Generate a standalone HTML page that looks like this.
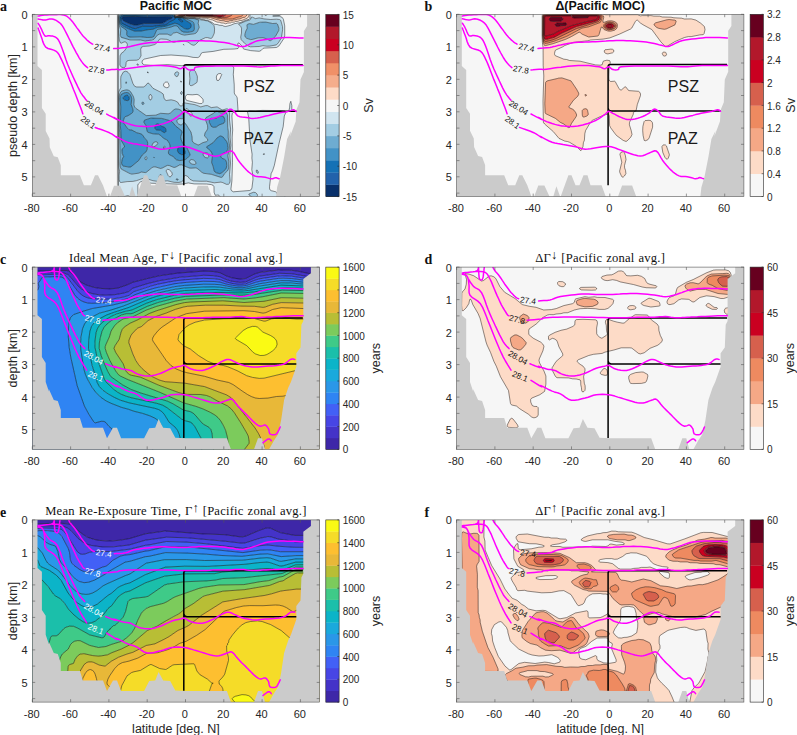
<!DOCTYPE html>
<html lang="en"><head><meta charset="utf-8"><title>Pacific MOC and age figure</title>
<style>html,body{margin:0;padding:0;background:#fff}svg{display:block}</style></head>
<body>
<svg width="797" height="735" viewBox="0 0 797 735" font-family='"Liberation Sans", Arial, Helvetica, sans-serif' fill="#262626">
<rect width="797" height="735" fill="#fff"/>
<defs>
<clipPath id="cpa"><rect x="32.3" y="14.4" width="287.3" height="182.2"/></clipPath>
<clipPath id="cpb"><rect x="456.6" y="14.3" width="287.3" height="182.2"/></clipPath>
<clipPath id="cpc"><rect x="32.3" y="267.1" width="287.3" height="182.2"/></clipPath>
<clipPath id="cpd"><rect x="456.6" y="267.1" width="287.3" height="182.2"/></clipPath>
<clipPath id="cpe"><rect x="32.3" y="519.9" width="287.3" height="182.2"/></clipPath>
<clipPath id="cpf"><rect x="456.6" y="519.9" width="287.3" height="182.2"/></clipPath>
<linearGradient id="edgeg" x1="0" x2="1" y1="0" y2="0"><stop offset="0" stop-color="#777" stop-opacity="0.05"/><stop offset="1" stop-color="#444" stop-opacity="0.75"/></linearGradient>
</defs>
<g id="panel-a">
<rect x="32.3" y="14.4" width="287.3" height="182.2" fill="#f6f6f6"/>
<g clip-path="url(#cpa)">
<path d="M123.2 16.8L135.7 16.4L147.2 17.1L170.2 16.4L171.6 16.8L172.1 17.4L171.7 18.5L167.3 20.3L164.4 22.3L162.5 23.2L159.6 23.6L144.3 23.5L136.7 25.2L134.7 25.2L129.0 23.5L123.6 20.9L122.3 19.4L122.0 18.5L122.1 17.6L123.2 16.8Z" fill="#08306b" fill-rule="evenodd" stroke="#08306b" stroke-width="0.3"/>
<path d="M123.2 15.9L171.1 15.5L173.0 16.1L174.1 17.6L175.4 18.5L174.8 19.3L170.0 21.7L166.9 24.2L164.4 25.1L156.8 25.7L152.9 26.4L142.4 26.3L136.7 28.5L134.7 28.6L129.0 26.7L122.3 23.4L121.3 21.7L120.7 18.5L121.1 16.8L122.3 16.0ZM123.2 16.8L122.1 17.6L122.0 18.5L122.3 19.4L123.6 20.9L129.0 23.5L134.7 25.2L136.7 25.2L144.3 23.5L159.6 23.6L162.5 23.2L164.4 22.3L167.3 20.3L171.7 18.5L172.1 17.4L171.6 16.8L170.2 16.4L147.2 17.1L135.7 16.4L123.2 16.8ZM178.8 19.0L179.7 18.8L181.2 19.3L182.5 20.9L182.6 21.8L180.7 21.3L178.3 19.3Z" fill="#2262ab" fill-rule="evenodd" stroke="#2262ab" stroke-width="0.3"/>
<path d="M123.2 15.1L134.7 14.9L152.0 15.2L169.2 14.5L172.1 14.8L173.0 15.1L174.9 17.6L180.7 17.9L183.4 18.5L186.4 20.9L190.4 23.3L191.3 25.0L190.9 27.4L189.3 28.7L187.4 29.2L184.5 28.6L177.8 23.9L174.9 23.2L165.4 26.4L157.3 27.4L152.9 29.3L148.1 29.7L141.4 31.0L134.7 31.2L129.0 29.1L121.3 24.7L120.3 22.5L119.9 17.6L120.7 16.0L122.8 15.2ZM122.3 16.0L121.1 16.8L120.7 18.5L121.3 21.7L122.3 23.4L129.0 26.7L134.7 28.6L136.7 28.5L142.4 26.3L152.9 26.4L156.8 25.7L164.4 25.1L166.9 24.2L170.0 21.7L174.8 19.3L175.4 18.5L174.1 17.6L173.0 16.1L171.1 15.5L123.2 15.9ZM178.3 19.3L180.7 21.3L182.6 21.8L182.5 20.9L181.2 19.3L179.7 18.8L178.8 19.0ZM126.1 95.3L128.0 95.5L129.2 97.3L129.0 99.7L128.0 100.5L125.2 100.2L123.2 99.0L123.4 97.3L125.2 95.7ZM156.8 124.0L158.8 124.1L161.5 126.3L164.4 127.2L165.4 128.2L165.9 129.8L165.9 131.4L165.4 132.2L164.4 132.6L163.5 132.3L160.6 130.3L156.8 130.0L155.8 129.6L154.9 128.2L154.8 126.5L155.4 124.9L156.5 124.1ZM179.7 146.6L182.6 147.4L184.4 149.3L185.3 152.5L184.4 154.2L182.6 154.7L180.7 154.4L178.2 152.5L177.4 150.1L177.8 148.5L179.1 146.8Z" fill="#1571b5" fill-rule="evenodd" stroke="#1571b5" stroke-width="0.3"/>
<path d="M121.3 14.7L122.8 14.4L173.4 14.4L174.9 17.3L182.8 17.7L193.1 22.2L194.1 24.2L194.4 29.0L194.1 30.2L193.1 31.1L187.4 32.3L183.6 32.0L180.9 30.6L177.8 26.6L176.4 25.8L174.9 25.7L170.2 27.3L164.4 28.5L157.7 29.4L156.4 30.6L153.9 36.3L152.0 37.3L146.2 37.5L140.5 36.8L129.0 37.0L127.0 35.5L126.6 33.9L126.8 31.5L126.1 29.8L121.3 26.7L119.8 24.2L119.2 17.6L119.7 16.0L120.5 15.2ZM122.8 15.2L120.7 16.0L119.9 17.6L120.3 22.5L121.3 24.7L129.0 29.1L134.7 31.2L141.4 31.0L148.1 29.7L152.9 29.3L157.3 27.4L165.4 26.4L174.9 23.2L177.8 23.9L184.5 28.6L187.4 29.2L189.3 28.7L190.9 27.4L191.3 25.0L190.4 23.3L186.4 20.9L183.4 18.5L180.7 17.9L174.9 17.6L173.0 15.1L172.1 14.8L169.2 14.5L152.0 15.2L134.7 14.9L123.2 15.1ZM124.2 92.9L126.1 92.5L128.0 92.7L129.8 94.0L130.8 95.7L131.7 98.9L131.2 104.6L132.7 108.7L133.1 111.1L132.4 112.7L131.5 113.5L128.0 115.7L125.2 116.7L124.4 117.6L123.3 120.8L123.9 123.3L127.1 127.9L129.0 129.8L131.9 130.1L136.7 132.7L140.8 133.8L142.3 134.7L144.5 137.9L146.7 140.3L147.7 142.8L147.4 147.7L146.2 151.7L142.2 155.0L138.6 160.6L130.9 166.9L129.0 167.1L123.2 166.0L122.3 165.2L121.5 163.1L122.3 158.9L123.6 156.6L122.2 153.3L122.0 150.1L122.3 148.8L124.6 146.8L124.1 145.2L121.6 141.2L121.0 137.9L120.8 130.6L120.3 125.7L120.8 107.0L120.1 98.9L120.4 96.4L121.0 94.8L122.3 93.6L123.3 93.2ZM125.2 95.7L123.4 97.3L123.2 99.0L125.2 100.2L128.0 100.5L129.0 99.7L129.2 97.3L128.0 95.5L126.1 95.3ZM219.0 116.3L220.9 116.0L223.8 116.8L224.5 118.4L224.8 120.8L224.4 122.5L223.7 123.3L219.2 124.9L216.1 127.1L213.2 127.3L211.3 126.4L210.4 125.0L209.4 122.3L209.2 120.8L209.8 119.2L211.3 118.3L216.1 118.5L218.2 116.8ZM150.1 118.3L152.9 117.9L161.5 118.4L170.2 120.7L172.1 121.8L176.2 126.5L181.5 130.6L182.1 132.2L180.6 137.1L181.1 139.5L182.8 143.6L185.7 146.0L186.9 147.7L190.0 154.2L190.0 155.0L188.9 156.6L186.4 158.8L184.5 159.7L180.7 160.5L176.9 160.0L175.3 159.0L173.5 156.6L170.2 155.1L168.9 154.2L168.5 153.3L168.4 151.7L170.0 147.7L170.1 146.0L169.5 143.6L167.3 140.1L163.5 138.3L160.6 135.4L158.7 134.2L152.9 133.8L148.1 132.3L147.2 131.5L146.0 125.7L144.0 122.5L144.0 120.8L144.9 120.0L149.8 118.4ZM156.5 124.1L155.4 124.9L154.8 126.5L154.9 128.2L155.8 129.6L156.8 130.0L160.6 130.3L163.5 132.3L164.4 132.6L165.4 132.2L165.9 131.4L165.9 129.8L165.4 128.2L164.4 127.2L161.5 126.3L158.8 124.1L156.8 124.0ZM179.1 146.8L177.8 148.5L177.4 150.1L178.2 152.5L180.7 154.4L182.6 154.7L184.4 154.2L185.3 152.5L184.4 149.3L182.6 147.4L179.7 146.6ZM219.9 136.1L221.9 136.2L222.8 136.7L225.7 140.1L227.5 143.6L227.9 146.8L227.6 149.6L226.6 151.5L225.7 152.4L221.9 154.0L220.7 155.8L220.9 157.0L221.8 158.2L224.7 159.4L225.9 160.7L226.6 163.1L226.5 167.2L225.9 168.8L224.7 170.1L221.9 172.6L219.9 173.7L216.4 172.8L215.0 172.0L214.2 171.0L213.1 166.3L211.6 162.3L212.4 156.6L212.0 153.3L210.7 150.9L206.8 147.7L206.6 146.8L213.2 142.6L217.1 137.9L219.4 136.3ZM153.9 157.2L154.2 157.4L153.9 157.8L153.8 157.4Z" fill="#4292c6" fill-rule="evenodd" stroke="#4292c6" stroke-width="0.3"/>
<path d="M119.4 15.1L120.1 14.4L122.8 14.4L120.4 15.3L119.3 16.8L119.5 23.3L120.4 25.6L121.3 26.7L126.1 29.8L126.8 31.5L126.6 33.9L127.0 35.5L129.0 37.0L140.5 36.8L146.2 37.5L152.0 37.3L153.9 36.3L156.4 30.6L157.7 29.4L164.4 28.5L170.2 27.3L174.9 25.7L176.4 25.8L177.8 26.6L180.9 30.6L183.6 32.0L187.4 32.3L193.1 31.1L194.1 30.2L194.4 29.0L194.1 24.2L193.1 22.2L182.8 17.6L174.9 17.3L173.4 14.4L174.2 14.4L174.8 16.8L175.9 17.2L182.6 17.3L184.5 18.1L188.3 18.6L194.1 18.6L198.8 20.1L198.2 23.3L199.2 27.4L196.8 32.3L195.0 33.5L185.5 35.1L181.6 34.5L176.9 32.3L173.4 33.1L171.1 35.3L170.2 35.3L167.3 34.1L159.6 34.1L157.7 34.9L153.9 39.3L146.2 41.0L140.5 40.0L129.0 39.7L122.3 37.9L121.3 37.4L120.6 36.3L120.2 34.7L120.7 29.8L119.3 25.8L118.6 20.9L118.5 16.8L119.3 15.2ZM259.2 22.4L262.1 22.0L265.9 22.1L272.6 23.5L276.4 23.3L277.4 24.0L278.7 27.4L278.7 30.6L275.5 36.3L272.6 39.2L270.7 40.6L269.7 40.6L266.7 38.8L263.0 37.7L258.2 37.8L252.5 39.4L250.6 39.6L246.7 38.3L245.3 37.2L244.8 35.5L245.0 33.9L245.8 31.1L247.3 28.2L246.9 25.0L247.6 24.2L249.6 23.6L253.4 24.4L258.7 22.5ZM126.1 81.8L126.5 82.6L126.3 83.5L125.8 82.7L126.0 81.8ZM126.1 89.9L128.0 90.0L129.9 91.0L131.2 92.4L133.4 96.5L134.2 99.7L133.8 104.6L134.7 107.1L135.7 108.2L146.2 115.6L155.8 115.2L160.6 113.3L168.2 113.8L170.2 113.2L174.0 109.6L175.9 108.9L178.8 109.3L181.1 110.3L182.7 112.7L183.3 115.2L183.3 117.6L182.6 118.8L179.7 118.5L177.8 119.3L176.8 120.8L177.2 122.5L178.8 124.1L180.7 124.9L181.7 124.9L183.6 122.8L184.5 122.7L185.5 123.6L191.0 132.2L192.1 137.1L192.2 140.3L192.8 142.0L194.1 143.1L197.9 144.9L198.9 144.9L202.7 142.7L206.5 141.6L207.9 140.3L207.3 138.7L204.7 136.3L204.5 135.5L205.0 133.0L207.2 129.8L207.7 128.2L207.5 125.3L205.3 119.2L206.0 117.6L213.2 113.5L216.1 111.3L217.1 111.3L220.9 112.9L225.7 112.7L226.6 113.1L227.5 115.2L227.7 127.3L228.3 131.4L228.2 137.1L229.5 145.2L229.3 149.3L227.8 155.8L228.8 161.5L228.7 167.2L228.5 168.8L227.6 170.7L224.7 173.4L222.8 176.5L221.9 177.3L219.9 177.3L211.3 174.3L203.7 173.3L201.8 172.3L197.9 168.9L196.0 167.8L191.2 168.2L189.3 168.0L181.6 164.8L179.7 164.9L175.9 167.0L174.0 167.5L169.2 165.5L167.3 165.4L162.5 167.9L160.6 168.5L155.8 167.0L153.9 166.8L152.0 167.6L146.2 172.4L145.3 172.6L141.4 172.0L138.6 173.2L131.9 174.1L129.9 173.6L121.3 169.1L120.3 167.2L119.9 163.9L120.1 156.6L119.6 132.2L119.1 124.9L119.1 97.3L119.7 94.0L121.0 91.6L122.3 90.8L126.0 90.0ZM123.3 93.2L122.3 93.6L121.0 94.8L120.4 96.4L120.1 98.9L120.8 107.0L120.3 125.7L120.8 130.6L121.0 137.9L121.6 141.2L124.1 145.2L124.6 146.8L122.3 148.8L122.0 150.1L122.2 153.3L123.6 156.6L122.3 158.9L121.5 163.1L122.3 165.2L123.2 166.0L129.0 167.1L130.9 166.9L138.6 160.6L142.2 155.0L146.2 151.7L147.4 147.7L147.7 142.8L146.7 140.3L144.5 137.9L142.3 134.7L140.8 133.8L136.7 132.7L131.9 130.1L129.0 129.8L127.1 127.9L123.9 123.3L123.3 120.8L124.4 117.6L125.2 116.7L128.0 115.7L131.5 113.5L132.4 112.7L133.1 111.1L132.7 108.7L131.2 104.6L131.7 98.9L130.8 95.6L129.8 94.0L128.0 92.7L126.1 92.5L124.2 92.9ZM218.2 116.8L216.1 118.5L211.3 118.3L209.8 119.2L209.2 120.8L209.4 122.3L210.4 125.0L211.3 126.4L213.2 127.3L216.1 127.1L219.2 124.9L223.7 123.3L224.4 122.5L224.8 120.8L224.5 118.4L223.8 116.8L220.9 116.0L219.0 116.3ZM149.8 118.4L144.9 120.0L144.0 120.8L144.0 122.5L146.0 125.7L147.2 131.5L148.1 132.3L152.9 133.8L158.7 134.2L160.6 135.4L163.5 138.3L167.3 140.1L169.5 143.6L170.1 146.0L170.0 147.7L168.4 151.7L168.5 153.3L168.9 154.2L170.2 155.1L173.5 156.6L175.3 159.0L176.9 160.0L180.7 160.5L184.5 159.7L186.4 158.8L188.9 156.6L190.0 155.0L190.0 154.2L186.9 147.7L185.7 146.0L182.8 143.6L181.1 139.5L180.6 137.1L182.1 132.2L181.5 130.6L176.2 126.5L172.1 121.8L170.2 120.7L161.5 118.4L152.9 117.9L150.1 118.3ZM219.4 136.3L217.1 137.9L213.2 142.6L206.6 146.8L206.8 147.7L210.7 150.9L212.0 153.3L212.4 156.6L211.6 162.3L213.1 166.3L214.2 171.0L215.0 172.0L216.4 172.8L219.9 173.7L221.9 172.6L224.7 170.1L225.9 168.8L226.5 167.1L226.6 163.1L225.9 160.7L224.7 159.4L221.8 158.2L220.9 157.0L220.7 155.8L221.9 154.0L225.7 152.4L226.6 151.5L227.6 149.6L227.9 146.8L227.5 143.6L225.7 140.1L222.8 136.7L221.9 136.2L219.9 136.1ZM154.8 142.0L152.9 143.2L152.1 145.2L152.2 146.0L152.9 146.8L153.9 146.8L156.6 145.2L157.7 143.6L157.7 142.8L157.1 142.0L155.8 141.7ZM163.5 146.8L163.5 148.5L164.4 148.7L165.0 146.8L164.4 146.1ZM203.2 153.3L203.1 155.0L204.1 156.6L205.6 157.6L207.5 157.9L208.3 157.4L208.7 156.6L208.5 154.1L207.5 153.2L206.5 153.0L203.7 153.1ZM146.2 156.6L145.3 157.2L144.9 158.2L145.3 159.5L146.2 159.9L147.0 158.2L147.0 157.4L146.2 156.6ZM153.8 157.4L153.9 157.8L154.2 157.4L153.9 157.2ZM190.4 159.8L189.4 161.5L190.2 163.1L192.2 164.2L195.0 164.5L195.8 163.9L196.0 163.1L195.4 161.5L193.2 159.8L191.2 159.5ZM142.4 102.1L143.4 102.2L143.9 103.0L143.9 103.8L143.4 104.4L142.4 104.4L141.8 103.8L141.7 103.0L142.3 102.2ZM159.6 175.1L160.6 174.6L161.8 175.3L162.4 176.9L161.9 177.7L160.6 178.3L159.2 177.7L159.0 176.9L159.5 175.3ZM176.9 178.8L178.1 179.3L177.8 180.0L176.6 180.2L176.0 179.3Z" fill="#6eacd1" fill-rule="evenodd" stroke="#6eacd1" stroke-width="0.3"/>
<path d="M118.5 14.4L120.1 14.4L118.8 16.0L118.5 19.3L119.1 25.0L120.7 29.8L120.2 34.7L120.6 36.3L121.3 37.4L122.3 37.9L129.0 39.7L140.5 40.0L146.2 41.0L153.9 39.3L157.7 34.9L159.6 34.1L167.3 34.1L170.2 35.3L171.1 35.3L173.4 33.1L176.9 32.3L181.6 34.5L184.5 35.1L194.1 33.8L196.0 33.1L197.4 31.5L199.2 27.4L198.2 23.3L198.8 20.1L194.1 18.6L188.3 18.6L184.5 18.1L182.6 17.3L174.9 17.0L174.2 14.4L174.5 14.4L174.9 16.5L175.9 16.9L182.6 17.0L186.4 18.0L195.0 18.2L196.0 18.7L199.8 19.2L200.8 19.9L207.5 20.9L212.3 23.7L214.1 25.8L214.6 29.0L214.5 32.3L213.2 35.8L211.9 38.0L210.4 38.4L206.5 37.5L204.6 38.0L198.9 40.9L196.0 44.1L194.1 45.2L192.2 44.9L187.4 41.8L183.6 40.8L179.7 40.6L174.0 42.3L172.1 41.8L168.2 39.9L166.3 39.3L161.5 39.0L159.6 39.2L156.8 43.0L154.8 44.5L149.1 46.0L143.4 46.4L141.4 47.2L140.7 49.3L141.0 55.8L139.5 58.6L138.6 59.5L136.7 60.2L129.0 60.4L127.1 60.9L126.2 62.3L126.0 65.6L125.2 67.1L124.2 67.7L122.3 67.6L120.4 66.0L119.9 64.8L120.3 55.0L121.3 53.3L123.6 51.8L125.6 49.3L127.0 46.9L127.4 44.5L126.8 42.8L125.2 41.9L124.2 41.9L121.3 43.2L120.4 42.8L119.4 40.5L118.7 34.7L118.1 20.1L118.3 15.2ZM251.5 17.0L255.4 18.6L259.2 17.9L264.9 19.0L271.6 19.5L277.4 19.2L280.3 19.9L280.9 20.9L282.6 27.4L281.9 36.3L281.4 38.0L277.4 44.1L275.5 45.3L268.8 46.2L263.0 45.6L259.2 46.5L251.5 46.8L249.6 46.6L247.7 45.7L242.9 41.6L241.0 39.2L240.7 37.2L241.5 33.1L241.5 28.2L240.8 26.6L238.6 24.2L245.8 21.1L249.6 20.0L250.5 19.3L251.2 17.6ZM258.7 22.5L253.4 24.4L249.6 23.6L247.6 24.2L246.9 25.0L247.3 28.2L245.8 31.1L245.0 33.9L244.8 35.5L245.3 37.1L246.7 38.3L250.6 39.6L252.5 39.4L258.2 37.8L263.0 37.7L266.7 38.8L269.7 40.6L270.7 40.6L272.6 39.2L275.5 36.3L278.7 30.6L278.7 27.4L277.4 24.0L276.4 23.3L272.6 23.5L265.9 22.1L262.1 22.0L259.2 22.4ZM137.6 63.9L138.6 64.8L137.6 65.1L136.9 64.8L137.2 64.0ZM192.2 69.6L194.1 70.1L195.3 71.3L197.3 76.2L197.5 77.8L197.2 81.0L196.6 82.7L192.2 85.5L190.3 85.5L189.4 84.3L189.3 83.5L189.9 78.6L189.5 72.1L190.3 70.5L192.1 69.7ZM125.2 71.2L127.1 71.6L128.0 72.3L129.9 74.5L132.9 83.5L134.7 86.3L136.7 87.0L143.4 87.0L145.4 85.9L147.2 83.5L148.1 83.1L149.1 83.5L153.0 88.3L161.0 92.4L163.2 94.0L164.0 98.1L165.4 100.2L166.3 100.5L171.1 99.8L174.9 100.7L177.7 102.2L179.6 105.4L180.7 105.9L182.6 105.8L182.9 105.4L182.9 103.8L183.4 103.0L184.5 102.9L195.0 104.7L200.8 106.9L205.6 105.6L207.5 105.6L211.3 107.6L217.1 106.9L221.9 109.8L222.8 109.9L226.6 108.8L227.6 109.0L228.6 109.8L229.5 112.7L229.5 120.0L230.6 129.0L230.1 137.1L230.8 145.2L229.9 155.0L230.5 163.1L229.5 174.5L230.1 181.0L229.5 183.3L228.6 184.2L226.6 184.4L222.8 182.6L220.9 182.1L214.2 182.8L206.5 181.2L200.8 181.3L193.1 180.9L190.0 179.3L187.4 176.2L185.5 175.5L184.5 175.8L183.6 176.9L183.3 180.2L182.8 181.0L181.6 181.8L178.8 182.5L174.0 182.3L167.3 180.8L161.5 181.5L157.7 181.4L152.9 180.7L147.2 178.9L143.4 178.2L136.7 180.6L132.8 181.4L127.1 181.6L121.3 182.5L120.4 182.4L119.8 181.8L119.1 179.3L119.1 175.3L119.6 171.2L118.8 168.0L118.5 163.9L118.3 95.7L118.8 91.6L120.9 87.5L120.7 78.6L121.0 76.2L122.3 73.4L123.2 72.2L124.9 71.3ZM126.0 81.8L125.8 82.7L126.3 83.5L126.5 82.7L126.1 81.8ZM126.0 90.0L122.3 90.8L121.0 91.6L119.7 94.0L119.1 97.3L119.1 124.9L119.6 132.2L120.1 156.6L119.9 163.9L120.3 167.2L121.3 169.1L129.9 173.6L131.9 174.1L138.6 173.2L141.4 172.0L145.3 172.6L146.2 172.4L152.0 167.6L153.9 166.8L155.8 167.0L160.6 168.5L162.5 167.9L167.3 165.4L169.2 165.5L174.0 167.5L175.9 167.0L179.7 164.9L181.6 164.8L189.3 168.0L191.2 168.2L196.0 167.8L197.9 168.9L201.8 172.3L203.7 173.3L211.3 174.3L219.9 177.3L221.9 177.3L222.8 176.5L224.7 173.4L227.6 170.7L228.5 168.8L228.7 167.2L228.8 161.5L227.8 155.8L229.3 149.3L229.5 145.2L228.2 137.1L228.3 131.4L227.7 127.3L227.5 115.2L226.6 113.1L225.7 112.7L220.9 112.9L217.1 111.3L216.1 111.3L213.2 113.5L206.0 117.6L205.3 119.2L207.5 125.3L207.7 128.2L207.2 129.8L205.0 133.0L204.5 135.5L204.7 136.3L207.3 138.7L207.9 140.3L206.5 141.6L202.7 142.7L198.9 144.9L197.9 144.9L194.1 143.1L192.8 142.0L192.2 140.3L192.1 137.1L191.0 132.2L185.5 123.6L184.5 122.7L183.6 122.8L181.7 124.9L180.7 124.9L178.8 124.1L177.2 122.5L176.8 120.8L177.8 119.3L179.7 118.5L182.6 118.8L183.3 117.6L183.3 115.2L182.7 112.7L181.1 110.3L178.8 109.3L175.9 108.9L174.0 109.6L170.2 113.2L168.2 113.8L160.6 113.3L155.8 115.2L146.2 115.6L135.7 108.2L134.7 107.1L133.8 104.6L134.2 99.7L133.4 96.5L131.2 92.4L129.9 91.0L128.0 90.0L126.1 89.9ZM149.6 94.8L148.9 96.5L149.1 98.3L150.1 100.0L151.0 99.9L151.9 98.1L151.9 96.5L151.0 94.7L150.1 94.5ZM142.3 102.2L141.7 103.0L141.8 103.8L142.4 104.4L143.4 104.4L143.9 103.8L143.9 103.0L143.4 102.2L142.4 102.1ZM186.1 108.7L185.8 109.5L186.4 111.3L188.8 113.5L190.3 116.0L191.2 116.4L192.1 115.2L192.2 113.5L187.4 109.0L186.4 108.5ZM167.0 169.6L166.2 170.4L166.2 171.2L168.2 175.6L169.2 176.7L170.2 176.8L171.1 176.3L172.3 174.5L172.0 172.8L169.4 169.6L167.3 169.4ZM159.5 175.3L159.0 176.9L159.2 177.7L160.6 178.3L161.9 177.7L162.4 176.9L161.8 175.3L160.6 174.6L159.6 175.1ZM176.0 179.3L176.6 180.2L177.8 180.0L178.1 179.3L176.9 178.8ZM147.2 72.0L148.1 72.0L148.3 72.9L147.7 72.9L147.2 72.1ZM176.9 71.8L178.0 72.1L178.7 73.7L177.8 76.1L176.9 76.7L175.7 76.2L174.6 74.5L174.9 73.0L176.0 72.1ZM180.7 81.0L181.6 82.0L180.7 82.0L180.7 81.0ZM181.6 91.4L182.3 92.4L181.6 94.5L180.9 94.0L180.6 93.2L180.7 92.3L181.4 91.6ZM155.8 141.7L157.1 142.0L157.7 142.8L157.7 143.6L156.6 145.2L153.9 146.8L152.9 146.8L152.2 146.0L152.1 145.2L152.9 143.2L154.8 142.0ZM164.4 146.1L165.0 146.8L164.4 148.7L163.5 148.5L163.5 146.8ZM203.7 153.1L206.5 153.0L207.5 153.2L208.5 154.1L208.7 156.6L208.3 157.4L207.5 157.9L205.6 157.6L204.1 156.6L203.1 155.0L203.2 153.3ZM264.0 153.4L264.4 154.2L264.1 155.0L263.3 154.2ZM146.2 156.6L147.0 157.4L147.0 158.2L146.2 159.9L145.3 159.5L144.9 158.2L145.3 157.2L146.2 156.6ZM191.2 159.5L193.2 159.8L195.4 161.5L196.0 163.1L195.8 163.9L195.0 164.5L192.2 164.2L190.2 163.1L189.4 161.5L190.4 159.8ZM256.3 170.2L257.3 170.2L258.2 171.2L258.2 173.2L257.3 173.2L256.3 172.2L256.2 170.4ZM253.4 192.3L254.8 192.3L256.3 193.1L257.4 194.8L257.3 196.4L256.3 197.6L255.4 198.1L253.4 198.1L248.9 194.8L248.9 194.0L253.3 192.3Z" fill="#a3cde3" fill-rule="evenodd" stroke="#a3cde3" stroke-width="0.3"/>
<path d="M118.5 14.4L118.1 16.8L118.1 21.7L118.7 35.5L119.4 40.5L120.4 42.8L121.3 43.2L124.2 41.9L125.2 41.9L126.8 42.8L127.4 44.5L127.2 46.1L126.1 48.5L124.2 51.2L121.3 53.4L120.1 55.8L119.9 64.8L120.4 66.0L121.3 67.1L123.2 67.7L125.0 67.2L125.7 66.4L126.2 62.3L127.1 60.9L129.0 60.4L136.7 60.2L138.6 59.5L139.5 58.6L141.0 55.8L140.7 49.3L141.4 47.2L143.4 46.4L149.1 46.0L154.8 44.5L156.8 43.0L159.6 39.2L161.5 39.0L166.3 39.3L168.2 39.9L172.1 41.8L174.0 42.3L179.7 40.6L183.6 40.8L188.0 42.0L191.3 44.5L193.1 45.2L194.1 45.2L195.5 44.5L199.6 40.4L205.6 37.6L207.5 37.6L210.4 38.4L211.3 38.3L212.3 37.6L214.3 33.1L214.6 29.0L214.1 25.8L211.8 23.3L207.5 20.9L200.8 19.9L199.8 19.2L196.0 18.7L195.0 18.2L186.4 18.0L182.6 17.0L175.9 16.9L174.9 16.5L174.5 14.4L174.9 14.4L175.2 16.0L175.9 16.6L182.6 16.7L185.5 17.4L189.3 17.7L195.0 17.7L197.0 18.3L199.8 18.5L201.6 19.3L203.7 19.4L205.6 20.1L207.5 20.2L212.3 22.6L214.2 24.2L218.0 24.7L219.0 25.2L222.8 25.5L223.8 26.2L225.7 26.5L230.5 25.3L234.3 23.7L240.5 22.5L245.8 20.2L249.0 19.3L249.8 18.5L250.1 14.4L264.5 14.4L264.9 15.2L265.9 15.5L266.6 15.2L267.2 14.4L281.4 14.4L279.3 15.5L272.7 16.0L279.3 16.2L282.2 17.4L283.4 19.3L284.7 25.8L284.7 35.5L284.2 38.0L278.8 46.1L276.4 47.5L264.0 48.1L262.9 48.5L261.1 50.5L259.2 51.3L250.6 50.6L243.9 49.1L243.2 48.5L242.7 46.9L240.0 44.0L239.1 43.0L238.1 43.0L237.7 44.5L238.7 47.7L238.0 48.5L234.3 49.0L223.8 49.3L213.2 51.4L202.7 52.5L201.2 53.4L199.6 56.6L197.9 57.6L193.1 57.4L187.4 56.2L171.1 55.0L160.6 55.5L144.3 59.1L142.4 60.5L142.0 62.3L142.7 64.0L144.3 64.8L153.9 65.5L167.3 64.6L181.6 65.7L198.9 65.3L212.3 65.9L218.0 65.0L221.9 64.9L231.4 65.4L233.2 66.4L233.8 68.0L233.3 74.5L234.2 84.3L234.3 92.8L234.6 94.0L236.6 96.5L237.2 97.9L238.0 110.3L237.8 111.1L237.2 111.5L234.3 112.0L232.8 112.7L232.3 113.5L231.9 116.0L232.7 129.8L232.2 137.1L232.5 162.3L231.9 181.0L230.9 189.1L231.5 190.7L233.3 191.8L249.6 190.5L250.9 189.9L251.5 189.1L252.0 187.5L253.0 179.3L252.7 174.5L251.8 169.6L252.4 162.3L251.9 158.2L252.1 154.2L250.1 141.2L248.7 117.6L247.5 111.9L248.3 111.1L249.6 110.8L255.4 111.0L262.1 110.4L281.2 110.6L284.8 111.1L286.1 111.9L284.3 116.0L283.2 126.5L278.8 144.4L274.3 165.5L272.6 170.7L271.1 173.7L269.5 186.7L269.6 189.1L270.0 189.9L271.3 190.7L275.5 191.7L276.5 192.3L277.4 194.1L278.3 194.0L279.3 192.3L280.9 191.5L283.1 191.7L284.0 192.3L284.9 194.8L284.9 199.7L267.2 199.7L266.9 198.2L265.9 197.5L264.8 198.0L264.3 199.7L219.6 199.7L220.2 198.0L219.9 196.4L219.0 195.3L218.0 195.0L215.2 195.3L214.1 192.3L214.0 186.7L213.2 185.4L211.3 184.6L206.5 184.0L194.1 183.9L188.3 182.9L182.6 184.0L177.8 184.2L151.0 183.2L148.1 182.7L145.3 181.1L143.4 180.8L140.6 181.8L138.6 183.7L137.8 185.0L137.9 192.3L137.3 199.7L118.4 199.7L117.8 163.9L117.8 14.4ZM251.2 17.6L250.5 19.3L249.6 20.0L245.8 21.1L238.6 24.2L240.8 26.6L241.5 28.2L241.5 33.1L240.7 37.2L241.0 39.2L242.9 41.6L247.7 45.7L249.6 46.6L251.5 46.8L259.2 46.5L263.0 45.6L268.8 46.2L275.5 45.3L277.4 44.1L281.4 38.0L281.9 36.3L282.6 27.4L280.9 20.9L280.3 19.9L277.4 19.2L271.6 19.5L264.9 19.0L259.2 17.9L255.4 18.6L251.5 17.0ZM183.4 44.5L183.6 45.1L183.6 44.4ZM184.4 45.3L184.5 45.3ZM137.2 64.0L136.9 64.8L137.6 65.1L138.6 64.8L137.6 63.9ZM192.1 69.7L190.3 70.5L189.5 72.1L189.9 78.6L189.3 83.5L189.4 84.3L190.3 85.5L192.2 85.5L196.6 82.7L197.2 81.0L197.5 77.8L197.3 76.2L195.3 71.3L194.1 70.1L192.2 69.6ZM124.9 71.3L123.2 72.2L122.3 73.4L121.0 76.2L120.7 78.6L120.9 87.5L118.8 91.6L118.3 95.7L118.5 163.9L118.8 168.0L119.6 171.2L119.1 175.3L119.1 179.3L119.8 181.8L120.4 182.4L121.3 182.5L127.1 181.6L132.8 181.4L136.7 180.6L143.4 178.2L147.2 178.9L152.9 180.7L157.7 181.4L161.5 181.5L167.3 180.8L174.0 182.3L178.8 182.5L181.6 181.8L182.8 181.0L183.3 180.2L183.6 176.9L184.5 175.8L185.5 175.5L187.4 176.2L190.0 179.3L193.1 180.9L200.8 181.3L206.5 181.2L214.2 182.8L220.9 182.1L222.8 182.6L226.6 184.4L228.6 184.2L229.5 183.3L230.1 181.0L229.5 174.5L230.5 163.1L229.9 155.0L230.8 145.2L230.1 137.1L230.6 129.0L229.5 120.0L229.5 112.7L228.6 109.8L227.6 109.0L226.6 108.8L222.8 109.9L221.9 109.8L217.1 106.9L211.3 107.6L207.5 105.6L205.6 105.6L200.8 106.9L195.0 104.7L184.5 102.9L183.4 103.0L182.9 103.8L182.9 105.4L182.6 105.8L180.7 105.9L179.6 105.4L177.7 102.2L174.9 100.7L171.1 99.8L166.3 100.5L165.4 100.2L164.0 98.1L163.2 94.0L161.0 92.4L153.0 88.3L149.1 83.5L148.1 83.1L147.2 83.5L145.4 85.9L143.4 87.0L136.7 87.0L134.7 86.3L132.9 83.5L129.9 74.5L128.0 72.3L127.1 71.6L125.2 71.2ZM147.2 72.1L147.7 72.9L148.3 72.9L148.1 72.0L147.2 72.0ZM176.0 72.1L174.9 73.0L174.6 74.5L175.7 76.2L176.9 76.7L177.8 76.1L178.7 73.7L178.0 72.1L176.9 71.8ZM218.6 73.7L217.1 74.7L216.3 77.0L216.8 80.2L218.0 80.7L219.0 80.1L219.9 78.8L221.7 74.5L220.9 73.6L219.0 73.6ZM180.7 81.0L180.7 82.0L181.6 82.0L180.7 81.0ZM164.7 82.7L164.0 83.5L163.4 85.1L164.1 86.7L166.3 87.7L168.2 87.5L169.2 85.9L168.2 82.8L167.3 82.0L165.4 82.2ZM181.4 91.6L180.7 92.3L180.6 93.2L180.9 94.0L181.6 94.5L182.3 92.4L181.6 91.4ZM186.7 94.8L185.5 96.4L185.3 98.1L185.9 99.7L187.0 100.5L199.8 103.6L201.8 103.5L203.1 102.2L203.1 99.7L202.1 98.1L198.9 95.2L197.0 94.4L192.2 94.8L187.4 94.5ZM260.5 141.2L261.1 142.4L262.1 142.6L262.8 142.0L262.8 141.2L261.1 140.6ZM263.3 154.2L264.1 155.0L264.4 154.2L264.0 153.4ZM256.2 170.4L256.3 172.2L257.3 173.2L258.2 173.2L258.2 171.2L257.3 170.2L256.3 170.2ZM253.3 192.3L248.9 194.0L248.9 194.8L253.4 198.1L255.4 198.1L256.3 197.6L257.3 196.4L257.4 194.8L256.3 193.1L254.8 192.3L253.4 192.3ZM127.8 195.6L124.8 196.4L123.5 197.2L124.1 198.0L128.0 198.8L129.6 198.0L130.0 197.2L129.8 196.4L128.0 195.6ZM150.1 94.5L151.0 94.7L151.9 96.5L151.9 98.1L151.0 99.9L150.1 100.0L149.1 98.3L148.9 96.5L149.6 94.8ZM290.8 101.3L291.9 106.2L291.6 110.3L290.8 111.2L289.8 111.4L288.8 111.1L290.4 102.2ZM186.4 108.5L187.4 109.0L192.2 113.5L192.1 115.2L191.2 116.4L190.3 116.0L188.8 113.5L186.4 111.3L185.8 109.5L186.1 108.7ZM167.3 169.4L169.4 169.6L172.0 172.8L172.3 174.5L171.1 176.3L170.2 176.8L169.2 176.7L168.2 175.6L166.2 171.2L166.2 170.4L167.0 169.6Z" fill="#d1e5f0" fill-rule="evenodd" stroke="#d1e5f0" stroke-width="0.3"/>
<path d="M175.9 14.4L176.3 14.4L176.9 15.6L177.8 15.9L186.4 16.0L190.3 16.6L198.9 16.6L202.7 17.3L210.4 17.6L217.1 19.7L219.0 20.0L219.9 20.5L223.8 20.8L225.7 21.5L228.6 21.3L229.5 20.8L232.4 20.5L233.3 20.0L236.2 19.7L237.2 19.2L240.0 18.9L242.9 17.5L244.8 17.3L246.3 16.0L247.2 14.4L249.1 14.4L248.9 16.0L247.7 18.0L242.0 20.4L239.1 20.7L238.1 21.3L235.3 21.5L234.3 22.1L231.4 22.3L230.5 22.9L227.6 23.1L225.7 23.8L223.8 23.1L220.9 22.9L219.9 22.3L217.1 22.1L212.3 19.9L210.4 19.6L206.5 18.3L201.8 18.1L198.9 17.4L176.9 16.2L175.8 16.0L175.5 14.4Z" fill="#fddbc7" fill-rule="evenodd" stroke="#fddbc7" stroke-width="0.3"/>
<path d="M176.9 14.4L177.8 15.3L179.7 15.6L210.4 16.7L215.9 17.6L217.1 18.2L220.9 18.4L222.8 19.0L225.7 19.1L232.4 19.0L239.1 16.8L241.0 16.6L243.5 14.4L247.2 14.4L246.3 16.0L244.8 17.3L242.9 17.5L240.0 18.9L237.2 19.2L236.2 19.7L233.3 20.0L232.4 20.5L229.5 20.8L228.6 21.3L225.7 21.5L223.8 20.8L219.9 20.5L219.0 20.0L217.1 19.7L210.4 17.6L202.7 17.3L198.9 16.6L190.3 16.6L186.4 16.0L177.8 15.9L176.4 15.2L176.3 14.4Z" fill="#f5ad8c" fill-rule="evenodd" stroke="#f5ad8c" stroke-width="0.3"/>
<path d="M177.8 14.4L179.7 15.2L210.4 16.1L216.1 16.8L218.0 17.5L224.7 17.7L226.6 17.6L230.5 16.0L231.8 15.2L232.3 14.4L243.5 14.4L241.0 16.6L239.1 16.8L232.4 19.0L225.7 19.1L222.8 19.0L220.9 18.4L217.1 18.2L215.9 17.6L210.4 16.7L179.7 15.6L177.8 15.3L177.2 14.4Z" fill="#f09068" fill-rule="evenodd" stroke="#f09068" stroke-width="0.3"/>
<path d="M178.8 14.4L179.7 14.7L190.3 15.3L211.3 15.8L216.1 16.1L219.9 16.9L221.9 16.6L225.5 15.2L225.7 14.4L232.3 14.4L231.8 15.2L230.5 16.0L226.6 17.6L224.7 17.7L218.0 17.5L216.1 16.8L210.4 16.1L179.7 15.2L178.1 14.4Z" fill="#d6604d" fill-rule="evenodd" stroke="#d6604d" stroke-width="0.3"/>
<path d="M179.7 14.4L198.9 15.0L201.8 15.4L216.1 15.4L219.9 16.2L221.1 16.0L223.0 14.4L225.9 14.4L225.5 15.2L224.7 15.3L223.6 16.0L219.9 16.9L216.1 16.1L211.3 15.8L190.3 15.3L179.7 14.7L179.0 14.4Z" fill="#ca0020" fill-rule="evenodd" stroke="#ca0020" stroke-width="0.3"/>
<path d="M180.7 14.4L211.3 14.9L212.3 14.9L213.2 14.4L223.0 14.4L221.1 16.0L219.9 16.2L216.1 15.4L201.8 15.4L198.9 15.0L190.3 15.0L180.6 14.4Z" fill="#b2182b" fill-rule="evenodd" stroke="#b2182b" stroke-width="0.3"/>
<path d="M184.5 14.4L213.2 14.4L212.3 14.9L211.3 14.9L184.4 14.4Z" fill="#67001f" fill-rule="evenodd" stroke="#67001f" stroke-width="0.3"/>
<path d="M123.2 16.8L122.1 17.6L122.0 18.5L122.3 19.4L123.6 20.9L129.0 23.5L134.7 25.2L136.7 25.2L144.3 23.5L161.5 23.4L163.5 22.9L167.3 20.3L171.7 18.5L172.1 17.4L171.6 16.8L170.2 16.4L147.2 17.1L135.7 16.4L124.2 16.7ZM123.2 15.9L121.3 16.6L120.8 17.6L121.3 21.7L122.3 23.4L129.0 26.7L133.8 28.4L135.7 28.6L142.4 26.3L152.9 26.4L156.8 25.7L164.4 25.1L166.9 24.2L170.0 21.7L174.8 19.3L175.4 18.5L174.1 17.6L173.0 16.1L170.2 15.4L151.0 15.9L124.2 15.8ZM178.8 19.0L178.3 19.3L180.7 21.3L181.6 21.8L182.7 21.7L182.5 20.9L181.2 19.3L179.7 18.8L178.8 19.0M123.2 15.1L121.3 15.6L120.1 16.8L120.1 21.7L120.9 24.2L122.3 25.5L128.0 28.6L134.7 31.2L141.4 31.0L148.1 29.7L152.9 29.3L157.3 27.4L165.4 26.4L174.9 23.2L177.8 23.9L184.5 28.6L187.4 29.2L189.3 28.7L190.9 27.4L191.3 25.0L190.4 23.3L186.4 20.9L183.4 18.5L180.7 17.9L174.9 17.6L173.0 15.1L172.1 14.8L169.2 14.5L152.0 15.2L124.2 15.1ZM126.1 95.3L124.0 96.5L123.2 97.6L123.2 98.9L124.2 99.8L127.1 100.7L128.0 100.5L129.0 99.8L129.3 98.1L128.8 96.5L128.0 95.5L127.1 95.2ZM156.8 124.0L155.4 124.9L154.8 126.5L154.9 128.2L155.8 129.6L156.8 130.0L160.6 130.3L163.5 132.3L164.4 132.6L165.4 132.2L165.9 131.4L165.9 129.8L165.4 128.2L164.4 127.2L161.5 126.3L159.6 124.5L157.7 123.9ZM179.7 146.6L178.8 147.1L177.8 148.5L177.4 150.9L178.9 153.3L181.6 154.7L183.6 154.5L184.5 154.1L185.1 153.3L185.2 151.7L183.9 148.5L182.6 147.4L180.7 146.6ZM122.8 14.4L120.4 15.3L119.3 16.8L119.5 23.3L120.4 25.6L121.3 26.7L126.1 29.8L126.8 31.5L126.7 34.7L127.7 36.3L129.9 37.1L140.5 36.8L147.2 37.5L152.0 37.3L153.9 36.4L156.4 30.6L157.7 29.4L164.4 28.5L170.2 27.3L174.9 25.7L176.4 25.8L177.8 26.6L180.9 30.6L183.6 32.0L187.4 32.3L192.1 31.5L193.8 30.6L194.4 29.0L194.1 24.2L193.5 22.5L192.6 21.7L182.8 17.6L174.9 17.3L173.4 14.4M124.2 92.9L121.3 94.4L120.4 96.4L120.1 98.9L120.8 107.0L120.3 125.7L120.8 130.6L121.0 137.9L121.6 141.2L124.1 145.2L124.6 146.8L122.3 148.8L122.0 150.1L122.2 153.3L123.6 156.6L122.3 158.9L121.5 163.1L122.3 165.2L123.2 166.0L129.0 167.1L130.9 166.9L138.6 160.6L142.2 155.0L146.2 151.7L147.1 149.3L147.7 143.6L147.5 142.0L146.7 140.3L144.5 137.9L142.3 134.7L140.8 133.8L136.7 132.7L131.9 130.1L129.0 129.8L127.1 127.9L123.9 123.3L123.3 120.8L124.4 117.6L125.2 116.7L128.0 115.7L131.5 113.5L132.4 112.7L133.1 111.1L132.7 108.7L131.2 104.6L131.7 98.9L131.2 96.5L129.9 94.2L129.0 93.2L127.1 92.5L125.2 92.7ZM219.0 116.3L216.1 118.5L211.3 118.3L210.4 118.7L209.3 120.0L209.4 122.5L211.3 126.4L213.2 127.3L216.1 127.1L219.2 124.9L223.7 123.3L224.7 121.7L224.7 119.2L223.8 116.8L221.9 116.1L219.9 116.0ZM150.1 118.3L144.9 120.0L144.0 120.8L144.0 122.5L146.0 125.7L147.2 131.5L148.1 132.3L152.9 133.8L158.7 134.2L160.6 135.4L163.5 138.3L167.3 140.1L169.5 143.6L170.1 146.0L170.0 147.7L168.4 151.7L168.5 153.3L168.9 154.2L170.2 155.1L173.5 156.6L175.3 159.0L176.4 159.8L179.7 160.6L182.6 160.2L185.5 159.4L187.4 158.0L189.6 155.8L190.0 154.2L186.9 147.7L185.7 146.0L182.8 143.6L181.1 139.5L180.6 137.1L182.1 132.2L181.5 130.6L176.2 126.5L172.1 121.8L170.2 120.7L161.5 118.4L151.0 118.1ZM219.9 136.1L217.1 137.9L213.2 142.6L206.6 146.8L206.8 147.7L210.7 150.9L212.0 153.3L212.4 156.6L211.6 162.3L213.1 166.3L214.2 171.0L215.0 172.0L216.4 172.8L219.9 173.7L221.9 172.6L225.3 169.6L226.3 168.0L226.7 165.5L226.5 162.3L225.7 160.2L224.7 159.4L221.8 158.2L220.9 157.0L220.7 155.8L221.9 154.0L225.7 152.4L226.6 151.5L227.6 149.6L227.9 147.7L227.6 144.1L226.6 141.5L223.2 137.1L220.9 136.0ZM153.9 157.2L153.9 157.8L154.2 157.4ZM120.1 14.4L118.5 16.8L118.5 20.1L119.1 25.0L120.7 29.8L120.3 35.5L121.3 37.4L129.9 39.9L140.5 40.0L145.3 41.0L152.0 40.0L153.9 39.3L157.7 34.9L159.6 34.1L167.3 34.1L170.2 35.3L171.1 35.3L173.4 33.1L176.9 32.3L181.6 34.5L184.5 35.1L194.1 33.8L196.0 33.1L197.4 31.5L199.2 27.4L198.2 23.3L198.8 20.1L194.1 18.6L188.3 18.6L184.5 18.1L182.6 17.3L174.9 17.0L174.2 14.4M259.2 22.4L253.4 24.4L249.6 23.6L247.6 24.2L246.9 25.0L247.3 28.2L245.8 31.1L245.0 33.9L244.8 35.5L245.3 37.1L246.7 38.3L250.6 39.6L252.5 39.4L258.2 37.8L263.0 37.7L266.7 38.8L269.7 40.6L270.7 40.6L272.6 39.2L275.5 36.3L278.7 30.6L278.9 28.2L277.5 24.2L276.4 23.3L272.6 23.5L265.9 22.1L260.1 22.2ZM126.1 81.8L125.8 82.7L126.1 83.5L126.5 82.7L126.2 81.8ZM126.1 89.9L122.3 90.8L121.0 91.6L119.7 94.0L119.1 97.3L119.1 124.9L119.6 132.2L120.1 156.6L119.9 163.9L120.3 167.2L121.3 169.1L129.9 173.6L131.9 174.1L138.6 173.2L141.4 172.0L145.3 172.6L146.2 172.4L152.0 167.6L153.9 166.8L155.8 167.0L160.6 168.5L162.5 167.9L167.3 165.4L169.2 165.5L174.0 167.5L175.9 167.0L179.7 164.9L181.6 164.8L189.3 168.0L191.2 168.2L196.0 167.8L197.9 168.9L201.8 172.3L203.7 173.3L211.3 174.3L220.9 177.4L221.9 177.3L222.8 176.5L224.5 173.7L227.6 170.7L228.5 168.8L228.7 167.2L228.8 161.5L227.8 155.8L229.3 149.3L229.5 145.2L228.2 137.1L228.3 131.4L227.7 127.3L227.5 115.2L226.6 113.1L225.7 112.7L220.9 112.9L217.1 111.3L216.1 111.3L213.2 113.5L206.0 117.6L205.3 119.2L207.5 125.3L207.7 128.2L207.2 129.8L205.0 133.0L204.5 135.5L204.7 136.3L207.3 138.7L207.9 140.3L206.5 141.6L202.7 142.7L198.9 144.9L197.9 144.9L194.1 143.1L192.8 142.0L192.2 140.3L192.1 137.1L191.0 132.2L185.5 123.6L184.5 122.7L183.6 122.8L181.7 124.9L180.7 124.9L178.8 124.1L177.2 122.5L176.8 120.8L177.8 119.3L179.7 118.5L182.6 118.8L183.3 117.6L183.3 115.2L182.7 112.7L181.1 110.3L178.8 109.3L175.9 108.9L174.0 109.6L170.2 113.2L168.2 113.8L160.6 113.3L155.8 115.2L146.2 115.6L135.7 108.2L134.7 107.1L133.8 104.6L134.2 99.7L133.4 96.5L130.5 91.6L129.0 90.4L127.1 89.9ZM142.4 102.1L141.7 103.0L142.4 104.4L143.4 104.4L143.9 103.8L143.9 103.0L143.3 102.2ZM155.8 141.7L157.1 142.0L157.7 142.8L157.7 143.6L156.6 145.2L153.9 146.8L152.9 146.8L152.2 146.0L152.1 145.2L152.9 143.2L154.8 142.0ZM164.4 146.1L165.0 146.8L164.4 148.7L163.5 148.5L163.5 146.8ZM203.7 153.1L206.5 153.0L207.5 153.2L208.5 154.1L208.7 156.6L208.3 157.4L207.5 157.9L205.6 157.6L204.1 156.6L203.1 155.0L203.2 153.3ZM146.2 156.6L147.0 157.4L147.0 158.2L146.2 159.9L145.3 159.5L144.9 158.2L145.3 157.2L146.2 156.6ZM191.2 159.5L193.2 159.8L195.4 161.5L196.0 163.1L195.8 163.9L195.0 164.5L192.2 164.2L190.2 163.1L189.4 161.5L190.4 159.8ZM159.6 175.1L159.0 176.9L159.2 177.7L160.6 178.3L161.5 178.0L162.4 176.9L162.3 176.1L161.5 175.0L160.6 174.6ZM176.9 178.8L176.0 179.3L176.9 180.2L177.8 180.0L178.1 179.3L177.8 179.0ZM118.5 14.4L118.1 16.8L118.1 21.7L118.7 35.5L119.4 40.5L120.4 42.8L121.3 43.2L124.2 41.9L125.2 41.9L126.8 42.8L127.4 44.5L127.2 46.1L126.1 48.5L124.2 51.2L121.3 53.4L120.1 55.8L119.9 64.8L120.4 66.0L121.3 67.1L123.2 67.7L125.0 67.2L125.7 66.4L126.2 62.3L127.1 60.9L129.0 60.4L136.7 60.2L138.6 59.5L139.5 58.6L141.0 55.8L140.7 49.3L141.4 47.2L143.4 46.4L149.1 46.0L154.8 44.5L156.8 43.0L159.6 39.2L161.5 39.0L166.3 39.3L168.2 39.9L172.1 41.8L174.0 42.3L179.7 40.6L183.6 40.8L188.0 42.0L191.3 44.5L193.1 45.2L194.1 45.2L195.5 44.5L199.6 40.4L205.6 37.6L207.5 37.6L210.4 38.4L211.3 38.3L212.3 37.6L214.3 33.1L214.6 29.0L214.1 25.8L211.8 23.3L207.5 20.9L200.8 19.9L199.8 19.2L196.0 18.7L195.0 18.2L186.4 18.0L182.6 17.0L175.9 16.9L174.9 16.5L174.5 14.4M251.5 17.0L250.5 19.3L249.6 20.0L245.8 21.1L238.6 24.2L240.8 26.6L241.5 28.2L241.5 33.1L240.7 37.2L241.2 39.6L242.9 41.6L247.1 45.3L248.7 46.3L250.6 46.8L259.2 46.5L263.0 45.6L266.9 46.2L269.7 46.1L276.4 44.9L278.3 42.8L281.4 38.0L282.6 29.8L282.5 26.6L280.9 20.9L280.3 19.9L279.3 19.5L276.4 19.2L270.7 19.5L264.0 18.9L259.2 17.9L255.4 18.6L252.5 17.2ZM137.6 63.9L137.2 64.0L136.9 64.8L137.6 65.1L138.6 64.8L137.6 63.9M192.2 69.6L190.3 70.5L189.4 72.9L189.9 78.6L189.4 84.3L190.3 85.5L191.2 85.7L193.1 85.0L196.6 82.7L197.1 81.8L197.4 78.6L197.3 76.2L195.3 71.3L194.1 70.1L192.2 69.6M125.2 71.2L123.2 72.2L121.0 76.2L120.7 78.6L120.9 87.5L118.8 91.6L118.4 94.8L118.5 163.9L118.8 168.0L119.6 171.2L119.1 175.3L119.1 179.3L119.8 181.8L120.4 182.4L121.3 182.5L127.1 181.6L132.8 181.4L136.7 180.6L143.4 178.2L147.2 178.9L152.9 180.7L157.7 181.4L161.5 181.5L167.3 180.8L174.0 182.3L178.8 182.5L181.6 181.8L182.8 181.0L183.3 180.2L183.6 176.9L184.5 175.8L185.5 175.5L187.4 176.2L190.0 179.3L193.1 180.9L200.8 181.3L206.5 181.2L214.2 182.8L220.9 182.1L222.8 182.6L226.6 184.4L228.6 184.2L229.5 183.3L230.1 181.0L229.5 174.5L230.5 163.1L229.9 155.0L230.8 145.2L230.1 137.1L230.6 129.0L229.5 120.0L229.5 112.7L228.6 109.8L227.6 109.0L226.6 108.8L222.8 109.9L221.9 109.8L217.1 106.9L211.3 107.6L207.5 105.6L205.6 105.6L200.8 106.9L195.0 104.7L184.5 102.9L183.4 103.0L182.9 103.8L182.9 105.4L182.6 105.8L180.7 105.9L179.6 105.4L177.7 102.2L174.9 100.7L171.1 99.8L166.3 100.5L165.4 100.2L164.0 98.1L163.2 94.0L161.0 92.4L153.0 88.3L149.1 83.5L148.1 83.1L147.2 83.5L145.4 85.9L143.4 87.0L136.7 87.0L134.7 86.3L132.9 83.5L129.9 74.5L128.0 72.3L127.1 71.6L125.2 71.2M147.2 72.0L148.1 73.1L148.1 72.0ZM176.9 71.8L175.0 72.9L174.6 74.5L175.7 76.2L176.9 76.7L177.8 76.1L178.7 73.7L178.7 72.9L177.8 71.9ZM180.7 81.0L180.7 82.0L181.7 81.8L180.7 81.0ZM181.6 91.4L180.7 92.3L180.6 93.2L180.9 94.0L181.6 94.5L181.9 94.0L182.3 92.4L181.6 91.4M150.1 94.5L151.0 94.7L151.9 96.5L151.9 98.1L151.0 99.9L150.1 100.0L149.1 98.3L148.9 96.5L149.6 94.8ZM186.4 108.5L187.4 109.0L192.2 113.5L192.1 115.2L191.2 116.4L190.3 116.0L188.8 113.5L186.4 111.3L185.8 109.5L186.1 108.7ZM264.0 153.4L263.3 154.2L263.8 155.0L264.4 154.2ZM167.3 169.4L169.4 169.6L172.0 172.8L172.3 174.5L171.1 176.3L170.2 176.8L169.2 176.7L168.2 175.6L166.2 171.2L166.2 170.4L167.0 169.6ZM256.3 170.2L256.3 172.0L257.3 173.2L258.2 173.2L258.4 172.0L257.3 170.2ZM253.4 192.3L248.9 194.0L248.9 194.8L253.4 198.1L254.4 198.2L256.3 197.6L257.5 195.6L257.1 194.0L255.4 192.5L253.4 192.3M117.8 14.4L117.8 163.9L118.4 199.7M250.1 14.4L249.8 18.5L249.0 19.3L245.8 20.2L240.5 22.5L234.3 23.7L230.5 25.3L225.7 26.5L223.8 26.2L222.8 25.5L219.0 25.2L218.0 24.7L214.2 24.2L212.3 22.6L207.5 20.2L205.6 20.1L203.7 19.4L201.6 19.3L199.8 18.5L197.0 18.3L195.0 17.7L189.3 17.7L185.5 17.4L182.6 16.7L175.9 16.6L175.2 16.0L174.9 14.4M267.2 14.4L266.6 15.2L265.9 15.5L264.9 15.2L264.5 14.4M137.3 199.7L137.9 192.3L137.8 185.0L138.6 183.7L140.6 181.8L143.4 180.8L145.3 181.1L148.1 182.7L151.0 183.2L177.8 184.2L182.6 184.0L188.3 182.9L194.1 183.9L206.5 184.0L211.3 184.6L213.2 185.4L214.0 186.7L214.1 192.3L215.2 195.3L218.0 195.0L219.0 195.3L219.9 196.4L220.2 198.0L219.6 199.7M264.3 199.7L264.8 198.0L265.9 197.5L266.9 198.2L267.2 199.7M284.9 199.7L284.9 194.8L284.0 192.3L283.1 191.7L280.9 191.5L279.3 192.3L278.3 194.0L277.4 194.1L276.5 192.3L275.5 191.7L271.3 190.7L270.0 189.9L269.6 189.1L269.5 186.7L271.1 173.7L272.6 170.7L274.3 165.5L278.8 144.4L283.2 126.5L284.3 116.0L286.1 111.9L284.8 111.1L281.2 110.6L262.1 110.4L255.4 111.0L249.6 110.8L248.3 111.1L247.5 111.9L248.7 117.6L250.1 141.2L252.1 154.2L251.9 158.2L252.4 162.3L251.8 169.6L252.7 174.5L253.0 179.3L252.0 187.5L251.5 189.1L250.9 189.9L249.6 190.5L233.3 191.8L231.5 190.7L230.9 189.1L231.9 181.0L232.5 162.3L232.2 137.1L232.7 129.8L231.9 116.0L232.3 113.5L232.8 112.7L234.3 112.0L237.2 111.5L237.8 111.1L238.0 110.3L237.2 97.9L236.6 96.5L234.6 94.0L234.3 92.8L234.2 84.3L233.3 74.5L233.8 68.0L233.2 66.4L231.4 65.4L221.9 64.9L218.0 65.0L212.3 65.9L198.9 65.3L181.6 65.7L167.3 64.6L153.9 65.5L144.3 64.8L142.7 64.0L142.0 62.3L142.4 60.5L144.3 59.1L160.6 55.5L171.1 55.0L187.4 56.2L193.1 57.4L197.9 57.6L199.6 56.6L201.2 53.4L202.7 52.5L213.2 51.4L223.8 49.3L234.3 49.0L238.0 48.5L238.7 47.7L237.7 44.5L238.1 43.0L239.1 43.0L240.0 44.0L242.7 46.9L243.2 48.5L243.9 49.1L250.6 50.6L259.2 51.3L261.1 50.5L262.9 48.5L264.0 48.1L276.4 47.5L278.8 46.1L284.2 38.0L284.7 35.5L284.7 25.8L283.4 19.3L282.2 17.4L279.3 16.2L272.7 16.0L279.3 15.5L281.4 14.4M183.6 44.4L183.6 45.1L183.4 44.5ZM184.5 45.3L184.4 45.3ZM219.0 73.6L220.9 73.6L221.7 74.5L219.9 78.8L219.0 80.1L218.0 80.7L216.8 80.2L216.3 77.0L217.1 74.7L218.6 73.7ZM165.4 82.2L167.3 82.0L168.2 82.8L169.2 85.9L168.2 87.5L166.3 87.7L164.1 86.7L163.4 85.1L164.0 83.5L164.7 82.7ZM187.4 94.5L192.2 94.8L197.0 94.4L198.9 95.2L202.1 98.1L203.1 99.7L203.1 102.2L201.8 103.5L199.8 103.6L187.0 100.5L185.9 99.7L185.3 98.1L185.5 96.4L186.7 94.8ZM290.8 101.3L289.9 103.8L289.6 107.8L288.8 111.1L289.8 111.4L290.8 111.2L291.8 109.5L291.8 105.4L291.0 102.2ZM261.1 140.6L262.8 141.2L262.8 142.0L262.1 142.6L261.1 142.4L260.5 141.2ZM128.0 195.6L129.8 196.4L130.0 197.2L129.6 198.0L128.0 198.8L124.1 198.0L123.5 197.2L124.8 196.4L127.8 195.6ZM249.1 14.4L248.9 16.0L247.7 18.0L242.0 20.4L239.1 20.7L238.1 21.3L235.3 21.5L234.3 22.1L231.4 22.3L230.5 22.9L227.6 23.1L225.7 23.8L223.8 23.1L220.9 22.9L219.9 22.3L217.1 22.1L212.3 19.9L210.4 19.6L206.5 18.3L201.8 18.1L198.9 17.4L176.9 16.2L175.8 16.0L175.5 14.4M247.2 14.4L246.3 16.0L244.8 17.3L242.9 17.5L240.0 18.9L237.2 19.2L236.2 19.7L233.3 20.0L232.4 20.5L229.5 20.8L228.6 21.3L225.7 21.5L223.8 20.8L219.9 20.5L219.0 20.0L217.1 19.7L210.4 17.6L202.7 17.3L198.9 16.6L190.3 16.6L186.4 16.0L177.8 15.9L176.4 15.2L176.3 14.4M243.5 14.4L241.0 16.6L239.1 16.8L232.4 19.0L225.7 19.1L222.8 19.0L220.9 18.4L217.1 18.2L215.9 17.6L210.4 16.7L179.7 15.6L177.8 15.3L177.2 14.4M232.3 14.4L231.8 15.2L230.5 16.0L226.6 17.6L224.7 17.7L218.0 17.5L216.1 16.8L210.4 16.1L179.7 15.2L178.1 14.4M225.9 14.4L225.5 15.2L224.7 15.3L223.6 16.0L219.9 16.9L216.1 16.1L211.3 15.8L190.3 15.3L179.7 14.7L179.0 14.4M223.0 14.4L221.1 16.0L219.9 16.2L216.1 15.4L201.8 15.4L198.9 15.0L190.3 15.0L180.6 14.4M213.2 14.4L212.3 14.9L211.3 14.9L184.4 14.4" fill="none" stroke="#0a0a0a" stroke-width="0.45" stroke-linejoin="round"/>
</g>
<rect x="116.3" y="14.4" width="2.4" height="171.3" fill="url(#edgeg)"/>
<path d="M31.3 12.8 L37.5 12.8 L37.5 66.1 L41.9 70.0 L41.9 108.1 L45.7 113.8 L45.7 130.9 L49.5 138.5 L49.8 147.2 L53.8 156.2 L57.8 157.2 L60.8 165.2 L60.8 175.3 L79.9 175.3 L83.9 185.3 L90.9 185.3 L95.0 175.3 L98.0 175.3 L103.0 185.3 L107.0 196.4 L107.4 207.4 L109.6 207.4 L110.0 196.4 L114.0 185.7 L120.1 185.7 L125.1 196.4 L125.5 207.4 L128.7 207.4 L129.1 196.4 L132.1 186.3 L135.7 196.4 L136.5 196.4 L144.1 175.3 L147.2 175.3 L151.2 185.3 L155.2 185.3 L159.2 175.3 L163.2 175.3 L166.2 185.3 L177.3 185.3 L181.3 196.4 L181.7 207.4 L193.4 207.4 L193.8 196.4 L197.8 185.7 L207.8 185.7 L211.8 196.4 L212.2 207.4 L275.7 207.4 L276.1 196.4 L277.1 187.3 L280.1 177.3 L284.1 157.2 L287.1 139.1 L291.1 131.1 L290.0 136.6 L295.7 121.4 L296.3 110.0 L299.5 102.3 L300.5 79.5 L303.9 71.9 L303.9 30.9 L307.1 26.1 L307.1 12.8 L320.5 12.8 L320.5 206.2 L31.3 206.2Z" fill="#cbcbcb" clip-path="url(#cpa)"/>
<path d="M302.8 64.7H186.0Q183.8 64.7 183.8 66.9V185.3M183.8 108.0Q183.8 111.2 187.0 111.2H296.3" fill="none" stroke="#000" stroke-width="1.5"/>
<path d="M38.1 16.1 L39.2 15.9 L40.8 15.6 L42.7 15.3 L44.7 15.1 L47.0 15.0 L49.4 14.8 L52.0 14.8 L54.3 14.7 L56.4 14.7 L58.4 14.6 L60.2 14.6 L61.9 14.7 L63.3 14.9 L64.4 15.2 L65.5 15.6 L66.7 16.2 L67.8 17.0 L69.0 18.0 L70.2 19.1 L71.4 20.4 L72.8 22.1 L74.2 24.0 L75.7 26.1 L77.1 28.1 L78.6 30.0 L80.0 32.0 L81.4 33.9 L82.8 35.7 L84.3 37.3 L85.8 38.8 L87.2 40.2 L88.6 41.4 L89.8 42.4 L91.0 43.2 L92.0 43.8 L92.7 44.2M113.7 48.6 L116.0 48.4 L119.2 48.2 L122.7 47.8 L125.7 47.5 L127.8 47.1 L129.4 46.7 L131.1 46.3 L133.3 45.7 L136.3 45.1 L139.8 44.3 L143.5 43.6 L147.1 43.0 L150.6 42.6 L154.0 42.4 L157.5 42.3 L160.9 42.2 L164.4 42.0 L167.8 41.9 L171.3 41.8 L174.7 41.6 L178.2 41.4 L181.6 41.2 L185.1 40.9 L188.5 40.8 L192.0 40.7 L195.4 40.7 L198.9 40.7 L202.3 40.8 L205.8 40.9 L209.4 41.1 L212.9 41.3 L216.1 41.6 L219.1 41.9 L221.8 42.2 L224.5 42.5 L227.2 43.0 L230.0 43.6 L233.0 44.4 L235.8 45.2 L238.2 45.7 L240.0 46.2 L241.3 46.5 L242.5 46.6 L243.7 46.6 L245.0 46.3 L246.3 45.7 L247.7 45.1 L249.2 44.4 L251.0 43.5 L252.9 42.6 L255.0 41.6 L257.5 40.8 L260.6 40.2 L264.1 39.7 L267.7 39.2 L271.3 38.8 L274.7 38.4 L278.0 38.0 L281.4 37.7 L285.1 37.5 L289.7 37.5 L295.0 37.7 L299.7 37.9 L303.1 38.0M38.1 18.9 L39.3 19.2 L41.1 19.6 L43.0 19.9 L44.7 20.1 L46.2 19.9 L47.7 19.5 L49.1 19.1 L50.5 18.9 L51.9 19.0 L53.3 19.3 L54.7 19.8 L56.2 20.4 L57.6 21.3 L59.0 22.3 L60.5 23.5 L61.9 25.2 L63.3 27.4 L64.7 30.0 L66.2 32.9 L67.6 35.7 L69.0 38.5 L70.5 41.4 L71.9 44.3 L73.3 47.1 L74.8 49.9 L76.2 52.6 L77.7 55.2 L79.0 57.6 L80.3 59.6 L81.5 61.4 L82.7 62.9 L83.8 64.2 L84.9 65.4 L86.0 66.4 L86.9 67.1 L87.6 67.7M106.7 70.0 L108.7 69.9 L111.7 69.6 L114.8 69.4 L117.1 69.3 L118.0 69.3 L118.1 69.5 L118.3 69.7 L119.5 69.7 L122.1 69.3 L125.7 68.8 L129.6 68.2 L133.3 67.7 L136.8 67.3 L140.2 66.8 L143.7 66.4 L147.1 66.1 L150.6 65.8 L154.0 65.6 L157.5 65.5 L160.9 65.5 L164.6 65.7 L168.3 66.1 L171.8 66.5 L174.7 66.9 L176.7 67.4 L178.1 68.1 L179.1 68.6 L180.2 68.8 L181.4 68.5 L182.4 67.8 L183.4 67.1 L184.4 66.9 L185.4 67.3 L186.4 68.2 L187.4 69.1 L188.5 69.7 L189.9 69.9 L191.4 70.0 L192.8 69.9 L194.0 69.7 L194.5 69.1 L194.5 68.3 L195.0 67.5 L196.8 66.9 L200.3 66.5 L204.9 66.3 L210.3 66.2 L216.1 66.1 L222.7 66.0 L230.1 66.0 L237.4 66.0 L243.7 66.1 L248.8 66.3 L253.0 66.5 L256.8 66.8 L260.3 66.9 L263.4 66.8 L266.0 66.6 L268.5 66.3 L271.3 66.1 L274.5 65.9 L277.8 65.7 L281.3 65.6 L285.1 65.5 L289.7 65.5 L295.0 65.5 L299.7 65.5 L303.1 65.5M38.1 23.3 L38.6 24.1 L39.3 25.2 L40.1 26.5 L40.9 28.1 L41.8 29.9 L42.7 32.2 L43.7 34.2 L44.7 35.7 L45.8 36.2 L46.9 36.0 L48.2 35.7 L49.5 35.7 L51.1 35.9 L52.8 36.1 L54.6 36.7 L56.2 37.6 L57.5 38.8 L58.6 40.3 L59.7 42.4 L60.9 45.2 L62.4 49.2 L64.1 54.1 L65.8 59.3 L67.6 64.2 L69.5 68.8 L71.5 73.3 L73.4 77.5 L75.2 81.4 L76.8 84.7 L78.2 87.7 L79.6 90.4 L80.9 92.8 L82.5 95.2 L84.2 97.3 L85.6 99.2 L86.7 100.4M106.7 114.1 L108.9 115.3 L112.1 116.9 L115.2 118.5 L117.1 119.5 L117.0 119.4 L115.7 118.6 L114.3 117.7 L114.0 117.5 L115.2 118.1 L117.2 119.2 L119.7 120.5 L122.3 121.7 L124.9 122.6 L127.8 123.6 L130.7 124.5 L133.3 125.2 L135.5 125.7 L137.5 126.0 L139.5 126.2 L141.6 126.3 L143.9 126.5 L146.3 126.5 L148.8 126.5 L151.2 126.3 L153.6 126.1 L156.0 125.6 L158.4 125.1 L160.9 124.4 L163.6 123.6 L166.5 122.6 L169.3 121.5 L171.9 120.3 L174.3 118.9 L176.5 117.5 L178.5 116.0 L180.2 114.8 L181.6 113.6 L182.6 112.6 L183.4 111.8 L184.4 111.4 L185.3 111.5 L186.2 111.9 L187.2 112.6 L188.5 113.4 L190.3 114.3 L192.4 115.4 L194.6 116.6 L196.8 117.5 L198.8 118.3 L200.8 119.0 L202.8 119.5 L205.1 119.7 L207.7 119.5 L210.6 119.0 L213.5 118.3 L216.1 117.5 L218.4 116.6 L220.6 115.6 L222.6 114.5 L224.4 113.4 L226.0 112.2 L227.4 110.9 L228.7 109.8 L229.9 109.2 L231.0 109.3 L232.1 109.8 L233.1 110.6 L234.1 111.4 L235.0 112.5 L235.9 113.8 L236.9 115.1 L238.2 116.1 L240.0 116.7 L242.1 117.1 L244.3 117.3 L246.5 117.5 L248.5 117.8 L250.4 118.2 L252.5 118.4 L254.8 118.3 L257.3 118.0 L260.1 117.5 L263.0 116.8 L265.8 116.1 L268.6 115.5 L271.3 114.7 L274.1 114.0 L276.8 113.4 L279.7 112.8 L282.7 112.3 L285.5 111.9 L287.9 111.4 L289.7 110.9 L291.2 110.4 L292.3 110.0 L293.4 109.8 L294.4 110.0 L295.1 110.5 L295.7 111.1 L296.2 111.4M38.1 28.1 L38.5 29.3 L39.2 31.1 L40.0 33.3 L40.9 35.7 L41.9 38.4 L42.8 41.6 L44.1 44.7 L45.7 47.1 L48.0 48.5 L50.9 49.3 L53.8 50.1 L56.2 51.3 L57.9 53.0 L59.2 54.9 L60.4 57.3 L61.9 60.4 L63.7 64.5 L65.6 69.3 L67.6 74.5 L69.5 79.5 L71.5 84.3 L73.4 89.2 L75.4 94.0 L77.1 98.5 L78.8 103.0 L80.5 107.3 L81.9 111.1 L82.8 113.8M95.2 127.5 L97.9 128.5 L101.9 129.8 L106.1 131.4 L109.5 132.8 L112.1 134.2 L114.2 135.6 L115.9 136.8 L117.1 137.6 L117.3 137.6 L116.7 137.2 L116.2 136.7 L116.7 136.8 L118.7 137.9 L121.5 139.4 L124.8 141.1 L127.8 142.4 L130.5 143.1 L133.3 143.7 L136.1 144.1 L138.8 144.6 L141.6 145.0 L144.3 145.5 L147.1 146.0 L149.9 146.5 L152.6 147.2 L155.4 148.1 L158.1 148.8 L160.9 149.3 L163.6 149.2 L166.3 148.8 L169.1 148.3 L171.9 147.9 L175.0 147.4 L178.2 146.9 L181.4 146.6 L184.4 146.5 L186.9 146.9 L189.3 147.5 L191.6 148.4 L194.0 149.3 L196.7 150.2 L199.5 151.3 L202.3 152.4 L205.1 153.4 L207.9 154.3 L210.8 155.2 L213.5 155.9 L216.1 156.2 L218.4 155.8 L220.5 155.1 L222.4 154.2 L224.4 153.4 L226.4 152.5 L228.4 151.6 L230.3 150.9 L232.1 151.2 L233.7 152.7 L235.1 155.0 L236.6 157.7 L238.2 160.3 L240.1 162.8 L242.2 165.3 L244.4 167.8 L246.5 170.0 L248.5 171.9 L250.6 173.5 L252.7 175.0 L254.8 176.0 L256.8 176.6 L258.9 176.7 L261.0 176.7 L263.0 176.9 L265.2 177.3 L267.4 177.9 L269.5 178.5 L271.3 178.8 L272.7 178.7 L273.7 178.3 L274.6 177.9 L275.5 177.7 L276.5 177.8 L277.5 178.2 L278.4 178.5 L279.1 178.8" fill="none" stroke="#ff00ff" stroke-width="1.5" stroke-linejoin="round" stroke-linecap="round" clip-path="url(#cpa)"/>
<text transform="translate(102.3 47.7) rotate(12)" text-anchor="middle" font-size="8.3" fill="#111" dy="3">27.4</text>
<text transform="translate(96.6 69.6) rotate(10)" text-anchor="middle" font-size="8.3" fill="#111" dy="3">27.8</text>
<text transform="translate(94.3 107.7) rotate(32)" text-anchor="middle" font-size="8.3" fill="#111" dy="3">28.04</text>
<text transform="translate(88.2 122.3) rotate(36)" text-anchor="middle" font-size="8.3" fill="#111" dy="3">28.1</text>
<rect x="32.3" y="14.4" width="287.3" height="182.2" fill="none" stroke="#555" stroke-width="0.6"/>
<text x="31.7" y="212.1" text-anchor="middle" font-size="11">-80</text>
<text x="70.0" y="212.1" text-anchor="middle" font-size="11">-60</text>
<text x="108.3" y="212.1" text-anchor="middle" font-size="11">-40</text>
<text x="146.6" y="212.1" text-anchor="middle" font-size="11">-20</text>
<text x="184.9" y="212.1" text-anchor="middle" font-size="11">0</text>
<text x="223.2" y="212.1" text-anchor="middle" font-size="11">20</text>
<text x="261.5" y="212.1" text-anchor="middle" font-size="11">40</text>
<text x="299.8" y="212.1" text-anchor="middle" font-size="11">60</text>
<text x="27.5" y="18.8" text-anchor="end" font-size="11">0</text>
<text x="27.5" y="51.3" text-anchor="end" font-size="11">1</text>
<text x="27.5" y="83.8" text-anchor="end" font-size="11">2</text>
<text x="27.5" y="116.3" text-anchor="end" font-size="11">3</text>
<text x="27.5" y="148.8" text-anchor="end" font-size="11">4</text>
<text x="27.5" y="181.3" text-anchor="end" font-size="11">5</text>
<path d="M32.3 196.6v-2.9M32.3 14.4v2.9M70.6 196.6v-2.9M70.6 14.4v2.9M108.9 196.6v-2.9M108.9 14.4v2.9M147.2 196.6v-2.9M147.2 14.4v2.9M185.5 196.6v-2.9M185.5 14.4v2.9M223.8 196.6v-2.9M223.8 14.4v2.9M262.1 196.6v-2.9M262.1 14.4v2.9M300.4 196.6v-2.9M300.4 14.4v2.9M32.3 14.4h2.9M319.6 14.4h-2.9M32.3 30.6h2.9M319.6 30.6h-2.9M32.3 46.9h2.9M319.6 46.9h-2.9M32.3 63.1h2.9M319.6 63.1h-2.9M32.3 79.4h2.9M319.6 79.4h-2.9M32.3 95.7h2.9M319.6 95.7h-2.9M32.3 111.9h2.9M319.6 111.9h-2.9M32.3 128.2h2.9M319.6 128.2h-2.9M32.3 144.4h2.9M319.6 144.4h-2.9M32.3 160.7h2.9M319.6 160.7h-2.9M32.3 176.9h2.9M319.6 176.9h-2.9M32.3 193.2h2.9M319.6 193.2h-2.9" stroke="#555" stroke-width="0.6" fill="none"/>
<text transform="translate(16.7 105.5) rotate(-90)" text-anchor="middle" font-size="12.5">pseudo depth [km]</text>
</g>
<g id="panel-b">
<rect x="456.6" y="14.3" width="287.3" height="182.2" fill="#f6f6f6"/>
<g clip-path="url(#cpb)">
<path d="M542.8 14.3L544.1 14.3L543.0 15.1L542.7 16.7L542.7 38.7L543.4 43.6L544.7 45.6L553.3 43.6L565.7 39.3L571.5 36.5L579.1 32.2L580.1 32.4L582.0 34.1L588.7 37.0L597.3 36.1L598.3 35.7L599.0 34.6L601.2 27.2L602.1 27.0L604.0 29.5L607.9 31.0L610.7 31.2L614.6 30.2L616.3 28.9L617.2 27.3L617.4 24.9L616.8 23.2L614.6 21.6L611.7 20.8L607.9 21.0L604.0 22.4L603.1 22.4L602.9 20.8L603.7 17.6L603.5 15.9L602.1 14.8L600.2 14.3L603.2 14.3L605.9 14.8L637.5 14.7L640.4 15.9L642.3 15.6L650.9 15.6L653.8 16.1L659.6 16.2L662.4 17.0L671.0 17.2L673.9 17.8L681.6 18.2L684.4 19.0L691.2 18.9L695.9 20.1L700.7 23.2L704.4 26.5L705.0 29.7L704.0 33.8L702.6 34.9L699.8 34.9L691.2 36.6L688.3 36.6L684.4 37.5L674.9 41.6L667.2 46.2L665.3 46.5L660.9 41.9L651.9 29.6L643.3 24.9L640.4 23.0L637.5 20.2L636.6 20.2L635.3 21.6L631.8 28.0L630.8 28.9L619.3 34.2L609.8 37.9L603.1 39.1L590.6 40.0L587.8 40.8L573.4 42.4L564.8 45.5L562.8 46.8L556.2 49.8L555.2 50.5L554.5 53.3L554.7 54.9L555.3 55.7L563.8 59.2L566.7 59.5L569.6 60.5L580.1 61.2L595.4 64.9L600.2 65.2L602.2 64.7L603.1 61.4L604.0 60.9L606.9 60.2L609.6 60.6L610.3 62.2L609.9 63.9L609.2 64.7L608.8 76.9L608.9 79.3L609.6 80.9L610.7 81.5L614.6 81.2L615.3 81.7L618.8 88.2L620.3 90.0L621.3 90.0L625.1 86.7L626.1 87.2L628.0 89.9L628.9 90.6L638.5 91.3L639.8 92.3L640.5 93.9L640.5 95.5L637.3 104.5L636.2 110.2L635.6 111.2L634.1 111.8L633.4 112.6L633.3 114.2L629.5 122.4L629.4 124.8L631.2 130.5L632.0 134.5L630.8 137.1L627.9 140.2L626.1 141.5L623.2 140.4L616.5 135.5L614.6 133.1L610.7 127.8L609.6 125.6L609.3 115.9L608.8 114.5L607.9 114.1L605.0 114.8L599.2 117.1L592.5 120.3L590.6 122.0L585.6 130.5L584.8 133.7L584.4 140.2L583.4 142.7L583.0 146.4L582.0 149.0L581.1 150.5L580.1 150.2L578.2 148.1L575.3 145.7L569.6 142.3L567.7 141.6L564.8 141.1L559.0 138.4L553.3 131.6L544.6 124.0L543.4 122.4L543.0 101.2L543.8 76.0L543.2 65.5L543.1 47.6L542.2 38.7L542.3 15.1ZM666.1 20.0L655.7 22.8L654.1 24.1L654.1 24.9L656.4 27.3L658.6 28.3L664.3 29.3L666.3 28.9L674.9 24.9L676.1 21.6L676.0 20.8L674.9 20.2L669.1 19.5L666.3 19.9ZM557.4 78.5L547.5 80.8L546.1 81.7L545.6 82.5L544.8 103.7L545.2 112.6L545.6 113.5L546.6 114.1L555.3 118.3L560.4 122.4L563.8 124.0L567.7 127.1L568.6 127.6L569.6 127.4L571.5 123.4L576.1 116.7L576.7 115.0L575.7 112.6L574.0 110.2L572.4 109.1L569.2 107.7L568.8 106.9L573.3 100.4L577.6 96.4L578.6 94.7L578.7 93.1L576.5 89.1L571.0 80.9L561.9 77.9L558.1 78.2ZM584.9 94.7L585.1 95.5L585.8 96.1L586.5 95.5L586.2 94.7L584.9 94.7ZM583.2 109.4L582.4 110.2L582.2 111.0L582.3 115.0L582.8 116.7L583.9 117.1L586.8 116.0L588.0 115.0L588.3 114.2L587.5 110.2L586.8 109.1L585.8 108.7L583.9 109.0ZM610.7 49.1L612.6 49.3L613.7 50.0L613.8 51.7L612.6 52.8L607.9 53.9L605.9 53.5L604.6 52.5L604.2 50.9L605.0 49.8L610.4 49.2ZM663.4 52.2L665.3 52.1L665.7 52.5L666.5 54.1L666.5 54.9L665.9 55.7L664.3 56.1L663.4 55.8L662.4 54.0L662.3 53.3L662.8 52.5ZM645.2 120.6L649.0 120.3L650.9 120.7L652.3 122.4L652.6 124.0L652.6 127.2L649.2 137.8L648.2 139.4L647.1 140.1L645.2 140.8L644.2 140.4L643.1 135.4L642.7 130.5L642.9 126.4L644.1 121.6L645.0 120.7ZM663.4 144.9L665.3 144.9L666.4 145.9L669.2 154.1L669.4 154.9L668.3 158.1L667.2 159.3L666.3 158.9L664.9 157.3L662.8 152.4L661.9 146.7L663.0 145.1ZM623.2 151.6L624.3 152.4L625.4 155.7L626.0 159.7L624.5 165.4L624.6 167.9L625.5 170.3L625.9 173.6L624.4 176.0L623.2 177.1L622.2 177.1L621.3 175.7L619.9 172.7L619.6 171.1L621.8 162.2L619.9 154.1L620.9 152.4L623.2 151.6Z" fill="#fddbc7" fill-rule="evenodd" stroke="#fddbc7" stroke-width="0.3"/>
<path d="M543.7 14.4L600.2 14.3L602.7 15.1L603.5 15.9L603.7 17.6L602.9 20.8L603.1 22.4L604.0 22.4L607.9 21.0L610.7 20.8L613.6 21.2L616.0 22.4L616.8 23.2L617.4 24.9L617.2 27.3L616.3 28.9L614.6 30.2L611.7 31.0L608.8 31.2L605.0 30.0L603.4 28.9L602.1 27.0L601.2 27.2L600.2 29.7L599.9 32.2L598.3 35.7L589.7 37.0L587.8 36.7L582.0 34.1L580.1 32.4L579.1 32.2L571.5 36.5L565.7 39.3L553.3 43.6L544.7 45.6L543.4 43.5L542.7 38.7L542.7 16.7L543.0 15.1ZM543.6 15.1L543.1 16.7L543.0 35.4L543.7 41.8L544.7 43.4L547.5 43.1L554.2 41.2L566.7 36.3L582.0 28.1L588.7 26.8L600.2 22.5L601.5 20.0L602.2 16.7L602.1 15.9L601.2 15.2L599.2 14.6L546.6 14.5L543.7 15.0ZM607.4 22.4L605.2 23.2L603.8 24.9L603.6 26.5L604.5 28.1L605.9 29.0L608.8 29.9L612.6 29.4L614.6 28.6L615.7 27.3L616.1 25.7L615.5 24.1L614.6 23.2L612.6 22.4L609.8 22.0L607.9 22.3ZM666.3 19.9L669.1 19.5L674.9 20.2L676.0 20.8L676.1 21.6L674.9 24.9L666.3 28.9L664.3 29.3L658.6 28.3L656.4 27.3L654.1 24.9L654.1 24.1L655.7 22.8L666.1 20.0ZM558.1 78.2L561.9 77.9L571.0 80.9L576.5 89.1L578.7 93.1L578.6 94.7L577.6 96.4L573.3 100.4L568.8 106.9L569.2 107.7L572.4 109.1L574.0 110.2L575.7 112.6L576.7 115.0L576.1 116.7L571.5 123.4L569.6 127.4L568.6 127.6L567.7 127.1L563.8 124.0L560.4 122.4L555.3 118.3L546.6 114.1L545.6 113.5L545.2 112.6L544.8 103.7L545.6 82.5L546.1 81.7L547.5 80.8L557.4 78.5ZM584.9 94.7L586.2 94.7L586.5 95.5L585.8 96.1L585.1 95.5L584.9 94.7ZM583.9 109.0L585.8 108.7L586.8 109.1L587.5 110.2L588.3 114.2L588.0 115.0L586.8 116.0L583.9 117.1L582.8 116.7L582.3 115.1L582.2 111.0L582.4 110.2L583.2 109.4Z" fill="#f5a886" fill-rule="evenodd" stroke="#f5a886" stroke-width="0.3"/>
<path d="M543.7 15.0L546.6 14.5L599.2 14.6L601.2 15.2L602.1 15.9L602.2 16.7L601.5 20.0L600.2 22.5L588.7 26.8L582.0 28.1L566.7 36.3L554.2 41.2L547.5 43.1L544.7 43.4L543.7 41.8L543.0 35.4L543.1 16.7L543.6 15.1ZM544.5 15.1L543.7 15.8L543.5 16.7L543.4 35.4L544.3 40.3L544.7 41.3L545.6 41.6L551.4 40.3L555.9 38.7L576.3 28.7L598.3 21.7L600.2 20.0L600.9 16.7L600.8 15.9L600.2 15.5L598.3 15.0L544.7 15.0ZM607.9 22.3L609.8 22.0L612.6 22.4L614.6 23.2L615.5 24.1L616.1 25.7L615.7 27.3L614.6 28.6L612.6 29.4L608.8 29.9L605.9 29.0L604.5 28.1L603.6 26.5L603.8 24.9L605.2 23.2L607.4 22.4ZM607.7 23.2L605.9 23.9L605.1 24.9L604.8 26.5L605.2 27.3L607.9 28.8L609.8 29.1L611.7 28.8L613.5 28.1L614.4 27.3L615.0 25.7L614.7 24.9L612.6 23.3L609.8 22.9L607.9 23.2Z" fill="#ee8a60" fill-rule="evenodd" stroke="#ee8a60" stroke-width="0.3"/>
<path d="M544.7 15.0L598.3 15.0L600.2 15.5L600.8 15.9L600.9 16.7L600.2 20.0L598.3 21.7L576.3 28.7L555.9 38.7L551.4 40.3L545.6 41.6L544.7 41.3L544.3 40.3L543.4 35.4L543.5 16.7L543.7 15.8L544.5 15.1ZM544.3 15.9L544.0 17.6L543.9 34.6L544.7 38.8L545.6 39.3L547.5 39.1L554.2 37.3L561.9 33.0L576.3 26.5L595.4 21.3L598.3 20.0L599.2 18.9L599.7 16.7L599.4 15.9L597.3 15.4L573.4 15.2L544.7 15.6ZM607.9 23.2L609.8 22.9L612.6 23.3L614.7 24.9L615.0 25.7L614.4 27.3L613.5 28.1L611.7 28.8L609.8 29.1L607.9 28.8L605.2 27.3L604.8 26.5L605.1 24.9L605.9 23.9L607.7 23.2ZM608.0 24.1L606.5 24.9L606.1 26.5L607.9 27.9L610.7 28.2L612.9 27.3L613.6 26.5L613.6 25.5L613.3 24.9L611.8 24.1L608.8 23.9Z" fill="#d6604d" fill-rule="evenodd" stroke="#d6604d" stroke-width="0.3"/>
<path d="M544.7 15.6L573.4 15.2L597.3 15.4L599.4 15.9L599.7 16.7L599.2 18.9L598.3 20.0L595.4 21.3L576.3 26.5L561.9 33.0L554.2 37.3L547.5 39.1L545.6 39.3L544.7 38.8L543.9 34.6L544.0 17.6L544.3 15.9ZM558.5 15.9L546.6 16.1L544.8 16.7L544.5 34.6L544.7 35.5L545.6 36.2L553.3 34.0L558.1 31.3L571.5 25.6L587.8 21.3L594.5 20.0L596.4 19.3L597.5 18.4L598.2 16.7L596.4 16.0L559.0 15.9ZM608.8 23.9L611.8 24.1L613.3 24.9L613.6 25.5L613.6 26.5L612.9 27.3L610.7 28.2L607.9 27.9L606.1 26.5L606.5 24.9L608.0 24.1ZM609.2 24.9L607.8 25.7L607.8 26.5L608.8 27.2L610.3 27.3L611.8 26.5L611.8 25.7L610.7 24.9L609.8 24.8Z" fill="#ca0020" fill-rule="evenodd" stroke="#ca0020" stroke-width="0.3"/>
<path d="M559.0 15.9L596.4 16.0L598.2 16.7L597.5 18.4L596.4 19.3L594.5 20.0L587.8 21.3L571.5 25.6L558.1 31.3L553.3 34.0L545.6 36.2L544.7 35.5L544.5 34.6L544.8 16.7L546.6 16.1L558.5 15.9ZM572.9 16.7L572.6 17.6L574.4 18.0L587.8 17.6L588.6 16.7L587.8 16.7L573.4 16.7ZM550.5 17.6L549.6 18.4L549.4 19.2L549.5 20.0L550.4 21.0L553.3 21.4L561.0 21.1L562.6 20.0L562.7 18.4L561.9 17.6L560.0 17.3L551.4 17.3ZM556.6 23.2L555.4 24.1L555.3 24.9L556.2 26.2L558.1 26.4L561.0 25.6L565.7 25.4L566.5 24.1L565.7 22.8L561.9 23.3L557.1 23.1ZM609.8 24.8L610.7 24.9L611.8 25.7L611.8 26.5L610.3 27.3L608.8 27.2L607.8 26.5L607.8 25.7L609.2 24.9Z" fill="#b2182b" fill-rule="evenodd" stroke="#b2182b" stroke-width="0.3"/>
<path d="M573.4 16.7L587.8 16.7L588.6 16.7L587.8 17.6L574.4 18.0L572.6 17.6L572.9 16.7ZM551.4 17.3L560.0 17.3L561.9 17.6L562.7 18.4L562.6 20.0L561.0 21.1L553.3 21.4L550.4 21.0L549.5 20.0L549.4 19.2L549.6 18.4L550.5 17.6ZM557.1 23.1L561.9 23.3L565.7 22.8L566.5 24.1L565.7 25.4L561.0 25.6L558.1 26.4L556.2 26.2L555.3 24.9L555.4 24.1L556.6 23.2Z" fill="#67001f" fill-rule="evenodd" stroke="#67001f" stroke-width="0.3"/>
<path d="M603.2 14.3L605.9 14.8L637.5 14.7L640.4 15.9L642.3 15.6L650.9 15.6L653.8 16.1L659.6 16.2L662.4 17.0L671.0 17.2L673.9 17.8L681.6 18.2L684.4 19.0L691.2 18.9L695.9 20.1L700.7 23.2L704.4 26.5L705.0 29.7L704.0 33.8L703.3 34.6L699.8 34.9L691.2 36.6L688.3 36.6L684.4 37.5L674.9 41.6L667.2 46.2L665.3 46.5L660.9 41.9L651.9 29.6L643.3 24.9L640.4 23.0L637.5 20.2L636.6 20.2L635.3 21.6L631.8 28.0L630.8 28.9L619.3 34.2L609.8 37.9L603.1 39.1L590.6 40.0L587.8 40.8L573.4 42.4L564.8 45.5L562.8 46.8L556.2 49.8L555.2 50.5L554.5 53.3L554.7 54.9L555.3 55.7L563.8 59.2L566.7 59.5L569.6 60.5L580.1 61.2L595.4 64.9L600.2 65.2L602.2 64.7L603.1 61.4L604.0 60.9L606.9 60.2L609.6 60.6L610.3 62.2L609.9 63.9L609.2 64.7L608.8 76.9L608.9 79.3L609.6 80.9L610.7 81.5L614.6 81.2L615.3 81.7L618.8 88.2L620.3 90.0L621.3 90.0L625.1 86.7L626.1 87.2L628.0 89.9L628.9 90.6L638.5 91.3L639.8 92.3L640.5 93.9L640.5 95.5L637.3 104.5L636.2 110.2L635.6 111.2L634.1 111.8L633.4 112.6L633.3 114.2L629.5 122.4L629.4 124.8L631.2 130.5L632.0 134.5L630.8 137.1L627.9 140.2L626.1 141.5L623.2 140.4L616.5 135.5L614.6 133.1L610.7 127.8L609.6 125.6L609.3 115.9L608.8 114.5L607.9 114.1L605.0 114.8L599.2 117.1L592.5 120.3L590.6 122.0L585.6 130.5L584.8 133.7L584.4 140.2L583.4 142.7L583.0 146.4L582.0 149.0L581.1 150.5L580.1 150.2L578.2 148.1L575.3 145.7L569.6 142.3L567.7 141.6L564.8 141.1L559.0 138.4L553.3 131.6L544.6 124.0L543.4 122.4L543.0 101.2L543.8 76.0L543.2 65.5L543.1 47.6L542.4 42.7L542.1 35.4L542.1 16.7L542.3 15.1L542.8 14.3M610.7 49.1L612.6 49.3L613.7 50.0L613.8 51.7L612.6 52.8L607.9 53.9L605.9 53.5L604.6 52.5L604.2 50.9L605.0 49.8L610.4 49.2ZM663.4 52.2L665.3 52.1L665.7 52.5L666.5 54.1L666.5 54.9L665.9 55.7L664.3 56.1L663.4 55.8L662.4 54.0L662.3 53.3L662.8 52.5ZM645.2 120.6L649.0 120.3L650.9 120.7L652.3 122.4L652.6 124.0L652.6 127.2L649.2 137.8L648.2 139.4L647.1 140.1L645.2 140.8L644.2 140.4L643.1 135.4L642.7 130.5L642.9 126.4L644.1 121.6L645.0 120.7ZM663.4 144.9L665.3 144.9L666.4 145.9L669.2 154.1L669.4 154.9L668.3 158.1L667.2 159.3L666.3 158.9L664.9 157.3L662.8 152.4L661.9 146.7L663.0 145.1ZM623.2 151.6L624.3 152.4L625.4 155.7L626.0 159.7L624.5 165.4L624.6 167.9L625.5 170.3L625.9 173.6L624.4 176.0L623.2 177.1L622.2 177.1L621.3 175.7L619.9 172.7L619.6 171.1L621.8 162.2L619.9 154.1L620.9 152.4L623.2 151.6ZM600.2 14.3L602.1 14.8L603.5 15.9L603.7 17.6L602.9 20.8L603.1 22.4L604.0 22.4L607.9 21.0L611.7 20.8L614.6 21.6L616.8 23.2L617.4 24.9L617.2 27.3L616.3 28.9L614.6 30.2L610.7 31.2L607.9 31.0L604.0 29.5L602.1 27.0L601.2 27.2L599.0 34.6L598.3 35.7L597.3 36.1L588.7 37.0L582.0 34.1L580.1 32.4L579.1 32.2L571.5 36.5L565.7 39.3L553.3 43.6L545.6 45.6L544.7 45.6L543.4 43.5L542.6 36.2L542.7 16.7L543.0 15.1L544.1 14.3M666.3 19.9L669.1 19.5L674.9 20.2L676.0 20.8L676.1 21.6L674.9 24.9L666.3 28.9L664.3 29.3L658.6 28.3L656.4 27.3L654.1 24.9L654.1 24.1L655.7 22.8L666.1 20.0ZM558.1 78.2L561.9 77.9L571.0 80.9L576.5 89.1L578.7 93.1L578.6 94.7L577.6 96.4L573.3 100.4L568.8 106.9L569.2 107.7L572.4 109.1L574.0 110.2L575.7 112.6L576.7 115.0L576.1 116.7L571.5 123.4L569.6 127.4L568.6 127.6L567.7 127.1L563.8 124.0L560.4 122.4L555.3 118.3L546.6 114.1L545.6 113.5L545.2 112.6L544.8 103.7L545.6 82.5L546.1 81.7L547.5 80.8L557.4 78.5ZM584.9 94.7L586.2 94.7L586.5 95.5L585.8 96.1L585.1 95.5L584.9 94.7ZM583.9 109.0L585.8 108.7L586.8 109.1L587.5 110.2L588.3 114.2L588.0 115.0L586.8 116.0L583.9 117.1L582.8 116.7L582.3 115.1L582.2 111.0L582.4 110.2L583.2 109.4ZM543.7 15.0L546.6 14.5L599.2 14.6L601.2 15.2L602.1 15.9L602.2 16.7L601.5 20.0L600.2 22.5L588.7 26.8L582.0 28.1L566.7 36.3L554.2 41.2L547.5 43.1L544.7 43.4L543.7 41.8L543.0 35.4L543.1 16.7L543.6 15.1ZM607.9 22.3L609.8 22.0L612.6 22.4L614.6 23.2L615.5 24.1L616.1 25.7L615.7 27.3L614.6 28.6L612.6 29.4L608.8 29.9L605.9 29.0L604.5 28.1L603.6 26.5L603.8 24.9L605.2 23.2L607.4 22.4ZM544.7 15.0L598.3 15.0L600.2 15.5L600.8 15.9L600.9 16.7L600.2 20.0L598.3 21.7L576.3 28.7L555.9 38.7L551.4 40.3L545.6 41.6L544.7 41.3L544.3 40.3L543.4 35.4L543.5 16.7L543.7 15.8L544.5 15.1ZM607.9 23.2L609.8 22.9L612.6 23.3L614.7 24.9L615.0 25.7L614.4 27.3L613.5 28.1L611.7 28.8L609.8 29.1L607.9 28.8L605.2 27.3L604.8 26.5L605.1 24.9L605.9 23.9L607.7 23.2ZM544.7 15.6L573.4 15.2L597.3 15.4L599.4 15.9L599.7 16.7L599.2 18.9L598.3 20.0L595.4 21.3L576.3 26.5L561.9 33.0L554.2 37.3L547.5 39.1L545.6 39.3L544.7 38.8L543.9 34.6L544.0 17.6L544.3 15.9ZM608.8 23.9L611.8 24.1L613.3 24.9L613.6 25.5L613.6 26.5L612.9 27.3L610.7 28.2L607.9 27.9L606.1 26.5L606.5 24.9L608.0 24.1ZM559.0 15.9L596.4 16.0L598.2 16.7L597.5 18.4L596.4 19.3L594.5 20.0L587.8 21.3L571.5 25.6L558.1 31.3L553.3 34.0L545.6 36.2L544.7 35.5L544.5 34.6L544.8 16.7L546.6 16.1L558.5 15.9ZM609.8 24.8L610.7 24.9L611.8 25.7L611.8 26.5L610.3 27.3L608.8 27.2L607.8 26.5L607.8 25.7L609.2 24.9ZM573.4 16.7L587.8 16.7L588.6 16.7L587.8 17.6L574.4 18.0L572.6 17.6L572.9 16.7ZM551.4 17.3L560.0 17.3L561.9 17.6L562.7 18.4L562.6 20.0L561.0 21.1L553.3 21.4L550.4 21.0L549.5 20.0L549.4 19.2L549.6 18.4L550.5 17.6ZM557.1 23.1L561.9 23.3L565.7 22.8L566.5 24.1L565.7 25.4L561.0 25.6L558.1 26.4L556.2 26.2L555.3 24.9L555.4 24.1L556.6 23.2Z" fill="none" stroke="#0a0a0a" stroke-width="0.45" stroke-linejoin="round"/>
</g>
<path d="M455.6 12.7 L461.8 12.7 L461.8 66.0 L466.2 69.9 L466.2 108.0 L470.0 113.7 L470.0 130.8 L473.8 138.4 L474.1 147.1 L478.1 156.1 L482.1 157.1 L485.1 165.1 L485.1 175.2 L504.2 175.2 L508.2 185.2 L515.2 185.2 L519.3 175.2 L522.3 175.2 L527.3 185.2 L531.3 196.3 L531.7 207.3 L533.9 207.3 L534.3 196.3 L538.3 185.6 L544.4 185.6 L549.4 196.3 L549.8 207.3 L553.0 207.3 L553.4 196.3 L556.4 186.2 L560.0 196.3 L560.8 196.3 L568.4 175.2 L571.5 175.2 L575.5 185.2 L579.5 185.2 L583.5 175.2 L587.5 175.2 L590.5 185.2 L601.6 185.2 L605.6 196.3 L606.0 207.3 L617.7 207.3 L618.1 196.3 L622.1 185.6 L632.1 185.6 L636.1 196.3 L636.5 207.3 L700.0 207.3 L700.4 196.3 L701.4 187.2 L704.4 177.2 L708.4 157.1 L711.4 139.0 L715.4 131.0 L714.3 136.5 L720.0 121.3 L720.6 109.9 L723.8 102.2 L724.8 79.4 L728.2 71.8 L728.2 30.8 L731.4 26.0 L731.4 12.7 L744.8 12.7 L744.8 206.1 L455.6 206.1Z" fill="#cbcbcb" clip-path="url(#cpb)"/>
<path d="M727.1 64.6H610.3Q608.1 64.6 608.1 66.8V185.2M608.1 107.9Q608.1 111.1 611.3 111.1H720.6" fill="none" stroke="#000" stroke-width="1.5"/>
<path d="M462.4 16.0 L463.5 15.8 L465.1 15.5 L467.0 15.2 L469.0 15.0 L471.3 14.9 L473.8 14.8 L476.3 14.7 L478.6 14.6 L480.7 14.6 L482.7 14.5 L484.5 14.5 L486.2 14.6 L487.6 14.8 L488.8 15.1 L489.8 15.5 L491.0 16.1 L492.1 16.9 L493.3 17.9 L494.5 19.0 L495.7 20.3 L497.1 22.0 L498.5 23.9 L500.0 26.0 L501.4 28.0 L502.9 29.9 L504.3 31.9 L505.7 33.8 L507.1 35.6 L508.6 37.2 L510.1 38.7 L511.5 40.1 L512.9 41.3 L514.1 42.3 L515.3 43.1 L516.3 43.7 L517.0 44.1M538.0 48.5 L540.3 48.3 L543.5 48.1 L547.0 47.7 L550.0 47.4 L552.1 47.0 L553.7 46.6 L555.4 46.2 L557.6 45.6 L560.6 45.0 L564.1 44.2 L567.8 43.5 L571.4 42.9 L574.9 42.5 L578.3 42.3 L581.8 42.2 L585.2 42.1 L588.7 41.9 L592.1 41.8 L595.6 41.7 L599.0 41.5 L602.5 41.3 L605.9 41.1 L609.4 40.8 L612.8 40.7 L616.3 40.6 L619.7 40.6 L623.2 40.6 L626.6 40.7 L630.1 40.8 L633.7 41.0 L637.2 41.2 L640.4 41.5 L643.4 41.8 L646.1 42.1 L648.8 42.4 L651.5 42.9 L654.3 43.5 L657.3 44.3 L660.1 45.1 L662.5 45.6 L664.3 46.1 L665.6 46.4 L666.8 46.5 L668.0 46.5 L669.3 46.2 L670.6 45.6 L672.0 45.0 L673.5 44.3 L675.3 43.4 L677.2 42.5 L679.3 41.5 L681.8 40.7 L684.9 40.1 L688.4 39.6 L692.0 39.1 L695.6 38.7 L699.0 38.3 L702.3 37.9 L705.7 37.6 L709.4 37.4 L714.0 37.4 L719.3 37.6 L724.0 37.8 L727.4 37.9M462.4 18.8 L463.6 19.1 L465.4 19.5 L467.3 19.8 L469.0 20.0 L470.5 19.8 L472.0 19.4 L473.4 19.0 L474.8 18.8 L476.2 18.9 L477.6 19.2 L479.0 19.7 L480.5 20.3 L481.9 21.2 L483.3 22.2 L484.8 23.4 L486.2 25.1 L487.6 27.3 L489.0 29.9 L490.5 32.8 L491.9 35.6 L493.3 38.4 L494.8 41.3 L496.2 44.2 L497.6 47.0 L499.1 49.8 L500.5 52.5 L502.0 55.1 L503.3 57.5 L504.6 59.5 L505.8 61.2 L507.0 62.8 L508.1 64.1 L509.2 65.3 L510.3 66.3 L511.2 67.0 L511.9 67.6M531.0 69.9 L533.0 69.8 L536.0 69.5 L539.1 69.3 L541.4 69.2 L542.3 69.2 L542.4 69.4 L542.6 69.6 L543.8 69.6 L546.4 69.2 L550.0 68.7 L553.9 68.1 L557.6 67.6 L561.1 67.2 L564.5 66.7 L568.0 66.3 L571.4 66.0 L574.9 65.7 L578.3 65.5 L581.8 65.4 L585.2 65.4 L588.9 65.6 L592.6 66.0 L596.1 66.4 L599.0 66.8 L601.0 67.3 L602.4 68.0 L603.4 68.5 L604.5 68.7 L605.7 68.4 L606.7 67.7 L607.7 67.0 L608.7 66.8 L609.7 67.2 L610.7 68.1 L611.7 69.0 L612.8 69.6 L614.2 69.8 L615.7 69.9 L617.1 69.8 L618.3 69.6 L618.8 69.0 L618.8 68.2 L619.3 67.4 L621.1 66.8 L624.6 66.4 L629.2 66.2 L634.6 66.1 L640.4 66.0 L647.0 65.9 L654.4 65.9 L661.7 65.9 L668.0 66.0 L673.1 66.2 L677.3 66.4 L681.1 66.7 L684.6 66.8 L687.7 66.7 L690.3 66.5 L692.8 66.2 L695.6 66.0 L698.8 65.8 L702.1 65.6 L705.6 65.5 L709.4 65.4 L714.0 65.4 L719.3 65.4 L724.0 65.4 L727.4 65.4M462.4 23.2 L462.9 24.0 L463.6 25.1 L464.4 26.4 L465.2 28.0 L466.1 29.8 L467.0 32.1 L468.0 34.1 L469.0 35.6 L470.1 36.1 L471.2 35.9 L472.5 35.6 L473.8 35.6 L475.4 35.8 L477.1 36.0 L478.9 36.6 L480.5 37.5 L481.8 38.7 L482.9 40.2 L484.0 42.3 L485.2 45.1 L486.7 49.1 L488.4 54.0 L490.1 59.2 L491.9 64.1 L493.8 68.7 L495.8 73.2 L497.7 77.4 L499.5 81.3 L501.1 84.6 L502.5 87.6 L503.9 90.3 L505.2 92.7 L506.8 95.1 L508.5 97.2 L509.9 99.1 L511.0 100.3M531.0 114.0 L533.2 115.2 L536.4 116.8 L539.5 118.4 L541.4 119.4 L541.3 119.3 L540.0 118.5 L538.6 117.6 L538.3 117.4 L539.5 118.0 L541.5 119.1 L544.0 120.4 L546.6 121.6 L549.2 122.5 L552.1 123.5 L555.0 124.4 L557.6 125.1 L559.8 125.6 L561.8 125.9 L563.8 126.1 L565.9 126.2 L568.2 126.4 L570.6 126.4 L573.1 126.4 L575.5 126.2 L577.9 126.0 L580.3 125.5 L582.7 125.0 L585.2 124.3 L587.9 123.5 L590.8 122.5 L593.6 121.4 L596.2 120.2 L598.6 118.8 L600.8 117.4 L602.8 115.9 L604.5 114.7 L605.9 113.5 L606.9 112.5 L607.7 111.7 L608.7 111.3 L609.6 111.4 L610.5 111.8 L611.5 112.5 L612.8 113.3 L614.6 114.2 L616.7 115.3 L618.9 116.5 L621.1 117.4 L623.1 118.2 L625.1 118.9 L627.1 119.4 L629.4 119.6 L632.0 119.4 L634.9 118.9 L637.8 118.2 L640.4 117.4 L642.7 116.5 L644.9 115.5 L646.9 114.4 L648.7 113.3 L650.3 112.1 L651.7 110.8 L653.0 109.7 L654.2 109.1 L655.3 109.2 L656.4 109.7 L657.4 110.5 L658.4 111.3 L659.3 112.4 L660.2 113.7 L661.2 115.0 L662.5 116.0 L664.3 116.6 L666.4 117.0 L668.6 117.2 L670.8 117.4 L672.8 117.7 L674.7 118.1 L676.8 118.3 L679.1 118.2 L681.6 117.9 L684.4 117.4 L687.3 116.7 L690.1 116.0 L692.9 115.4 L695.6 114.6 L698.4 113.9 L701.1 113.3 L704.0 112.7 L707.0 112.2 L709.8 111.8 L712.2 111.3 L714.0 110.8 L715.5 110.3 L716.6 109.9 L717.7 109.7 L718.7 109.9 L719.4 110.4 L720.0 111.0 L720.5 111.3M462.4 28.0 L462.8 29.2 L463.5 31.0 L464.3 33.2 L465.2 35.6 L466.2 38.3 L467.1 41.5 L468.4 44.6 L470.0 47.0 L472.3 48.4 L475.2 49.2 L478.1 50.0 L480.5 51.2 L482.2 52.9 L483.5 54.8 L484.7 57.2 L486.2 60.3 L488.0 64.4 L489.9 69.2 L491.9 74.4 L493.8 79.4 L495.8 84.2 L497.7 89.1 L499.7 93.9 L501.4 98.4 L503.1 102.9 L504.8 107.2 L506.2 111.0 L507.1 113.7M519.5 127.4 L522.2 128.4 L526.2 129.8 L530.4 131.3 L533.8 132.7 L536.4 134.1 L538.5 135.5 L540.2 136.7 L541.4 137.5 L541.6 137.5 L541.0 137.1 L540.5 136.6 L541.0 136.7 L543.0 137.8 L545.8 139.3 L549.1 141.0 L552.1 142.3 L554.8 143.0 L557.6 143.6 L560.4 144.0 L563.1 144.5 L565.9 144.9 L568.6 145.4 L571.4 145.9 L574.2 146.4 L576.9 147.1 L579.7 148.0 L582.4 148.7 L585.2 149.2 L587.9 149.1 L590.6 148.7 L593.4 148.2 L596.2 147.8 L599.3 147.3 L602.5 146.8 L605.7 146.5 L608.7 146.4 L611.2 146.8 L613.6 147.4 L615.9 148.3 L618.3 149.2 L621.0 150.1 L623.8 151.2 L626.6 152.3 L629.4 153.3 L632.2 154.2 L635.1 155.1 L637.8 155.8 L640.4 156.1 L642.7 155.7 L644.8 155.0 L646.7 154.1 L648.7 153.3 L650.7 152.4 L652.7 151.5 L654.6 150.8 L656.4 151.1 L658.0 152.6 L659.4 154.9 L660.9 157.6 L662.5 160.2 L664.4 162.7 L666.5 165.2 L668.7 167.7 L670.8 169.9 L672.8 171.8 L674.9 173.4 L677.0 174.9 L679.1 175.9 L681.1 176.5 L683.2 176.6 L685.3 176.6 L687.3 176.8 L689.5 177.2 L691.7 177.8 L693.8 178.4 L695.6 178.7 L697.0 178.6 L698.0 178.2 L698.9 177.8 L699.8 177.6 L700.8 177.7 L701.8 178.1 L702.7 178.4 L703.4 178.7" fill="none" stroke="#ff00ff" stroke-width="1.5" stroke-linejoin="round" stroke-linecap="round" clip-path="url(#cpb)"/>
<text transform="translate(526.6 47.6) rotate(12)" text-anchor="middle" font-size="8.3" fill="#111" dy="3">27.4</text>
<text transform="translate(520.9 69.5) rotate(10)" text-anchor="middle" font-size="8.3" fill="#111" dy="3">27.8</text>
<text transform="translate(518.6 107.6) rotate(32)" text-anchor="middle" font-size="8.3" fill="#111" dy="3">28.04</text>
<text transform="translate(512.5 122.2) rotate(36)" text-anchor="middle" font-size="8.3" fill="#111" dy="3">28.1</text>
<rect x="456.6" y="14.3" width="287.3" height="182.2" fill="none" stroke="#555" stroke-width="0.6"/>
<text x="456.0" y="212.0" text-anchor="middle" font-size="11">-80</text>
<text x="494.3" y="212.0" text-anchor="middle" font-size="11">-60</text>
<text x="532.6" y="212.0" text-anchor="middle" font-size="11">-40</text>
<text x="570.9" y="212.0" text-anchor="middle" font-size="11">-20</text>
<text x="609.2" y="212.0" text-anchor="middle" font-size="11">0</text>
<text x="647.5" y="212.0" text-anchor="middle" font-size="11">20</text>
<text x="685.8" y="212.0" text-anchor="middle" font-size="11">40</text>
<text x="724.1" y="212.0" text-anchor="middle" font-size="11">60</text>
<text x="451.8" y="18.7" text-anchor="end" font-size="11">0</text>
<text x="451.8" y="51.2" text-anchor="end" font-size="11">1</text>
<text x="451.8" y="83.7" text-anchor="end" font-size="11">2</text>
<text x="451.8" y="116.2" text-anchor="end" font-size="11">3</text>
<text x="451.8" y="148.7" text-anchor="end" font-size="11">4</text>
<text x="451.8" y="181.2" text-anchor="end" font-size="11">5</text>
<path d="M456.6 196.5v-2.9M456.6 14.3v2.9M494.9 196.5v-2.9M494.9 14.3v2.9M533.2 196.5v-2.9M533.2 14.3v2.9M571.5 196.5v-2.9M571.5 14.3v2.9M609.8 196.5v-2.9M609.8 14.3v2.9M648.1 196.5v-2.9M648.1 14.3v2.9M686.4 196.5v-2.9M686.4 14.3v2.9M724.7 196.5v-2.9M724.7 14.3v2.9M456.6 14.3h2.9M743.9 14.3h-2.9M456.6 30.6h2.9M743.9 30.6h-2.9M456.6 46.8h2.9M743.9 46.8h-2.9M456.6 63.0h2.9M743.9 63.0h-2.9M456.6 79.3h2.9M743.9 79.3h-2.9M456.6 95.5h2.9M743.9 95.5h-2.9M456.6 111.8h2.9M743.9 111.8h-2.9M456.6 128.1h2.9M743.9 128.1h-2.9M456.6 144.3h2.9M743.9 144.3h-2.9M456.6 160.6h2.9M743.9 160.6h-2.9M456.6 176.8h2.9M743.9 176.8h-2.9M456.6 193.1h2.9M743.9 193.1h-2.9" stroke="#555" stroke-width="0.6" fill="none"/>
</g>
<g id="panel-c">
<rect x="32.3" y="267.1" width="287.3" height="182.2" fill="#f6f6f6"/>
<g clip-path="url(#cpc)">
<path d="M33.3 267.1L319.5 267.1L319.5 272.0L313.8 273.4L308.0 273.5L299.4 271.5L290.8 270.2L279.3 270.0L264.0 271.7L258.2 272.7L254.4 274.0L245.8 278.3L241.0 279.1L237.2 278.9L231.5 277.7L226.6 276.0L219.9 272.7L213.2 271.5L203.7 271.1L176.9 273.2L159.6 275.8L149.1 278.1L132.8 282.3L126.9 285.0L117.5 288.2L109.8 288.9L100.3 288.4L94.5 287.5L86.1 285.0L80.2 281.7L72.2 273.6L67.7 270.8L64.8 270.4L55.3 270.5L38.0 270.9L32.3 271.5L32.3 267.1Z" fill="#3e27a8" fill-rule="evenodd" stroke="#3e27a8" stroke-width="0.3"/>
<path d="M275.5 270.3L281.2 269.9L290.8 270.2L299.4 271.5L309.0 273.5L313.8 273.4L319.5 272.0L319.5 275.8L317.6 275.1L312.8 276.4L309.0 276.7L291.7 273.7L279.3 273.3L259.2 276.2L255.4 277.5L245.8 281.8L240.0 282.4L231.4 281.1L225.7 279.3L219.9 276.7L213.2 275.6L203.7 275.3L179.7 277.3L159.6 280.6L147.2 283.7L132.8 288.2L128.8 291.5L123.7 293.1L114.6 294.7L106.0 295.2L99.3 294.8L93.6 293.9L88.8 292.7L85.0 291.0L79.2 287.2L70.5 276.9L67.7 274.5L65.8 273.6L61.0 272.7L51.4 272.7L38.0 273.2L32.3 274.2L32.3 271.5L36.1 271.0L61.0 270.4L67.7 270.8L72.2 273.6L80.2 281.7L86.1 285.0L94.5 287.5L100.3 288.4L109.8 288.9L117.5 288.2L126.9 285.0L132.8 282.3L149.1 278.1L157.7 276.2L175.9 273.3L203.7 271.1L213.2 271.5L219.9 272.7L226.6 276.0L231.5 277.7L240.0 279.1L245.4 278.5L254.4 274.0L258.2 272.7L275.2 270.4Z" fill="#4433c8" fill-rule="evenodd" stroke="#4433c8" stroke-width="0.3"/>
<path d="M48.6 272.8L60.1 272.7L65.9 273.6L67.7 274.5L70.5 276.9L79.2 287.2L85.0 291.0L88.8 292.7L93.6 293.9L99.3 294.8L106.0 295.2L114.6 294.7L123.7 293.1L128.8 291.5L132.8 288.2L147.2 283.7L159.6 280.6L178.8 277.4L203.7 275.3L213.2 275.6L219.9 276.7L225.7 279.3L231.4 281.1L240.0 282.4L245.8 281.8L255.4 277.5L259.2 276.2L279.3 273.3L291.7 273.7L309.0 276.7L311.8 276.6L316.6 275.2L318.5 275.2L319.5 275.8L319.5 280.3L317.6 277.7L316.6 277.4L311.8 278.7L309.0 278.8L291.7 276.2L280.3 275.8L259.2 278.9L255.4 280.0L246.7 283.5L241.0 284.3L237.2 284.2L231.9 283.4L226.6 282.0L219.9 279.5L213.2 278.6L203.7 278.4L177.8 280.5L158.7 284.0L147.2 287.1L133.8 291.6L129.0 295.3L123.2 297.1L114.6 298.6L106.0 299.3L91.7 298.7L86.9 297.6L83.0 295.8L80.2 293.7L77.3 290.6L67.7 277.8L65.8 276.0L63.9 275.1L61.0 274.5L57.2 274.3L40.9 274.8L37.5 275.2L34.2 276.8L32.3 277.3L32.3 274.2L37.1 273.2L47.9 272.8Z" fill="#4745e5" fill-rule="evenodd" stroke="#4745e5" stroke-width="0.3"/>
<path d="M49.5 274.4L60.1 274.4L64.8 275.5L66.8 276.9L69.1 279.3L78.3 291.7L83.0 295.8L86.9 297.6L90.7 298.5L102.2 299.3L112.7 298.9L122.9 297.2L129.0 295.3L133.8 291.6L148.1 286.9L159.6 283.8L179.7 280.3L203.7 278.4L213.2 278.6L219.9 279.5L226.6 282.0L231.4 283.2L240.0 284.3L245.8 283.8L255.4 280.0L259.2 278.9L280.3 275.8L291.7 276.2L309.0 278.8L311.8 278.7L315.7 277.5L317.6 277.7L319.5 280.3L319.5 285.2L317.4 280.9L316.6 279.9L315.7 279.6L311.8 280.6L309.0 280.8L291.7 278.5L283.1 278.2L278.3 278.4L260.1 281.2L255.4 282.4L246.7 285.3L242.0 286.0L238.1 286.0L232.4 285.3L226.6 284.2L219.9 282.1L213.2 281.4L202.7 281.3L178.8 283.2L159.6 286.8L149.1 289.7L133.8 295.2L129.0 298.2L122.3 300.1L109.8 302.3L97.4 303.2L90.7 303.3L86.9 302.8L83.0 301.7L79.4 299.6L76.5 297.2L74.6 294.7L65.8 280.1L63.1 277.7L61.0 277.0L49.8 276.9L41.9 277.6L40.1 280.9L38.7 282.5L38.4 283.4L38.9 285.8L38.6 288.2L38.0 289.9L37.1 290.0L35.5 288.2L34.7 286.6L35.4 285.0L36.8 283.4L36.6 282.5L35.2 282.1L34.2 282.4L32.3 283.8L32.3 277.3L38.0 275.1L48.6 274.4Z" fill="#4260f6" fill-rule="evenodd" stroke="#4260f6" stroke-width="0.3"/>
<path d="M50.5 276.8L60.1 276.8L62.9 277.6L63.9 278.2L66.8 281.4L74.6 294.7L77.4 298.0L80.2 300.1L83.0 301.7L86.9 302.8L90.7 303.3L107.0 302.6L120.4 300.5L129.0 298.2L134.7 294.8L147.2 290.3L155.8 287.8L174.9 283.7L186.4 282.4L203.7 281.3L214.2 281.5L219.9 282.1L226.6 284.2L232.4 285.3L238.1 286.0L242.0 286.0L246.7 285.3L255.4 282.4L260.1 281.2L278.3 278.4L283.1 278.2L291.7 278.5L309.0 280.8L311.8 280.6L315.7 279.6L316.6 279.9L317.4 280.9L319.5 285.2L319.5 290.1L316.6 283.4L315.7 282.1L314.7 281.9L310.9 282.6L308.0 282.7L287.9 280.7L280.3 280.6L262.1 283.3L256.3 284.5L246.7 287.2L242.9 287.7L238.1 287.7L232.4 287.2L219.9 284.7L214.2 284.3L203.7 284.2L183.6 285.5L174.9 286.6L156.8 290.6L146.2 293.9L127.1 301.5L112.7 305.0L92.3 308.5L83.9 311.0L73.5 314.6L70.6 317.5L69.4 320.7L68.6 325.6L68.3 337.0L69.2 347.5L70.8 357.3L77.2 385.7L84.4 406.0L88.8 414.2L93.6 421.6L94.5 422.5L95.5 422.8L101.2 421.3L104.1 421.4L106.0 422.7L108.9 426.4L111.9 428.8L112.8 431.2L114.3 441.8L116.7 448.3L116.4 449.1L115.6 449.6L112.7 450.3L82.8 452.4L32.3 452.4L32.3 283.8L34.2 282.4L35.2 282.1L36.6 282.5L36.8 283.4L35.4 285.0L34.7 286.6L36.1 289.0L37.1 290.0L38.0 289.9L38.9 286.6L38.4 283.4L38.7 282.5L40.1 280.9L41.8 277.7L49.8 276.9Z" fill="#2f84f3" fill-rule="evenodd" stroke="#2f84f3" stroke-width="0.3"/>
<path d="M278.3 280.9L282.2 280.5L289.8 280.8L309.0 282.7L314.7 281.9L315.7 282.1L316.6 283.4L319.5 290.1L319.5 295.0L315.7 285.5L314.7 284.4L313.8 284.1L308.0 284.5L290.8 283.0L281.2 282.8L259.2 286.1L245.9 289.0L241.0 289.4L232.4 289.0L219.9 287.2L214.2 286.9L203.7 287.0L184.5 288.0L175.9 289.1L166.3 291.1L156.8 293.4L148.1 296.2L123.2 306.1L113.4 309.4L102.2 312.2L98.4 313.6L90.7 317.8L87.9 319.9L85.6 322.4L83.3 326.4L81.8 332.1L80.7 339.4L80.5 345.9L84.1 370.3L85.9 375.8L88.3 380.9L92.1 387.4L95.7 392.2L100.3 396.9L106.0 400.9L110.8 403.2L121.3 407.3L128.6 409.3L133.8 411.2L142.6 413.4L149.8 415.8L155.0 418.2L158.7 420.9L160.6 423.9L161.5 426.3L161.5 429.7L159.6 434.9L151.3 452.4L82.8 452.4L112.7 450.3L115.6 449.6L116.4 449.1L116.7 448.3L114.3 441.8L112.8 431.2L111.9 428.8L108.9 426.4L106.0 422.7L104.1 421.4L101.2 421.3L95.5 422.8L94.2 422.3L92.6 420.3L88.4 413.4L84.4 406.0L82.7 402.0L77.2 385.7L75.9 380.9L74.5 373.5L72.7 367.0L69.3 348.4L68.2 336.2L68.5 328.0L69.1 322.4L70.6 317.5L72.5 315.4L74.4 314.1L88.8 309.5L96.0 307.7L112.7 305.0L123.2 302.5L129.0 300.9L146.2 293.9L154.8 291.1L175.9 286.5L187.4 285.1L203.7 284.2L213.2 284.2L219.9 284.7L226.6 286.3L233.3 287.3L242.9 287.7L247.7 286.9L259.2 283.8L277.9 280.9Z" fill="#2a97e8" fill-rule="evenodd" stroke="#2a97e8" stroke-width="0.3"/>
<path d="M277.4 283.3L281.2 282.8L287.9 282.9L308.0 284.5L313.8 284.1L314.7 284.4L315.8 285.8L319.5 295.0L319.5 299.9L314.7 287.7L313.8 286.6L312.8 286.3L281.2 285.1L248.7 290.4L242.0 291.0L232.4 290.8L215.2 289.5L184.5 290.5L175.9 291.8L166.1 293.9L156.8 296.3L147.2 299.5L129.0 307.4L113.7 312.4L104.8 315.9L96.5 320.7L93.7 323.2L91.9 325.6L90.5 328.9L89.5 333.7L88.6 341.0L88.5 348.4L92.1 365.4L95.5 375.8L97.2 382.5L99.3 386.5L103.1 390.4L108.1 393.9L114.6 397.5L120.4 400.2L129.0 402.8L154.8 408.3L158.7 409.6L161.5 411.3L164.2 414.2L169.2 422.3L175.2 427.2L177.5 430.4L179.3 434.5L180.2 438.5L181.8 452.4L151.3 452.4L159.6 434.9L161.5 429.7L161.5 426.3L160.6 423.9L158.7 420.9L155.0 418.2L149.8 415.8L142.6 413.4L133.8 411.2L128.6 409.3L121.3 407.3L108.9 402.4L104.1 399.7L101.2 397.7L95.0 391.4L91.1 385.7L86.3 376.8L84.6 371.9L83.4 366.2L80.8 349.2L80.5 343.5L81.8 332.1L83.3 326.4L84.5 324.0L87.0 320.7L90.0 318.3L94.5 315.5L99.3 313.2L110.8 310.1L123.2 306.1L151.0 295.3L157.7 293.2L169.2 290.5L176.9 289.0L185.5 287.9L205.6 286.9L218.0 287.0L232.5 289.0L243.9 289.3L259.2 286.1L277.0 283.4Z" fill="#1aa9dc" fill-rule="evenodd" stroke="#1aa9dc" stroke-width="0.3"/>
<path d="M276.4 285.7L281.2 285.1L287.0 285.1L313.8 286.6L315.0 288.2L319.5 299.9L319.5 304.8L314.2 290.7L313.1 289.0L311.8 288.5L282.2 287.6L254.4 291.8L244.8 292.8L235.3 292.9L218.0 292.4L185.5 293.4L174.9 295.1L156.8 299.6L146.2 303.4L131.9 310.0L125.2 311.4L114.6 314.8L109.3 317.5L103.4 321.5L99.9 324.8L97.3 328.9L96.0 332.9L95.2 338.6L94.9 343.5L95.1 348.4L96.9 356.5L98.8 363.0L104.3 379.2L106.0 382.0L113.7 389.3L117.5 392.1L121.3 394.3L126.1 396.2L131.9 397.9L156.8 403.3L162.5 405.1L167.0 407.7L181.6 419.0L184.5 420.5L190.3 422.1L192.2 423.3L195.0 426.9L200.8 437.7L201.3 441.0L201.9 452.4L181.8 452.4L180.2 438.5L179.3 434.5L177.5 430.4L175.2 427.2L169.2 422.3L164.2 414.2L160.6 410.6L154.8 408.3L129.9 403.0L121.3 400.5L115.4 397.9L108.9 394.3L104.1 391.1L100.3 387.7L98.3 384.9L96.9 381.7L95.5 375.8L91.3 362.2L88.5 348.4L88.6 341.9L89.1 336.2L90.1 330.5L91.1 327.2L93.1 324.0L96.4 320.8L101.6 317.5L106.6 315.0L113.7 312.4L129.0 307.4L149.1 298.8L156.8 296.3L166.3 293.9L175.9 291.8L183.6 290.7L196.0 290.0L217.1 289.5L233.3 290.9L244.8 290.9L276.0 285.8Z" fill="#0bb4c8" fill-rule="evenodd" stroke="#0bb4c8" stroke-width="0.3"/>
<path d="M277.4 288.2L284.1 287.6L310.9 288.4L312.8 288.8L313.8 289.8L314.5 291.5L317.6 300.4L319.5 304.8L319.5 309.7L317.6 305.3L313.3 293.1L312.3 291.5L310.9 290.7L282.2 290.2L252.5 294.7L242.0 295.2L222.8 295.0L185.5 296.4L174.9 298.2L157.7 302.6L147.2 306.4L132.8 313.3L130.9 313.7L126.1 313.7L121.6 315.0L115.0 318.3L107.9 323.2L104.1 327.2L102.2 330.8L99.6 341.0L99.2 348.4L101.2 355.6L104.1 363.2L107.9 371.7L110.8 376.6L122.3 384.7L130.9 389.4L140.8 393.0L167.3 401.1L173.0 403.8L183.6 410.1L190.3 411.6L193.1 413.1L195.9 415.8L201.8 422.8L203.7 424.4L208.8 427.2L210.9 429.6L212.1 433.7L213.8 452.4L201.9 452.4L201.3 441.0L200.8 437.7L195.0 426.9L193.1 424.3L191.2 422.7L182.6 419.6L167.0 407.7L161.5 404.7L155.8 403.0L131.9 397.9L122.1 394.7L115.3 390.6L107.2 383.3L104.3 379.2L97.8 359.7L95.1 348.4L95.1 340.2L95.9 333.7L97.0 329.7L99.3 325.6L102.4 322.4L107.0 318.9L112.7 315.7L123.2 311.9L131.9 310.0L146.2 303.4L155.8 299.9L168.2 296.6L176.9 294.7L186.4 293.4L218.0 292.4L236.2 292.9L245.8 292.7L254.4 291.8L277.1 288.2Z" fill="#1bbfaa" fill-rule="evenodd" stroke="#1bbfaa" stroke-width="0.3"/>
<path d="M278.3 290.7L283.1 290.2L309.9 290.6L311.8 291.1L312.8 292.1L313.7 293.9L317.6 305.3L319.5 309.7L319.5 314.6L317.6 310.2L312.8 296.6L311.8 294.7L310.9 293.8L309.9 293.6L281.2 293.0L263.0 296.7L254.4 298.0L243.9 299.0L223.8 297.6L184.5 299.3L175.1 301.2L156.8 306.3L146.2 310.1L132.8 316.8L124.2 318.6L121.3 319.9L116.2 324.0L111.9 329.7L110.7 332.1L109.3 337.0L105.4 345.9L105.1 347.5L105.6 350.0L108.9 358.3L115.8 371.1L117.4 373.5L119.4 375.5L128.0 379.6L160.6 392.6L183.6 402.9L196.0 406.4L202.7 408.8L212.3 413.4L217.0 416.6L219.4 419.0L221.6 422.3L225.8 431.2L227.5 437.7L228.9 452.4L213.8 452.4L212.1 433.7L210.9 429.6L208.8 427.2L203.7 424.4L202.0 423.1L195.1 415.0L192.3 412.5L190.3 411.6L183.6 410.1L173.0 403.8L167.3 401.1L140.8 393.0L130.9 389.4L122.3 384.7L111.0 376.8L107.9 371.7L104.1 363.2L101.2 355.6L99.3 348.8L99.3 342.7L101.5 332.9L103.6 328.0L107.0 324.0L112.4 319.9L119.7 315.9L125.2 313.9L130.9 313.7L132.8 313.3L146.2 306.8L154.8 303.6L174.0 298.4L186.4 296.3L222.8 295.0L242.0 295.2L253.4 294.6L278.3 290.7Z" fill="#3fca88" fill-rule="evenodd" stroke="#3fca88" stroke-width="0.3"/>
<path d="M281.2 293.0L309.0 293.5L310.9 293.8L311.8 294.8L312.8 296.6L317.6 310.2L319.5 314.6L319.5 319.5L317.6 315.1L312.8 301.4L311.8 299.7L309.9 298.4L281.2 297.7L264.0 301.3L243.9 302.5L222.8 300.8L185.5 302.4L174.9 304.9L156.8 310.7L149.6 313.4L146.0 315.0L137.5 319.9L130.2 323.2L126.1 325.7L123.2 328.0L122.1 329.7L120.9 332.9L119.2 339.4L114.1 347.5L114.1 349.2L114.6 350.5L118.5 357.0L123.2 363.8L126.0 371.1L127.2 372.7L129.3 374.4L131.9 375.4L140.5 377.2L158.7 385.2L179.7 392.9L187.4 394.4L200.8 394.5L206.7 395.5L224.8 404.4L229.5 407.3L232.4 410.2L235.3 414.2L246.7 432.9L248.3 436.1L249.2 441.8L249.0 443.4L243.9 450.2L242.9 452.4L228.9 452.4L227.5 437.7L225.2 429.6L222.5 423.9L220.0 419.9L217.1 416.7L213.6 414.2L200.8 408.0L182.6 402.5L160.6 392.6L128.0 379.6L119.0 375.2L115.8 371.1L108.9 358.3L105.6 350.0L105.1 347.5L105.4 345.9L109.3 337.0L110.7 332.1L111.8 329.9L115.4 324.8L118.9 321.5L123.2 318.9L132.8 316.8L146.2 310.1L157.5 306.1L175.1 301.2L185.5 299.2L223.8 297.6L243.9 299.0L254.4 298.0L263.0 296.7L280.6 293.1Z" fill="#7ccb5c" fill-rule="evenodd" stroke="#7ccb5c" stroke-width="0.3"/>
<path d="M280.3 297.9L309.0 298.4L310.9 298.8L312.8 301.4L317.6 315.1L319.5 319.5L319.5 324.4L317.6 320.0L312.8 306.3L311.8 304.5L310.9 303.4L309.9 303.1L281.2 302.6L272.6 304.3L264.9 307.1L263.0 307.4L254.4 306.3L242.0 306.1L222.8 305.1L204.6 305.2L187.4 306.3L183.8 306.9L175.3 309.4L166.3 313.0L157.5 315.9L149.1 320.0L146.9 321.5L141.4 326.6L137.8 328.0L136.7 328.9L131.5 334.5L128.8 341.0L129.0 343.5L132.8 353.9L134.7 358.4L137.6 363.4L141.4 367.9L144.9 371.1L150.1 375.2L154.0 377.6L159.2 380.0L165.1 381.7L184.5 383.1L204.6 386.6L226.6 394.9L231.4 397.9L233.7 400.4L239.1 407.7L255.1 428.0L258.6 433.7L263.3 443.4L264.2 446.7L263.9 448.3L262.1 449.6L255.2 452.4L242.9 452.4L243.9 450.2L249.0 443.4L249.2 441.8L248.3 436.1L246.7 432.9L235.3 414.2L232.3 410.1L228.6 406.6L224.8 404.4L217.1 400.8L210.4 397.0L206.7 395.5L200.8 394.5L187.4 394.4L179.7 392.9L158.7 385.2L140.5 377.2L131.9 375.4L129.3 374.4L127.2 372.7L126.0 371.1L123.2 363.8L118.5 357.0L114.6 350.5L114.1 349.2L114.1 347.5L119.2 339.4L120.9 332.9L122.1 329.7L123.2 328.0L125.2 326.4L130.2 323.2L138.6 319.3L148.1 314.0L156.8 310.7L175.9 304.6L186.4 302.3L205.6 301.3L223.8 300.8L242.9 302.5L261.1 301.5L264.9 301.1L279.6 298.0Z" fill="#b8be35" fill-rule="evenodd" stroke="#b8be35" stroke-width="0.3"/>
<path d="M280.3 302.7L309.0 303.0L310.9 303.4L312.8 306.3L317.6 320.0L319.5 324.4L319.5 329.3L318.1 326.4L312.8 312.3L310.9 309.2L309.9 308.8L281.2 307.7L272.6 309.5L265.9 312.6L263.0 313.2L254.4 311.5L243.9 310.7L204.6 311.2L186.4 313.7L175.9 317.8L161.9 327.2L157.7 330.9L153.7 336.2L152.6 338.6L152.5 340.2L162.0 354.9L168.2 363.0L173.0 367.0L179.3 370.3L186.9 372.7L204.6 376.3L217.1 380.0L228.6 382.3L233.3 384.7L242.0 390.9L248.7 395.1L255.4 398.0L259.2 398.5L267.8 398.1L276.4 396.5L283.1 396.2L287.9 395.0L289.8 395.0L291.7 395.5L293.7 397.7L312.8 424.6L314.7 425.9L319.5 425.4L319.5 452.4L255.2 452.4L262.1 449.6L263.9 448.3L264.2 446.7L263.3 443.4L258.6 433.7L255.1 428.0L239.1 407.7L233.7 400.4L231.4 397.9L226.6 394.9L204.6 386.6L184.5 383.1L165.1 381.7L159.2 380.0L154.0 377.6L150.1 375.2L144.9 371.1L141.4 367.9L137.9 363.8L133.8 356.3L128.8 342.7L129.0 340.2L129.9 337.7L131.0 335.4L132.8 332.9L136.7 328.9L137.8 328.0L141.4 326.6L148.1 320.6L157.5 315.9L166.3 313.0L175.9 309.2L183.6 307.0L187.4 306.3L203.4 305.3L222.8 305.1L242.0 306.1L254.4 306.3L263.0 307.4L264.9 307.1L271.6 304.6L279.5 302.9Z" fill="#e8b838" fill-rule="evenodd" stroke="#e8b838" stroke-width="0.3"/>
<path d="M281.2 307.7L300.4 308.6L309.0 308.7L310.9 309.2L312.8 312.3L318.1 326.4L319.5 329.3L319.5 334.7L318.3 332.9L314.7 324.8L312.8 321.3L310.9 319.2L309.9 318.9L296.5 319.1L289.8 318.5L274.5 318.5L271.6 318.8L265.9 321.0L264.0 321.2L253.4 318.2L222.8 318.8L204.6 320.0L195.0 322.3L189.3 324.8L185.6 327.2L179.0 334.5L178.0 338.6L178.2 340.2L183.6 345.8L190.3 349.0L198.7 355.7L208.5 361.6L214.2 363.7L221.9 365.2L227.6 366.7L237.2 370.7L246.7 375.7L252.5 377.4L259.2 378.4L264.0 378.2L297.5 370.1L299.4 370.7L302.3 373.7L304.2 374.4L319.5 371.2L319.5 425.4L315.7 426.0L313.8 425.4L311.8 423.5L293.7 397.7L291.7 395.5L289.8 395.0L287.9 395.0L283.1 396.2L276.4 396.5L267.8 398.1L259.2 398.5L255.4 398.0L248.7 395.1L242.0 390.9L233.3 384.7L228.6 382.3L217.1 380.0L204.6 376.3L186.9 372.7L179.3 370.3L173.0 367.0L168.2 363.0L162.0 354.9L152.5 340.2L152.8 337.8L154.7 334.5L157.3 331.3L161.5 327.5L175.9 317.8L185.5 313.9L204.6 311.2L242.0 310.7L253.4 311.4L262.1 313.2L264.0 313.2L272.6 309.5L280.9 307.7Z" fill="#fdbf30" fill-rule="evenodd" stroke="#fdbf30" stroke-width="0.3"/>
<path d="M242.9 318.3L254.4 318.3L264.0 321.2L265.9 321.0L271.6 318.8L274.5 318.5L289.8 318.5L296.5 319.1L309.9 318.9L310.9 319.2L312.8 321.3L314.7 324.8L318.3 332.9L319.5 334.7L319.5 371.2L304.2 374.4L302.3 373.7L299.4 370.7L297.5 370.1L266.9 377.6L261.1 378.4L255.4 378.0L249.6 376.7L245.8 375.3L237.2 370.7L229.5 367.4L223.8 365.6L214.2 363.7L209.7 362.2L199.9 356.5L190.3 349.0L183.6 345.8L178.2 340.2L178.0 338.6L179.0 334.5L184.8 328.0L187.7 325.6L195.0 322.4L205.6 319.9L222.8 318.8L242.8 318.3ZM252.3 326.4L247.3 328.0L243.2 330.5L235.6 337.8L235.4 338.6L236.1 339.4L246.7 345.6L253.2 352.4L255.4 353.9L260.1 355.5L264.0 355.4L266.9 354.5L269.7 352.9L272.7 350.8L275.3 348.4L276.3 346.7L277.1 344.3L276.6 341.0L275.0 338.6L273.0 337.0L270.3 335.4L262.9 332.1L257.6 327.2L255.4 326.4L252.5 326.4Z" fill="#f5dc28" fill-rule="evenodd" stroke="#f5dc28" stroke-width="0.3"/>
<path d="M252.5 326.4L255.4 326.4L257.6 327.2L262.9 332.1L270.3 335.4L273.0 337.0L275.0 338.6L276.6 341.0L277.1 344.3L276.3 346.7L275.3 348.4L272.7 350.8L269.7 352.9L266.9 354.5L264.0 355.4L260.1 355.5L255.4 353.9L253.2 352.4L246.7 345.6L236.1 339.4L235.4 338.6L235.6 337.8L243.2 330.5L247.3 328.0L252.3 326.4Z" fill="#fafa14" fill-rule="evenodd" stroke="#fafa14" stroke-width="0.3"/>
<path d="M32.3 271.5L40.0 270.8L66.8 270.5L68.7 271.2L71.6 273.1L80.2 281.7L86.1 285.0L94.5 287.5L100.3 288.4L109.8 288.9L117.5 288.2L126.9 285.0L132.8 282.3L149.1 278.1L159.6 275.8L177.8 273.1L203.7 271.1L213.2 271.5L219.9 272.7L226.6 276.0L231.5 277.7L240.0 279.1L245.4 278.5L254.4 274.0L259.2 272.5L278.3 270.0L291.7 270.3L299.4 271.5L309.0 273.5L313.8 273.4L319.5 272.0M32.3 274.2L37.1 273.2L46.7 272.8L59.1 272.7L64.8 273.3L67.6 274.4L69.6 276.0L78.3 286.3L81.1 288.7L85.0 291.0L88.8 292.7L93.6 293.9L99.3 294.8L106.0 295.2L114.6 294.7L123.7 293.1L128.8 291.5L132.8 288.2L147.2 283.7L159.6 280.6L179.7 277.3L203.7 275.3L213.2 275.6L219.9 276.7L225.7 279.3L231.4 281.1L240.0 282.4L245.8 281.8L255.4 277.5L259.2 276.2L279.3 273.3L291.7 273.7L309.0 276.7L312.8 276.4L317.6 275.1L319.5 275.8M32.3 277.3L34.2 276.8L37.5 275.2L40.9 274.8L57.2 274.3L61.0 274.5L63.9 275.1L65.8 276.0L67.7 277.8L77.3 290.6L80.2 293.7L83.0 295.8L86.9 297.6L90.7 298.5L102.2 299.3L112.7 298.9L122.9 297.2L129.0 295.3L133.8 291.6L150.1 286.3L157.7 284.2L168.2 282.1L176.9 280.6L185.5 279.7L203.7 278.4L214.2 278.7L219.9 279.5L226.6 282.0L231.9 283.4L237.2 284.2L241.0 284.3L245.8 283.8L255.4 280.0L260.1 278.7L277.4 276.1L282.2 275.8L291.7 276.2L309.0 278.8L311.8 278.7L316.6 277.4L317.6 277.7L319.5 280.3M32.3 283.8L34.2 282.4L35.2 282.1L36.6 282.5L36.8 283.4L35.4 285.0L34.7 286.6L36.1 289.0L37.1 290.0L38.0 289.9L38.9 286.6L38.4 283.4L38.7 282.5L40.1 280.9L41.9 277.6L44.7 277.1L54.3 276.7L59.1 276.8L62.0 277.2L64.3 278.5L66.8 281.4L74.6 294.7L77.4 298.0L80.6 300.4L84.0 302.0L87.8 303.0L91.7 303.3L107.0 302.6L120.4 300.5L129.0 298.2L134.7 294.8L147.2 290.3L155.8 287.8L174.9 283.7L186.4 282.4L203.7 281.3L214.2 281.5L219.9 282.1L226.6 284.2L232.4 285.3L238.1 286.0L242.0 286.0L246.7 285.3L255.4 282.4L260.1 281.2L278.3 278.4L283.1 278.2L291.7 278.5L309.0 280.8L311.8 280.6L315.7 279.6L316.6 279.9L317.4 280.9L319.5 285.2M82.8 452.4L112.7 450.3L115.6 449.6L116.4 449.1L116.7 448.3L114.3 441.8L112.8 431.2L111.9 428.8L108.9 426.4L106.0 422.7L104.1 421.4L101.2 421.3L95.5 422.8L94.5 422.5L93.6 421.6L88.8 414.2L84.4 406.0L77.2 385.7L70.8 357.3L69.2 347.5L68.3 337.0L68.6 325.6L69.4 320.7L70.6 317.5L73.5 314.6L83.9 311.0L92.3 308.5L112.7 305.0L127.1 301.5L146.2 293.9L156.8 290.6L174.9 286.6L184.5 285.4L203.7 284.2L214.2 284.3L219.9 284.7L232.4 287.2L238.1 287.7L242.9 287.7L247.7 286.9L259.2 283.8L270.7 282.0L280.3 280.6L288.9 280.7L308.0 282.7L310.9 282.6L314.7 281.9L315.7 282.1L316.6 283.4L319.5 290.1M151.3 452.4L159.6 434.9L161.5 429.7L161.5 426.3L160.6 423.9L158.7 420.9L155.0 418.2L149.8 415.8L142.6 413.4L133.8 411.2L128.6 409.3L121.3 407.3L110.8 403.2L106.0 400.9L100.3 396.9L95.7 392.2L92.1 387.4L87.5 379.2L85.4 374.4L83.8 368.7L80.9 350.0L80.5 344.3L81.0 337.0L82.5 328.9L84.5 324.0L87.0 320.7L91.7 317.2L99.3 313.2L110.8 310.1L123.2 306.1L148.1 296.2L156.8 293.4L166.3 291.1L175.9 289.1L184.5 288.0L203.7 287.0L214.2 286.9L219.9 287.2L232.4 289.0L241.0 289.4L245.9 289.0L259.2 286.1L281.2 282.8L290.8 283.0L308.0 284.5L313.8 284.1L314.7 284.4L315.7 285.5L319.5 295.0M181.8 452.4L180.2 438.5L179.3 434.5L177.5 430.4L175.2 427.2L169.2 422.3L164.2 414.2L161.5 411.3L158.7 409.6L154.8 408.3L129.0 402.8L120.4 400.2L114.6 397.5L108.1 393.9L103.1 390.4L99.3 386.5L97.2 382.5L95.5 375.8L92.1 365.4L88.5 348.4L88.7 340.2L89.9 331.3L91.5 326.4L93.7 323.2L98.9 319.1L106.6 315.0L113.7 312.4L129.0 307.4L148.1 299.2L156.8 296.3L166.1 293.9L175.9 291.8L184.5 290.5L215.2 289.5L232.4 290.8L242.0 291.0L248.7 290.4L281.2 285.1L312.8 286.3L313.8 286.6L314.7 287.7L319.5 299.9M201.9 452.4L201.3 441.0L200.8 437.7L195.0 426.9L192.2 423.3L190.3 422.1L184.5 420.5L181.6 419.0L167.0 407.7L162.5 405.1L156.8 403.3L131.9 397.9L126.1 396.2L121.3 394.3L117.5 392.1L113.7 389.3L106.0 382.0L104.3 379.2L98.8 363.0L96.9 356.5L95.0 347.5L95.0 341.0L96.0 332.9L97.3 328.9L99.3 325.6L102.4 322.4L106.7 319.1L111.8 316.1L116.1 314.2L125.2 311.4L131.9 310.0L146.2 303.4L156.8 299.6L174.9 295.1L185.5 293.4L218.0 292.4L235.3 292.9L244.8 292.8L254.4 291.8L282.2 287.6L311.8 288.5L313.1 289.0L314.2 290.7L319.5 304.8M213.8 452.4L212.1 433.7L210.9 429.6L208.8 427.2L203.7 424.4L201.8 422.8L195.9 415.8L193.1 413.1L190.3 411.6L183.6 410.1L173.0 403.8L167.3 401.1L140.8 393.0L130.9 389.4L122.3 384.7L110.8 376.6L107.9 371.7L104.1 363.2L101.2 355.6L99.2 348.4L99.3 343.0L100.3 337.7L102.0 331.3L104.1 327.2L107.0 324.0L111.2 320.7L116.5 317.5L121.6 315.0L126.1 313.7L130.9 313.7L132.8 313.3L147.2 306.4L157.7 302.6L174.9 298.2L185.5 296.4L222.8 295.0L242.0 295.2L252.5 294.7L282.2 290.2L310.9 290.7L312.3 291.5L313.3 293.1L317.6 305.3L319.5 309.7M228.9 452.4L227.5 437.7L225.6 430.4L223.4 425.5L220.6 420.7L218.0 417.6L215.2 415.2L210.4 412.4L202.7 408.8L196.0 406.4L183.4 402.8L160.6 392.6L128.0 379.6L120.3 376.0L118.2 374.4L115.6 370.8L109.8 360.3L106.4 352.4L105.2 348.4L105.2 346.7L106.0 344.3L109.3 337.0L111.0 331.3L112.4 328.9L114.7 325.6L117.5 322.7L123.2 318.9L132.8 316.8L146.2 310.1L156.8 306.3L175.1 301.2L186.4 299.1L223.8 297.6L243.9 299.0L254.4 298.0L263.0 296.7L281.2 293.0L309.9 293.6L310.9 293.8L311.8 294.7L312.8 296.6L317.6 310.2L319.5 314.6M242.9 452.4L243.9 450.2L249.0 443.4L249.2 441.8L248.3 436.1L246.7 432.9L241.0 423.2L234.3 412.7L231.4 409.1L227.7 406.0L217.1 400.8L210.4 397.0L206.7 395.5L200.8 394.5L187.4 394.4L183.6 393.9L178.8 392.6L158.7 385.2L140.5 377.2L131.1 375.2L129.3 374.4L127.1 372.6L125.5 370.3L123.2 363.8L115.6 352.3L114.0 348.4L114.9 345.9L119.2 339.4L121.1 332.1L122.3 329.3L124.2 327.1L130.2 323.2L137.5 319.9L149.1 313.6L156.8 310.7L175.9 304.6L184.5 302.6L190.5 302.0L222.8 300.8L243.9 302.5L264.0 301.3L281.2 297.7L309.9 298.4L311.8 299.7L312.8 301.4L317.6 315.1L319.5 319.5M255.2 452.4L262.1 449.6L263.9 448.3L264.2 446.7L263.3 443.4L258.6 433.7L255.1 428.0L239.1 407.7L233.7 400.4L231.4 397.9L226.6 394.9L204.6 386.6L184.5 383.1L165.1 381.7L159.2 380.0L152.6 376.8L147.9 373.5L142.2 368.7L138.5 364.6L135.7 360.3L132.8 353.9L128.8 342.7L129.0 340.2L130.9 335.6L131.9 334.0L136.7 328.9L137.8 328.0L141.4 326.6L148.1 320.6L155.6 316.7L166.3 313.0L175.3 309.4L183.6 307.0L187.4 306.3L197.9 305.6L205.6 305.2L223.8 305.2L242.0 306.1L254.4 306.3L263.0 307.4L264.9 307.1L272.6 304.3L281.2 302.6L309.9 303.1L310.9 303.4L311.8 304.5L312.8 306.3L317.6 320.0L319.5 324.4M319.5 425.4L314.7 425.9L312.8 424.6L293.7 397.7L291.7 395.5L290.8 395.1L287.0 395.2L283.1 396.2L276.4 396.5L267.8 398.1L259.2 398.5L255.4 398.0L251.5 396.6L247.7 394.6L242.0 390.9L233.3 384.7L228.9 382.5L217.1 380.0L204.6 376.3L186.9 372.7L181.5 371.1L175.7 368.7L170.8 365.4L166.2 360.5L152.9 341.0L152.4 339.4L152.8 337.8L154.2 335.4L158.2 330.5L161.9 327.2L175.9 317.8L186.4 313.7L204.6 311.2L243.9 310.7L254.4 311.5L263.0 313.2L265.9 312.6L272.6 309.5L281.2 307.7L309.9 308.8L310.9 309.2L312.8 312.3L318.1 326.4L319.5 329.3M319.5 371.2L304.2 374.4L302.3 373.7L299.4 370.7L297.5 370.1L264.0 378.2L259.2 378.4L252.5 377.4L246.7 375.7L237.2 370.7L227.6 366.7L223.8 365.6L213.2 363.4L208.0 361.4L198.7 355.7L190.3 349.0L183.6 345.8L178.8 341.0L178.0 339.4L179.0 334.5L185.6 327.2L189.3 324.8L195.0 322.3L204.6 320.0L223.8 318.8L253.4 318.2L264.0 321.2L265.9 321.0L271.6 318.8L274.5 318.5L289.8 318.5L296.5 319.1L309.9 318.9L310.9 319.2L312.8 321.3L314.7 324.8L318.3 332.9L319.5 334.7M252.5 326.4L255.4 326.4L257.6 327.2L262.9 332.1L270.3 335.4L273.0 337.0L275.0 338.6L276.6 341.0L277.1 344.3L276.3 346.7L275.3 348.4L272.7 350.8L269.7 352.9L266.9 354.5L264.0 355.4L260.1 355.5L255.4 353.9L253.2 352.4L246.7 345.6L236.1 339.4L235.4 338.6L235.6 337.8L243.2 330.5L247.3 328.0L252.3 326.4Z" fill="none" stroke="#0a0a0a" stroke-width="0.5" stroke-linejoin="round"/>
</g>
<path d="M31.3 265.5 L37.5 265.5 L37.5 315.2 L41.9 319.0 L41.9 357.1 L45.7 362.9 L45.7 381.9 L48.9 391.4 L48.8 389.0 L53.8 400.1 L57.8 401.1 L60.8 410.1 L60.8 418.1 L79.9 418.1 L82.9 427.8 L103.0 427.8 L107.0 438.2 L113.0 427.8 L117.0 427.8 L121.1 438.2 L144.1 438.2 L149.2 428.2 L155.2 427.8 L158.6 419.1 L163.2 427.8 L170.2 428.2 L175.3 437.8 L185.7 438.2 L187.7 438.2 L226.9 438.2 L230.9 449.3 L231.5 460.3 L253.6 460.3 L254.0 449.3 L258.0 438.2 L262.0 438.2 L265.0 449.3 L265.4 460.3 L268.6 460.3 L269.1 449.3 L274.1 440.2 L278.1 434.2 L281.1 420.2 L284.1 400.1 L288.1 388.0 L290.9 381.9 L296.3 366.7 L296.3 353.3 L300.5 347.6 L301.4 324.8 L303.3 321.0 L303.3 279.0 L310.9 273.3 L310.9 265.5 L320.5 265.5 L320.5 458.9 L31.3 458.9Z" fill="#cbcbcb" clip-path="url(#cpc)"/>
<path d="M302.8 317.9H186.0Q183.8 317.9 183.8 320.1V438.1M183.8 360.7Q183.8 363.9 187.0 363.9H296.3" fill="none" stroke="#000" stroke-width="1.5"/>
<path d="M68.6 267.0 L68.8 267.6 L69.2 268.4 L69.7 269.4 L70.5 270.5 L71.4 271.7 L72.6 273.0 L73.9 274.5 L75.2 276.2 L76.6 278.2 L78.0 280.4 L79.5 282.6 L80.9 284.8 L82.4 286.8 L83.9 288.8 L85.3 290.7 L86.7 292.4 L88.0 293.8 L89.2 295.1 L90.4 296.2 L91.4 297.1 L92.3 297.8 L93.1 298.2 L93.8 298.5 L94.3 298.7M114.3 301.0 L116.4 300.8 L119.5 300.6 L122.8 300.4 L125.7 300.0 L127.7 299.4 L129.4 298.7 L131.1 298.0 L133.3 297.3 L136.3 296.6 L139.8 296.1 L143.5 295.5 L147.1 295.1 L150.6 294.7 L154.0 294.3 L157.5 294.1 L160.9 294.0 L164.4 294.0 L167.8 294.2 L171.3 294.4 L174.7 294.5 L178.2 294.6 L181.6 294.6 L185.1 294.6 L188.5 294.5 L192.0 294.3 L195.4 294.1 L198.9 293.8 L202.3 293.7 L205.8 293.6 L209.2 293.5 L212.7 293.6 L216.1 293.7 L219.6 293.9 L223.2 294.3 L226.7 294.7 L229.9 295.1 L232.9 295.5 L235.8 296.1 L238.5 296.5 L241.0 296.7 L243.2 296.6 L245.3 296.3 L247.2 295.8 L249.2 295.3 L251.3 294.7 L253.4 294.0 L255.4 293.3 L257.5 292.6 L259.5 291.8 L261.5 291.1 L263.5 290.4 L265.8 289.8 L268.3 289.3 L271.0 288.9 L273.8 288.6 L276.8 288.4 L280.1 288.3 L283.7 288.3 L287.2 288.4 L290.6 288.4 L294.1 288.5 L297.7 288.7 L300.9 288.9 L303.1 289.0M38.1 273.0 L39.3 272.8 L40.9 272.6 L42.9 272.4 L44.7 272.2 L46.7 272.0 L48.9 271.8 L50.8 271.5 L52.4 271.0 L53.3 270.2 L53.8 269.0 L54.1 267.8 L54.3 267.0M54.3 267.0 L54.3 268.2 L54.3 269.9 L54.4 271.7 L54.5 273.3 L54.6 274.7 L54.7 276.1 L54.8 277.3 L55.0 278.3 L55.3 278.9 L55.5 279.4 L55.9 279.6 L56.2 279.8 L56.5 280.0 L56.9 280.0 L57.4 280.0 L57.7 279.8 L58.0 279.5 L58.2 279.0 L58.4 278.3 L58.7 277.5 L58.9 276.4 L59.1 275.1 L59.2 273.7 L59.4 272.4 L59.6 270.9 L59.7 269.4 L59.9 268.0 L60.0 267.0M52.4 271.4 L54.0 271.5 L56.4 271.5 L58.9 271.7 L60.9 272.4 L62.4 273.5 L63.5 274.9 L64.5 276.8 L65.7 279.0 L67.1 281.9 L68.5 285.4 L70.0 289.0 L71.4 292.4 L72.8 295.6 L74.3 298.8 L75.7 301.9 L77.1 304.8 L78.6 307.5 L80.2 310.2 L81.7 312.5 L82.8 314.3 L83.6 315.3 L84.2 315.6 L84.5 315.7 L84.7 315.8M102.8 320.2 L105.7 320.0 L109.8 319.7 L114.1 319.3 L117.1 319.0 L118.3 318.8 L118.3 318.5 L118.4 318.3 L119.5 318.0 L121.8 317.8 L124.8 317.5 L128.6 317.3 L133.3 317.2 L139.3 317.1 L146.5 317.1 L154.0 317.1 L160.9 317.2 L167.2 317.3 L173.2 317.5 L179.0 317.6 L184.4 317.7 L189.3 317.8 L193.9 317.8 L198.2 317.8 L202.3 317.7 L206.1 317.6 L209.5 317.5 L212.8 317.3 L216.1 317.2 L219.6 317.2 L223.2 317.2 L226.7 317.2 L229.9 317.2 L232.9 317.0 L235.6 316.8 L238.3 316.7 L241.0 316.6 L243.7 316.8 L246.5 317.2 L249.2 317.5 L252.0 317.7 L254.7 317.7 L257.3 317.6 L260.1 317.4 L263.0 317.2 L266.2 317.1 L269.6 316.9 L273.1 316.8 L276.8 316.6 L280.9 316.4 L285.4 316.2 L289.7 316.0 L293.4 315.8 L296.5 315.7 L299.3 315.8 L301.5 315.8 L303.1 315.8M38.1 273.7 L38.8 273.9 L39.8 274.2 L40.9 274.6 L41.9 275.2 L42.6 276.2 L43.3 277.3 L43.9 278.6 L44.7 280.0 L45.7 281.6 L46.8 283.3 L48.1 285.0 L49.5 286.7 L51.2 287.9 L53.2 288.9 L55.2 290.2 L57.1 292.4 L58.8 295.9 L60.5 300.2 L62.1 305.0 L63.8 309.5 L65.6 313.9 L67.5 318.2 L69.5 322.5 L71.4 326.7 L73.4 330.8 L75.3 334.9 L77.3 338.7 L79.0 341.9 L80.7 344.3 L82.4 346.2 L83.8 347.6 L84.7 348.6M105.7 363.8 L107.7 364.6 L110.5 365.8 L113.4 366.9 L115.2 367.6 L115.4 367.5 L114.7 367.0 L113.9 366.4 L114.0 366.3 L115.4 366.7 L117.5 367.5 L120.0 368.3 L122.3 369.0 L124.3 369.4 L126.4 369.6 L128.5 369.9 L130.5 370.4 L132.5 371.3 L134.5 372.5 L136.6 373.6 L138.8 374.6 L141.4 375.2 L144.2 375.7 L147.0 375.9 L149.9 375.9 L152.6 375.6 L155.4 375.0 L158.1 374.1 L160.9 373.2 L163.7 372.0 L166.6 370.6 L169.4 369.3 L171.9 368.2 L174.3 367.5 L176.5 367.0 L178.5 366.6 L180.2 366.3 L181.5 365.9 L182.4 365.5 L183.2 365.3 L184.4 365.4 L185.8 366.1 L187.4 367.1 L189.2 368.2 L191.3 369.0 L193.7 369.7 L196.5 370.2 L199.5 370.5 L202.3 370.4 L205.1 369.8 L208.0 368.7 L210.8 367.5 L213.4 366.3 L215.7 365.1 L217.8 363.8 L219.7 362.6 L221.6 361.6 L223.5 360.7 L225.2 360.0 L226.8 359.5 L228.5 359.4 L230.2 359.7 L231.9 360.4 L233.6 361.3 L235.4 362.1 L237.3 363.0 L239.3 363.9 L241.4 364.7 L243.7 365.4 L246.3 366.0 L249.1 366.5 L251.9 366.9 L254.8 367.1 L257.5 367.1 L260.3 366.8 L263.0 366.5 L265.8 366.3 L268.6 366.1 L271.5 365.9 L274.3 365.7 L276.8 365.4 L279.2 365.1 L281.3 364.7 L283.3 364.2 L285.1 363.5 L286.7 362.5 L288.1 361.3 L289.4 360.2 L290.6 359.4 L291.9 359.1 L293.1 359.1 L294.1 359.3 L294.8 359.4M38.1 274.3 L39.0 274.5 L40.3 274.7 L41.7 275.2 L42.8 276.2 L43.5 277.8 L44.0 279.9 L44.4 282.3 L44.7 284.8 L44.8 287.3 L44.7 290.0 L44.8 292.7 L45.7 295.2 L47.7 297.3 L50.5 299.1 L53.5 301.1 L56.2 303.8 L58.3 307.4 L60.2 311.7 L62.0 316.3 L63.8 321.0 L65.7 325.6 L67.6 330.5 L69.5 335.3 L71.4 340.0 L73.3 344.5 L75.2 349.0 L77.1 353.2 L79.0 357.1 L81.1 361.0 L83.3 364.7 L85.3 367.9 L86.7 370.1M106.7 380.4 L108.8 381.7 L111.9 383.6 L115.0 385.5 L117.1 386.7 L117.5 386.8 L116.9 386.2 L116.3 385.6 L116.7 385.6 L118.8 386.6 L121.7 388.1 L124.9 389.8 L127.8 391.1 L130.0 391.9 L131.9 392.4 L133.9 393.0 L136.1 393.9 L138.6 395.4 L141.2 397.4 L144.1 399.2 L147.1 400.2 L150.4 400.3 L154.0 399.7 L157.6 398.8 L160.9 398.0 L163.8 397.2 L166.5 396.2 L169.2 395.3 L171.9 394.7 L175.0 394.4 L178.1 394.3 L181.2 394.4 L184.4 394.7 L187.4 395.3 L190.5 396.1 L193.6 397.1 L196.8 398.0 L200.3 399.1 L204.0 400.2 L207.5 401.3 L210.6 402.2 L213.1 402.7 L215.1 403.0 L216.9 403.1 L218.9 403.0 L221.0 402.5 L223.2 401.7 L225.3 400.9 L227.2 400.2 L228.6 399.7 L229.8 399.2 L230.9 399.0 L232.1 399.4 L233.5 400.5 L235.0 402.3 L236.5 404.3 L238.2 406.3 L240.1 408.3 L242.2 410.4 L244.4 412.5 L246.5 414.6 L248.6 416.8 L250.8 419.0 L252.9 421.1 L254.8 422.9 L256.3 424.1 L257.7 425.1 L259.0 425.8 L260.3 426.2 L261.6 426.1 L262.9 425.6 L264.1 425.1 L265.2 425.1 L266.2 425.7 L267.1 426.6 L267.9 427.8 L268.6 428.9 L268.9 430.2 L269.1 431.6 L269.4 432.9 L269.9 433.9 L271.1 434.4 L272.6 434.7 L274.2 434.7 L275.5 434.5 L276.4 433.9 L277.1 433.1 L277.7 432.1 L278.2 431.1 L278.8 430.1 L279.4 428.9 L279.8 427.8 L280.2 427.0M263.0 442.7 L264.1 441.9 L265.6 440.7 L267.2 439.5 L268.6 438.9 L269.5 439.0 L270.3 439.6 L270.9 440.3 L271.3 440.8" fill="none" stroke="#ff00ff" stroke-width="1.5" stroke-linejoin="round" stroke-linecap="round" clip-path="url(#cpc)"/>
<text transform="translate(103.8 300.4) rotate(8)" text-anchor="middle" font-size="8.3" fill="#fff" dy="3">27.4</text>
<text transform="translate(92.7 319.4) rotate(14)" text-anchor="middle" font-size="8.3" fill="#fff" dy="3">27.8</text>
<text transform="translate(93.7 357.5) rotate(30)" text-anchor="middle" font-size="8.3" fill="#fff" dy="3">28.04</text>
<text transform="translate(95.8 376.2) rotate(22)" text-anchor="middle" font-size="8.3" fill="#fff" dy="3">28.1</text>
<rect x="32.3" y="267.1" width="287.3" height="182.2" fill="none" stroke="#555" stroke-width="0.6"/>
<text x="31.7" y="464.8" text-anchor="middle" font-size="11">-80</text>
<text x="70.0" y="464.8" text-anchor="middle" font-size="11">-60</text>
<text x="108.3" y="464.8" text-anchor="middle" font-size="11">-40</text>
<text x="146.6" y="464.8" text-anchor="middle" font-size="11">-20</text>
<text x="184.9" y="464.8" text-anchor="middle" font-size="11">0</text>
<text x="223.2" y="464.8" text-anchor="middle" font-size="11">20</text>
<text x="261.5" y="464.8" text-anchor="middle" font-size="11">40</text>
<text x="299.8" y="464.8" text-anchor="middle" font-size="11">60</text>
<text x="27.5" y="271.5" text-anchor="end" font-size="11">0</text>
<text x="27.5" y="304.0" text-anchor="end" font-size="11">1</text>
<text x="27.5" y="336.5" text-anchor="end" font-size="11">2</text>
<text x="27.5" y="369.0" text-anchor="end" font-size="11">3</text>
<text x="27.5" y="401.5" text-anchor="end" font-size="11">4</text>
<text x="27.5" y="434.0" text-anchor="end" font-size="11">5</text>
<path d="M32.3 449.3v-2.9M32.3 267.1v2.9M70.6 449.3v-2.9M70.6 267.1v2.9M108.9 449.3v-2.9M108.9 267.1v2.9M147.2 449.3v-2.9M147.2 267.1v2.9M185.5 449.3v-2.9M185.5 267.1v2.9M223.8 449.3v-2.9M223.8 267.1v2.9M262.1 449.3v-2.9M262.1 267.1v2.9M300.4 449.3v-2.9M300.4 267.1v2.9M32.3 267.1h2.9M319.6 267.1h-2.9M32.3 283.4h2.9M319.6 283.4h-2.9M32.3 299.6h2.9M319.6 299.6h-2.9M32.3 315.9h2.9M319.6 315.9h-2.9M32.3 332.1h2.9M319.6 332.1h-2.9M32.3 348.4h2.9M319.6 348.4h-2.9M32.3 364.6h2.9M319.6 364.6h-2.9M32.3 380.9h2.9M319.6 380.9h-2.9M32.3 397.1h2.9M319.6 397.1h-2.9M32.3 413.4h2.9M319.6 413.4h-2.9M32.3 429.6h2.9M319.6 429.6h-2.9M32.3 445.9h2.9M319.6 445.9h-2.9" stroke="#555" stroke-width="0.6" fill="none"/>
<text transform="translate(16.7 358.2) rotate(-90)" text-anchor="middle" font-size="12.5">depth [km]</text>
</g>
<g id="panel-d">
<rect x="456.6" y="267.1" width="287.3" height="182.2" fill="#f6f6f6"/>
<g clip-path="url(#cpd)">
<path d="M713.2 270.2L716.0 269.9L725.6 269.9L728.5 270.7L730.0 272.0L731.0 274.4L731.3 276.9L730.8 289.9L729.9 295.5L727.5 297.3L723.7 298.5L720.8 298.5L714.1 296.6L706.5 295.8L699.8 297.5L694.0 302.0L692.1 301.7L689.2 299.6L688.3 299.3L681.6 298.9L678.7 299.9L673.9 303.7L670.1 304.6L668.8 304.5L667.5 303.7L667.1 302.9L667.1 301.2L668.2 299.0L669.9 297.2L673.9 295.8L675.3 294.7L676.8 289.0L677.7 287.4L686.4 282.3L693.1 279.6L706.5 272.8L712.8 270.4ZM722.2 273.6L711.3 274.1L706.8 276.0L699.8 283.1L698.8 283.7L697.9 283.8L693.1 282.7L690.2 282.8L686.3 284.2L685.4 285.0L685.1 286.6L685.9 288.2L687.3 289.7L690.2 291.1L696.9 289.5L705.5 289.4L718.0 293.5L727.5 294.4L728.6 293.9L729.8 289.9L730.3 279.3L730.0 276.0L729.4 274.5L728.5 273.6L726.6 273.3L722.7 273.6ZM618.4 271.1L621.3 270.9L623.2 271.6L624.5 272.8L626.0 275.2L627.0 275.7L630.8 275.9L637.5 275.3L641.4 276.3L644.7 278.5L646.2 281.7L647.5 283.4L650.0 284.3L656.2 285.8L656.8 286.6L655.7 288.0L646.2 287.7L642.3 287.0L633.7 284.6L620.3 281.9L616.5 280.4L612.6 279.7L607.9 280.6L605.9 280.5L604.0 280.0L601.7 278.5L601.3 277.7L602.1 276.5L606.9 275.1L611.7 274.8L613.6 274.0L618.3 271.2ZM465.2 273.6L469.0 274.1L473.8 275.8L481.5 281.0L483.4 280.6L489.1 276.1L491.1 275.8L493.9 276.8L495.8 278.5L499.9 286.6L504.7 292.3L515.0 298.5L521.7 304.1L522.7 304.7L529.4 306.3L536.1 307.3L543.7 310.0L551.4 309.6L556.2 308.6L563.8 305.6L572.4 303.7L574.4 302.3L575.0 299.6L575.9 298.8L584.9 296.7L588.7 297.3L594.5 296.8L597.3 297.4L605.0 297.5L612.6 299.3L613.8 300.4L612.9 303.7L609.8 307.0L607.9 308.4L604.7 309.4L599.2 309.4L595.4 308.7L587.8 308.4L580.1 308.7L574.4 310.0L567.7 312.7L563.8 312.8L561.0 313.6L556.2 314.0L553.3 314.7L549.5 314.6L547.5 315.0L542.8 317.6L536.1 324.1L529.2 328.9L528.7 330.5L528.8 334.5L533.2 338.2L540.8 342.2L542.8 344.1L543.8 345.9L543.9 346.7L542.9 350.8L539.3 358.9L539.0 360.5L539.6 363.0L544.0 371.1L545.9 376.0L545.9 384.1L544.6 391.4L539.9 394.7L532.2 397.9L531.1 398.7L530.6 399.5L530.7 402.0L532.2 405.5L534.1 406.4L537.0 406.5L538.2 407.7L538.2 415.0L537.3 416.6L535.1 417.7L533.2 417.7L531.3 416.8L528.4 414.2L519.8 408.8L516.4 406.0L512.1 405.1L511.2 404.6L510.5 403.6L508.5 390.6L500.5 376.8L496.3 366.2L493.9 361.4L490.5 352.4L487.1 345.1L486.0 341.9L480.1 318.3L478.0 313.4L472.8 304.5L471.0 299.5L470.0 299.1L469.7 299.6L468.8 303.7L466.2 307.8L463.3 310.7L462.3 310.7L462.0 310.2L461.6 305.3L461.8 293.1L462.7 291.5L465.0 289.0L466.3 284.2L466.5 279.3L465.6 276.0L464.7 274.4L465.2 273.6ZM582.0 298.8L577.0 300.4L576.4 301.2L576.3 302.0L577.2 304.6L581.1 306.0L584.9 306.8L592.5 306.4L597.3 304.4L598.2 302.9L597.3 301.0L595.1 299.6L593.5 299.2L584.9 298.4L582.0 298.8ZM523.1 314.2L519.8 316.7L519.7 318.3L520.7 321.6L521.7 322.3L525.5 323.1L527.4 322.2L528.8 320.7L528.9 317.5L527.4 315.6L523.6 314.1ZM514.0 335.4L511.3 337.0L510.4 338.6L510.5 341.0L511.9 345.9L513.0 347.5L514.0 348.1L518.8 350.0L520.7 349.7L522.4 348.4L525.8 344.3L526.2 342.7L522.8 338.6L520.7 337.0L516.9 335.0L515.0 334.9L514.0 335.3ZM559.0 281.5L562.7 281.7L565.3 283.4L565.4 285.0L563.8 286.5L561.9 286.7L559.0 285.8L558.1 284.8L557.5 283.4L557.6 282.5L558.4 281.7ZM581.1 287.4L594.5 287.2L595.5 287.4L596.6 288.2L596.7 289.0L595.4 290.0L591.6 290.2L581.1 289.9L579.7 289.0L579.7 288.2L580.9 287.4ZM648.1 298.6L649.0 298.2L650.9 298.5L658.6 301.5L659.6 302.8L660.0 304.5L660.0 305.3L659.6 306.0L650.9 307.0L644.2 305.6L642.3 304.8L641.2 303.7L641.4 302.8L647.8 298.8ZM708.4 303.4L709.3 303.7L714.1 307.3L717.0 307.7L717.5 308.5L716.4 309.4L712.2 309.3L707.4 306.9L706.4 306.1L706.1 305.3L706.5 304.5L707.5 303.7ZM629.9 305.7L632.8 305.5L634.7 306.1L635.7 306.9L635.9 307.7L635.6 308.5L634.7 309.1L630.8 309.8L628.9 309.5L627.9 308.5L627.7 307.7L628.0 306.9L629.0 306.1ZM725.6 308.2L727.5 307.8L728.5 308.5L728.8 312.6L728.5 313.7L727.8 314.2L726.6 314.2L724.6 312.6L724.3 310.2L725.2 308.5ZM635.6 314.7L647.1 315.0L648.4 315.9L651.4 319.9L657.1 324.0L658.7 326.4L658.9 330.5L660.3 335.4L662.3 339.4L662.2 341.0L660.5 343.1L657.6 345.3L650.0 348.3L644.2 352.8L640.4 353.9L638.5 353.4L631.8 348.1L629.9 347.8L621.3 347.8L613.6 350.1L605.0 352.1L602.1 353.4L593.5 354.3L588.7 355.5L578.2 359.8L577.4 360.5L577.2 361.4L577.6 362.2L580.1 364.3L583.1 366.2L584.9 368.7L585.0 370.3L583.6 376.8L584.3 383.3L585.1 385.7L585.2 389.0L584.8 390.6L583.9 391.5L583.0 391.9L582.0 391.5L581.7 390.6L581.4 387.4L580.8 384.9L580.7 380.9L580.1 379.9L576.3 379.0L572.4 378.8L568.6 377.9L557.1 377.7L556.2 377.2L555.2 376.0L552.3 370.3L552.0 367.9L556.1 361.4L562.7 355.7L562.8 354.0L558.9 346.7L557.4 341.9L556.5 340.2L554.2 338.8L552.3 338.3L549.5 339.9L548.5 339.3L548.5 336.2L549.5 335.2L555.2 332.3L561.0 330.3L566.7 329.1L572.9 326.4L574.8 324.8L575.0 320.7L576.3 319.6L583.0 319.3L595.4 319.8L597.0 320.7L597.5 323.2L596.6 328.0L596.7 333.7L597.6 335.4L599.4 337.0L601.2 338.1L602.1 338.1L606.3 335.4L607.1 334.5L607.3 333.7L606.5 330.5L606.3 325.6L605.4 322.4L605.6 320.7L606.1 319.9L606.9 319.5L608.8 319.5L613.6 321.2L617.4 322.2L622.2 323.1L624.1 323.1L629.7 318.3L634.7 315.0ZM604.0 368.3L605.4 368.7L607.2 370.3L607.6 373.5L606.9 375.2L605.0 375.4L601.3 374.4L600.3 373.5L600.3 372.7L600.8 371.9L603.5 368.7ZM635.6 372.6L641.4 372.0L643.3 372.1L647.5 374.4L647.9 376.0L647.1 379.4L646.2 381.7L645.2 382.5L641.4 383.4L632.8 383.6L630.8 383.4L629.9 382.5L628.7 378.4L628.9 375.9L630.8 374.3L635.4 372.7ZM511.2 418.3L512.1 418.4L513.1 419.1L517.4 424.7L518.1 426.4L517.8 427.2L516.0 427.8L509.3 427.4L508.1 427.2L507.3 426.4L507.3 425.5L507.8 423.9L510.3 419.0Z" fill="#fddbc7" fill-rule="evenodd" stroke="#fddbc7" stroke-width="0.3"/>
<path d="M722.7 273.6L726.6 273.3L728.5 273.6L729.4 274.5L730.0 276.0L730.3 279.3L729.8 289.9L728.6 293.9L727.5 294.4L718.0 293.5L705.5 289.4L696.9 289.5L690.2 291.1L687.3 289.7L685.9 288.2L685.1 286.6L685.4 285.0L686.3 284.2L690.2 282.8L693.1 282.7L697.9 283.8L698.8 283.7L699.8 283.1L706.8 276.0L711.3 274.1L722.2 273.6ZM723.8 275.2L712.2 275.9L709.2 276.9L707.9 277.7L707.3 278.5L707.2 282.5L708.4 284.0L712.2 285.3L718.0 288.6L727.5 290.5L728.5 289.9L729.4 285.7L729.6 277.7L728.5 275.5L724.7 275.2ZM582.0 298.8L584.9 298.4L593.5 299.2L595.1 299.6L597.3 301.0L598.2 302.9L597.3 304.4L592.5 306.4L584.9 306.8L581.1 306.0L577.2 304.6L576.3 302.0L576.4 301.2L577.0 300.4L582.0 298.8ZM523.6 314.1L527.4 315.6L528.9 317.5L528.8 320.7L527.4 322.2L525.5 323.1L521.7 322.3L520.7 321.6L519.7 318.3L519.8 316.7L523.1 314.2ZM514.0 335.3L515.0 334.9L516.9 335.0L520.7 337.0L522.8 338.6L526.2 342.7L525.8 344.3L522.4 348.4L520.7 349.7L518.8 350.0L514.0 348.1L513.0 347.5L511.9 345.9L510.5 341.0L510.4 338.6L511.3 337.0L514.0 335.4Z" fill="#f5a886" fill-rule="evenodd" stroke="#f5a886" stroke-width="0.3"/>
<path d="M724.7 275.2L728.5 275.5L729.6 277.7L729.4 285.7L728.5 289.9L727.5 290.5L718.0 288.6L712.2 285.3L708.4 284.0L707.2 282.5L707.3 278.5L707.9 277.7L709.2 276.9L712.2 275.9L723.8 275.2ZM721.7 276.9L719.3 277.7L718.0 278.9L717.7 280.1L718.6 282.5L720.8 284.9L722.7 286.2L727.5 286.3L728.5 285.3L728.7 284.2L728.8 279.3L728.5 277.5L726.6 276.6L721.8 276.8Z" fill="#ee8a60" fill-rule="evenodd" stroke="#ee8a60" stroke-width="0.3"/>
<path d="M721.8 276.8L726.6 276.6L728.5 277.5L728.8 279.3L728.7 284.2L728.5 285.3L727.5 286.3L722.7 286.2L720.8 284.9L718.6 282.5L717.7 280.1L718.0 278.9L719.3 277.7L721.7 276.9Z" fill="#d6604d" fill-rule="evenodd" stroke="#d6604d" stroke-width="0.3"/>
<path d="M713.2 270.2L716.0 269.9L725.6 269.9L728.5 270.7L730.0 272.0L731.0 274.4L731.3 276.9L730.8 289.9L729.9 295.5L727.5 297.3L723.7 298.5L720.8 298.5L714.1 296.6L706.5 295.8L699.8 297.5L694.0 302.0L692.1 301.7L689.2 299.6L688.3 299.3L681.6 298.9L678.7 299.9L673.9 303.7L670.1 304.6L668.8 304.5L667.5 303.7L667.1 302.9L667.1 301.2L668.2 299.0L669.9 297.2L673.9 295.8L675.3 294.7L676.8 289.0L677.7 287.4L686.4 282.3L693.1 279.6L706.5 272.8L712.8 270.4ZM618.4 271.1L621.3 270.9L623.2 271.6L624.5 272.8L626.0 275.2L627.0 275.7L630.8 275.9L637.5 275.3L641.4 276.3L644.7 278.5L646.2 281.7L647.5 283.4L650.0 284.3L656.2 285.8L656.8 286.6L655.7 288.0L646.2 287.7L642.3 287.0L633.7 284.6L620.3 281.9L616.5 280.4L612.6 279.7L607.9 280.6L605.9 280.5L604.0 280.0L601.7 278.5L601.3 277.7L602.1 276.5L606.9 275.1L611.7 274.8L613.6 274.0L618.3 271.2ZM465.2 273.6L469.0 274.1L473.8 275.8L481.5 281.0L483.4 280.6L489.1 276.1L491.1 275.8L493.9 276.8L495.8 278.5L499.9 286.6L504.7 292.3L515.0 298.5L521.7 304.1L522.7 304.7L529.4 306.3L536.1 307.3L543.7 310.0L551.4 309.6L556.2 308.6L563.8 305.6L572.4 303.7L574.4 302.3L575.0 299.6L575.9 298.8L584.9 296.7L588.7 297.3L594.5 296.8L597.3 297.4L605.0 297.5L612.6 299.3L613.8 300.4L612.9 303.7L609.8 307.0L607.9 308.4L604.7 309.4L599.2 309.4L595.4 308.7L587.8 308.4L580.1 308.7L574.4 310.0L567.7 312.7L563.8 312.8L561.0 313.6L556.2 314.0L553.3 314.7L549.5 314.6L547.5 315.0L542.8 317.6L536.1 324.1L529.2 328.9L528.7 330.5L528.8 334.5L533.2 338.2L540.8 342.2L542.8 344.1L543.8 345.9L543.9 346.7L542.9 350.8L539.3 358.9L539.0 360.5L539.6 363.0L544.0 371.1L545.9 376.0L545.9 384.1L544.6 391.4L539.9 394.7L532.2 397.9L531.1 398.7L530.6 399.5L530.7 402.0L532.2 405.5L534.1 406.4L537.0 406.5L538.2 407.7L538.2 415.0L537.3 416.6L535.1 417.7L533.2 417.7L531.3 416.8L528.4 414.2L519.8 408.8L516.4 406.0L512.1 405.1L511.2 404.6L510.5 403.6L508.5 390.6L500.5 376.8L496.3 366.2L493.9 361.4L490.5 352.4L487.1 345.1L486.0 341.9L480.1 318.3L478.0 313.4L472.8 304.5L471.0 299.5L470.0 299.1L469.7 299.6L468.8 303.7L466.2 307.8L463.3 310.7L462.3 310.7L462.0 310.2L461.6 305.3L461.8 293.1L462.7 291.5L465.0 289.0L466.3 284.2L466.5 279.3L465.6 276.0L464.7 274.4L465.2 273.6ZM559.0 281.5L562.7 281.7L565.3 283.4L565.4 285.0L563.8 286.5L561.9 286.7L559.0 285.8L558.1 284.8L557.5 283.4L557.6 282.5L558.4 281.7ZM581.1 287.4L594.5 287.2L595.5 287.4L596.6 288.2L596.7 289.0L595.4 290.0L591.6 290.2L581.1 289.9L579.7 289.0L579.7 288.2L580.9 287.4ZM648.1 298.6L649.0 298.2L650.9 298.5L658.6 301.5L659.6 302.8L660.0 304.5L660.0 305.3L659.6 306.0L650.9 307.0L644.2 305.6L642.3 304.8L641.2 303.7L641.4 302.8L647.8 298.8ZM708.4 303.4L709.3 303.7L714.1 307.3L717.0 307.7L717.5 308.5L716.4 309.4L712.2 309.3L707.4 306.9L706.4 306.1L706.1 305.3L706.5 304.5L707.5 303.7ZM629.9 305.7L632.8 305.5L634.7 306.1L635.7 306.9L635.9 307.7L635.6 308.5L634.7 309.1L630.8 309.8L628.9 309.5L627.9 308.5L627.7 307.7L628.0 306.9L629.0 306.1ZM725.6 308.2L727.5 307.8L728.5 308.5L728.8 312.6L728.5 313.7L727.8 314.2L726.6 314.2L724.6 312.6L724.3 310.2L725.2 308.5ZM635.6 314.7L647.1 315.0L648.4 315.9L651.4 319.9L657.1 324.0L658.7 326.4L658.9 330.5L660.3 335.4L662.3 339.4L662.2 341.0L660.5 343.1L657.6 345.3L650.0 348.3L644.2 352.8L640.4 353.9L638.5 353.4L631.8 348.1L629.9 347.8L621.3 347.8L613.6 350.1L605.0 352.1L602.1 353.4L593.5 354.3L588.7 355.5L578.2 359.8L577.4 360.5L577.2 361.4L577.6 362.2L580.1 364.3L583.1 366.2L584.9 368.7L585.0 370.3L583.6 376.8L584.3 383.3L585.1 385.7L585.2 389.0L584.8 390.6L583.9 391.5L583.0 391.9L582.0 391.5L581.7 390.6L581.4 387.4L580.8 384.9L580.7 380.9L580.1 379.9L576.3 379.0L572.4 378.8L568.6 377.9L557.1 377.7L556.2 377.2L555.2 376.0L552.3 370.3L552.0 367.9L556.1 361.4L562.7 355.7L562.8 354.0L558.9 346.7L557.4 341.9L556.5 340.2L554.2 338.8L552.3 338.3L549.5 339.9L548.5 339.3L548.5 336.2L549.5 335.2L555.2 332.3L561.0 330.3L566.7 329.1L572.9 326.4L574.8 324.8L575.0 320.7L576.3 319.6L583.0 319.3L595.4 319.8L597.0 320.7L597.5 323.2L596.6 328.0L596.7 333.7L597.6 335.4L599.4 337.0L601.2 338.1L602.1 338.1L606.3 335.4L607.1 334.5L607.3 333.7L606.5 330.5L606.3 325.6L605.4 322.4L605.6 320.7L606.1 319.9L606.9 319.5L608.8 319.5L613.6 321.2L617.4 322.2L622.2 323.1L624.1 323.1L629.7 318.3L634.7 315.0ZM604.0 368.3L605.4 368.7L607.2 370.3L607.6 373.5L606.9 375.2L605.0 375.4L601.3 374.4L600.3 373.5L600.3 372.7L600.8 371.9L603.5 368.7ZM635.6 372.6L641.4 372.0L643.3 372.1L647.5 374.4L647.9 376.0L647.1 379.4L646.2 381.7L645.2 382.5L641.4 383.4L632.8 383.6L630.8 383.4L629.9 382.5L628.7 378.4L628.9 375.9L630.8 374.3L635.4 372.7ZM511.2 418.3L512.1 418.4L513.1 419.1L517.4 424.7L518.1 426.4L517.8 427.2L516.0 427.8L509.3 427.4L508.1 427.2L507.3 426.4L507.3 425.5L507.8 423.9L510.3 419.0ZM722.7 273.6L726.6 273.3L728.5 273.6L729.4 274.5L730.0 276.0L730.3 279.3L729.8 289.9L728.6 293.9L727.5 294.4L718.0 293.5L705.5 289.4L696.9 289.5L690.2 291.1L687.3 289.7L685.9 288.2L685.1 286.6L685.4 285.0L686.3 284.2L690.2 282.8L693.1 282.7L697.9 283.8L698.8 283.7L699.8 283.1L706.8 276.0L711.3 274.1L722.2 273.6ZM582.0 298.8L584.9 298.4L593.5 299.2L595.1 299.6L597.3 301.0L598.2 302.9L597.3 304.4L592.5 306.4L584.9 306.8L581.1 306.0L577.2 304.6L576.3 302.0L576.4 301.2L577.0 300.4L582.0 298.8ZM523.6 314.1L527.4 315.6L528.9 317.5L528.8 320.7L527.4 322.2L525.5 323.1L521.7 322.3L520.7 321.6L519.7 318.3L519.8 316.7L523.1 314.2ZM514.0 335.3L515.0 334.9L516.9 335.0L520.7 337.0L522.8 338.6L526.2 342.7L525.8 344.3L522.4 348.4L520.7 349.7L518.8 350.0L514.0 348.1L513.0 347.5L511.9 345.9L510.5 341.0L510.4 338.6L511.3 337.0L514.0 335.4ZM724.7 275.2L728.5 275.5L729.6 277.7L729.4 285.7L728.5 289.9L727.5 290.5L718.0 288.6L712.2 285.3L708.4 284.0L707.2 282.5L707.3 278.5L707.9 277.7L709.2 276.9L712.2 275.9L723.8 275.2ZM721.8 276.8L726.6 276.6L728.5 277.5L728.8 279.3L728.7 284.2L728.5 285.3L727.5 286.3L722.7 286.2L720.8 284.9L718.6 282.5L717.7 280.1L718.0 278.9L719.3 277.7L721.7 276.9Z" fill="none" stroke="#0a0a0a" stroke-width="0.45" stroke-linejoin="round"/>
</g>
<path d="M455.6 265.5 L461.8 265.5 L461.8 315.2 L466.2 319.0 L466.2 357.1 L470.0 362.9 L470.0 381.9 L473.2 391.4 L473.1 389.0 L478.1 400.1 L482.1 401.1 L485.1 410.1 L485.1 418.1 L504.2 418.1 L507.2 427.8 L527.3 427.8 L531.3 438.2 L537.3 427.8 L541.3 427.8 L545.4 438.2 L568.4 438.2 L573.5 428.2 L579.5 427.8 L582.9 419.1 L587.5 427.8 L594.5 428.2 L599.6 437.8 L610.0 438.2 L612.0 438.2 L651.2 438.2 L655.2 449.3 L655.8 460.3 L677.9 460.3 L678.3 449.3 L682.3 438.2 L686.3 438.2 L689.3 449.3 L689.7 460.3 L692.9 460.3 L693.4 449.3 L698.4 440.2 L702.4 434.2 L705.4 420.2 L708.4 400.1 L712.4 388.0 L715.2 381.9 L720.6 366.7 L720.6 353.3 L724.8 347.6 L725.7 324.8 L727.6 321.0 L727.6 279.0 L735.2 273.3 L735.2 265.5 L744.8 265.5 L744.8 458.9 L455.6 458.9Z" fill="#cbcbcb" clip-path="url(#cpd)"/>
<path d="M727.1 317.9H610.3Q608.1 317.9 608.1 320.1V438.1M608.1 360.7Q608.1 363.9 611.3 363.9H720.6" fill="none" stroke="#000" stroke-width="1.5"/>
<path d="M492.9 267.0 L493.1 267.6 L493.5 268.4 L494.0 269.4 L494.8 270.5 L495.7 271.7 L496.9 273.0 L498.2 274.5 L499.5 276.2 L500.9 278.2 L502.3 280.4 L503.8 282.6 L505.2 284.8 L506.7 286.8 L508.2 288.8 L509.6 290.7 L511.0 292.4 L512.3 293.8 L513.5 295.1 L514.7 296.2 L515.7 297.1 L516.6 297.8 L517.4 298.2 L518.1 298.5 L518.6 298.7M538.6 301.0 L540.7 300.8 L543.8 300.6 L547.1 300.4 L550.0 300.0 L552.0 299.4 L553.7 298.7 L555.4 298.0 L557.6 297.3 L560.6 296.6 L564.1 296.1 L567.8 295.5 L571.4 295.1 L574.9 294.7 L578.3 294.3 L581.8 294.1 L585.2 294.0 L588.7 294.0 L592.1 294.2 L595.6 294.4 L599.0 294.5 L602.5 294.6 L605.9 294.6 L609.4 294.6 L612.8 294.5 L616.3 294.3 L619.7 294.1 L623.2 293.8 L626.6 293.7 L630.1 293.6 L633.5 293.5 L637.0 293.6 L640.4 293.7 L643.9 293.9 L647.5 294.3 L651.0 294.7 L654.2 295.1 L657.2 295.5 L660.1 296.1 L662.8 296.5 L665.3 296.7 L667.5 296.6 L669.6 296.3 L671.5 295.8 L673.5 295.3 L675.6 294.7 L677.7 294.0 L679.7 293.3 L681.8 292.6 L683.8 291.8 L685.8 291.1 L687.8 290.4 L690.1 289.8 L692.6 289.3 L695.3 288.9 L698.1 288.6 L701.1 288.4 L704.4 288.3 L708.0 288.3 L711.5 288.4 L714.9 288.4 L718.4 288.5 L722.0 288.7 L725.2 288.9 L727.4 289.0M462.4 273.0 L463.6 272.8 L465.2 272.6 L467.2 272.4 L469.0 272.2 L471.0 272.0 L473.2 271.8 L475.1 271.5 L476.7 271.0 L477.6 270.2 L478.1 269.0 L478.4 267.8 L478.6 267.0M478.6 267.0 L478.6 268.2 L478.6 269.9 L478.7 271.7 L478.8 273.3 L478.9 274.7 L479.0 276.1 L479.1 277.3 L479.3 278.3 L479.6 278.9 L479.8 279.4 L480.2 279.6 L480.5 279.8 L480.8 280.0 L481.2 280.0 L481.7 280.0 L482.0 279.8 L482.3 279.5 L482.5 279.0 L482.7 278.3 L483.0 277.5 L483.2 276.4 L483.4 275.1 L483.5 273.7 L483.7 272.4 L483.9 270.9 L484.0 269.4 L484.2 268.0 L484.3 267.0M476.7 271.4 L478.3 271.5 L480.7 271.5 L483.2 271.7 L485.2 272.4 L486.7 273.5 L487.8 274.9 L488.8 276.8 L490.0 279.0 L491.4 281.9 L492.8 285.4 L494.3 289.0 L495.7 292.4 L497.1 295.6 L498.6 298.8 L500.0 301.9 L501.4 304.8 L502.9 307.5 L504.5 310.2 L506.0 312.5 L507.1 314.3 L507.9 315.3 L508.5 315.6 L508.8 315.7 L509.0 315.8M527.1 320.2 L530.0 320.0 L534.1 319.7 L538.4 319.3 L541.4 319.0 L542.6 318.8 L542.6 318.5 L542.7 318.3 L543.8 318.0 L546.1 317.8 L549.1 317.5 L552.9 317.3 L557.6 317.2 L563.6 317.1 L570.8 317.1 L578.3 317.1 L585.2 317.2 L591.5 317.3 L597.5 317.5 L603.3 317.6 L608.7 317.7 L613.6 317.8 L618.2 317.8 L622.5 317.8 L626.6 317.7 L630.4 317.6 L633.8 317.5 L637.1 317.3 L640.4 317.2 L643.9 317.2 L647.5 317.2 L651.0 317.2 L654.2 317.2 L657.2 317.0 L659.9 316.8 L662.6 316.7 L665.3 316.6 L668.0 316.8 L670.8 317.2 L673.5 317.5 L676.3 317.7 L679.0 317.7 L681.6 317.6 L684.4 317.4 L687.3 317.2 L690.5 317.1 L693.9 316.9 L697.4 316.8 L701.1 316.6 L705.2 316.4 L709.7 316.2 L714.0 316.0 L717.7 315.8 L720.8 315.7 L723.6 315.8 L725.8 315.8 L727.4 315.8M462.4 273.7 L463.1 273.9 L464.1 274.2 L465.2 274.6 L466.2 275.2 L466.9 276.2 L467.6 277.3 L468.2 278.6 L469.0 280.0 L470.0 281.6 L471.1 283.3 L472.4 285.0 L473.8 286.7 L475.5 287.9 L477.5 288.9 L479.5 290.2 L481.4 292.4 L483.1 295.9 L484.8 300.2 L486.4 305.0 L488.1 309.5 L489.9 313.9 L491.8 318.2 L493.8 322.5 L495.7 326.7 L497.7 330.8 L499.6 334.9 L501.6 338.7 L503.3 341.9 L505.0 344.3 L506.7 346.2 L508.1 347.6 L509.0 348.6M530.0 363.8 L532.0 364.6 L534.8 365.8 L537.7 366.9 L539.5 367.6 L539.7 367.5 L539.0 367.0 L538.2 366.4 L538.3 366.3 L539.7 366.7 L541.8 367.5 L544.3 368.3 L546.6 369.0 L548.6 369.4 L550.7 369.6 L552.8 369.9 L554.8 370.4 L556.8 371.3 L558.8 372.5 L560.9 373.6 L563.1 374.6 L565.7 375.2 L568.5 375.7 L571.3 375.9 L574.2 375.9 L576.9 375.6 L579.7 375.0 L582.4 374.1 L585.2 373.2 L588.0 372.0 L590.9 370.6 L593.7 369.3 L596.2 368.2 L598.6 367.5 L600.8 367.0 L602.8 366.6 L604.5 366.3 L605.8 365.9 L606.7 365.5 L607.5 365.3 L608.7 365.4 L610.1 366.1 L611.7 367.1 L613.5 368.2 L615.6 369.0 L618.0 369.7 L620.8 370.2 L623.8 370.5 L626.6 370.4 L629.4 369.8 L632.3 368.7 L635.1 367.5 L637.7 366.3 L640.0 365.1 L642.1 363.8 L644.0 362.6 L645.9 361.6 L647.8 360.7 L649.5 360.0 L651.1 359.5 L652.8 359.4 L654.5 359.7 L656.2 360.4 L657.9 361.3 L659.7 362.1 L661.6 363.0 L663.6 363.9 L665.7 364.7 L668.0 365.4 L670.6 366.0 L673.4 366.5 L676.2 366.9 L679.1 367.1 L681.8 367.1 L684.6 366.8 L687.3 366.5 L690.1 366.3 L692.9 366.1 L695.8 365.9 L698.6 365.7 L701.1 365.4 L703.5 365.1 L705.6 364.7 L707.6 364.2 L709.4 363.5 L711.0 362.5 L712.4 361.3 L713.7 360.2 L714.9 359.4 L716.2 359.1 L717.4 359.1 L718.4 359.3 L719.1 359.4M462.4 274.3 L463.3 274.5 L464.6 274.7 L466.0 275.2 L467.1 276.2 L467.8 277.8 L468.3 279.9 L468.7 282.3 L469.0 284.8 L469.1 287.3 L469.0 290.0 L469.1 292.7 L470.0 295.2 L472.0 297.3 L474.8 299.1 L477.8 301.1 L480.5 303.8 L482.6 307.4 L484.5 311.7 L486.3 316.3 L488.1 321.0 L490.0 325.6 L491.9 330.5 L493.8 335.3 L495.7 340.0 L497.6 344.5 L499.5 349.0 L501.4 353.2 L503.3 357.1 L505.4 361.0 L507.6 364.7 L509.6 367.9 L511.0 370.1M531.0 380.4 L533.1 381.7 L536.2 383.6 L539.3 385.5 L541.4 386.7 L541.8 386.8 L541.2 386.2 L540.6 385.6 L541.0 385.6 L543.1 386.6 L546.0 388.1 L549.2 389.8 L552.1 391.1 L554.3 391.9 L556.2 392.4 L558.2 393.0 L560.4 393.9 L562.9 395.4 L565.5 397.4 L568.4 399.2 L571.4 400.2 L574.7 400.3 L578.3 399.7 L581.9 398.8 L585.2 398.0 L588.1 397.2 L590.8 396.2 L593.5 395.3 L596.2 394.7 L599.3 394.4 L602.4 394.3 L605.5 394.4 L608.7 394.7 L611.7 395.3 L614.8 396.1 L617.9 397.1 L621.1 398.0 L624.6 399.1 L628.3 400.2 L631.8 401.3 L634.9 402.2 L637.4 402.7 L639.4 403.0 L641.2 403.1 L643.2 403.0 L645.3 402.5 L647.5 401.7 L649.6 400.9 L651.5 400.2 L652.9 399.7 L654.1 399.2 L655.2 399.0 L656.4 399.4 L657.8 400.5 L659.3 402.3 L660.8 404.3 L662.5 406.3 L664.4 408.3 L666.5 410.4 L668.7 412.5 L670.8 414.6 L672.9 416.8 L675.1 419.0 L677.2 421.1 L679.1 422.9 L680.6 424.1 L682.0 425.1 L683.3 425.8 L684.6 426.2 L685.9 426.1 L687.2 425.6 L688.4 425.1 L689.5 425.1 L690.5 425.7 L691.4 426.6 L692.2 427.8 L692.9 428.9 L693.2 430.2 L693.4 431.6 L693.7 432.9 L694.2 433.9 L695.4 434.4 L696.9 434.7 L698.5 434.7 L699.8 434.5 L700.7 433.9 L701.4 433.1 L702.0 432.1 L702.5 431.1 L703.1 430.1 L703.7 428.9 L704.1 427.8 L704.5 427.0M687.3 442.7 L688.4 441.9 L689.9 440.7 L691.5 439.5 L692.9 438.9 L693.8 439.0 L694.6 439.6 L695.2 440.3 L695.6 440.8" fill="none" stroke="#ff00ff" stroke-width="1.5" stroke-linejoin="round" stroke-linecap="round" clip-path="url(#cpd)"/>
<text transform="translate(528.1 300.4) rotate(8)" text-anchor="middle" font-size="8.3" fill="#111" dy="3">27.4</text>
<text transform="translate(517.0 319.4) rotate(14)" text-anchor="middle" font-size="8.3" fill="#111" dy="3">27.8</text>
<text transform="translate(518.0 357.5) rotate(30)" text-anchor="middle" font-size="8.3" fill="#111" dy="3">28.04</text>
<text transform="translate(520.1 376.2) rotate(22)" text-anchor="middle" font-size="8.3" fill="#111" dy="3">28.1</text>
<rect x="456.6" y="267.1" width="287.3" height="182.2" fill="none" stroke="#555" stroke-width="0.6"/>
<text x="456.0" y="464.8" text-anchor="middle" font-size="11">-80</text>
<text x="494.3" y="464.8" text-anchor="middle" font-size="11">-60</text>
<text x="532.6" y="464.8" text-anchor="middle" font-size="11">-40</text>
<text x="570.9" y="464.8" text-anchor="middle" font-size="11">-20</text>
<text x="609.2" y="464.8" text-anchor="middle" font-size="11">0</text>
<text x="647.5" y="464.8" text-anchor="middle" font-size="11">20</text>
<text x="685.8" y="464.8" text-anchor="middle" font-size="11">40</text>
<text x="724.1" y="464.8" text-anchor="middle" font-size="11">60</text>
<text x="451.8" y="271.5" text-anchor="end" font-size="11">0</text>
<text x="451.8" y="304.0" text-anchor="end" font-size="11">1</text>
<text x="451.8" y="336.5" text-anchor="end" font-size="11">2</text>
<text x="451.8" y="369.0" text-anchor="end" font-size="11">3</text>
<text x="451.8" y="401.5" text-anchor="end" font-size="11">4</text>
<text x="451.8" y="434.0" text-anchor="end" font-size="11">5</text>
<path d="M456.6 449.3v-2.9M456.6 267.1v2.9M494.9 449.3v-2.9M494.9 267.1v2.9M533.2 449.3v-2.9M533.2 267.1v2.9M571.5 449.3v-2.9M571.5 267.1v2.9M609.8 449.3v-2.9M609.8 267.1v2.9M648.1 449.3v-2.9M648.1 267.1v2.9M686.4 449.3v-2.9M686.4 267.1v2.9M724.7 449.3v-2.9M724.7 267.1v2.9M456.6 267.1h2.9M743.9 267.1h-2.9M456.6 283.4h2.9M743.9 283.4h-2.9M456.6 299.6h2.9M743.9 299.6h-2.9M456.6 315.9h2.9M743.9 315.9h-2.9M456.6 332.1h2.9M743.9 332.1h-2.9M456.6 348.4h2.9M743.9 348.4h-2.9M456.6 364.6h2.9M743.9 364.6h-2.9M456.6 380.9h2.9M743.9 380.9h-2.9M456.6 397.1h2.9M743.9 397.1h-2.9M456.6 413.4h2.9M743.9 413.4h-2.9M456.6 429.6h2.9M743.9 429.6h-2.9M456.6 445.9h2.9M743.9 445.9h-2.9" stroke="#555" stroke-width="0.6" fill="none"/>
</g>
<g id="panel-e">
<rect x="32.3" y="519.9" width="287.3" height="182.2" fill="#f6f6f6"/>
<g clip-path="url(#cpe)">
<path d="M33.3 519.9L319.5 519.9L319.5 535.5L294.6 535.4L280.3 532.6L270.7 528.3L267.8 527.8L265.9 528.1L260.1 530.1L245.8 536.1L242.9 536.8L239.1 536.7L224.7 534.7L202.7 533.9L165.4 531.0L145.3 533.8L129.0 538.7L119.4 540.3L109.8 540.9L98.1 540.2L94.0 539.4L88.8 537.8L85.5 536.1L82.1 533.8L73.5 526.0L69.6 524.1L65.8 523.4L61.0 523.2L38.0 523.7L32.3 524.3L32.3 519.9Z" fill="#3e27a8" fill-rule="evenodd" stroke="#3e27a8" stroke-width="0.3"/>
<path d="M36.1 523.9L62.0 523.2L69.6 524.1L74.0 526.4L81.1 533.0L86.9 537.0L94.0 539.4L103.1 540.7L111.8 540.9L120.1 540.2L129.3 538.6L145.3 533.8L166.3 531.0L202.7 533.9L224.7 534.7L239.1 536.7L242.9 536.8L245.8 536.1L260.1 530.1L265.9 528.1L267.8 527.8L270.7 528.3L280.3 532.6L294.6 535.4L319.5 535.5L319.5 540.4L314.7 541.9L294.6 541.8L283.1 539.6L279.3 539.3L268.8 536.5L265.9 536.7L244.8 543.0L242.9 543.3L225.7 541.3L187.4 537.8L166.3 537.2L145.3 540.2L129.0 545.0L113.7 546.8L101.2 546.9L91.7 545.5L87.8 544.4L84.0 542.9L78.3 538.6L71.1 530.5L68.7 528.7L64.8 526.9L62.0 526.2L58.1 526.0L39.0 526.3L32.3 527.1L32.3 524.3L35.4 524.0Z" fill="#4433c8" fill-rule="evenodd" stroke="#4433c8" stroke-width="0.3"/>
<path d="M38.0 526.3L59.1 526.0L63.9 526.5L67.5 528.0L70.6 530.1L78.3 538.6L84.0 542.9L90.7 545.2L100.3 546.8L112.7 546.9L129.0 545.0L145.3 540.2L165.4 537.2L187.4 537.8L225.7 541.3L242.9 543.3L244.8 543.0L265.9 536.7L268.8 536.5L279.3 539.3L283.1 539.6L295.6 541.9L313.8 541.9L315.7 541.7L319.5 540.4L319.5 544.4L314.7 546.8L312.8 547.3L294.6 547.3L279.3 546.3L267.8 545.0L260.1 545.7L244.8 548.3L242.0 548.4L206.5 543.8L186.4 542.1L166.3 541.5L149.1 544.9L145.3 545.3L129.9 549.1L110.8 551.5L93.6 551.6L89.3 552.4L85.0 554.0L82.1 554.3L80.2 553.9L77.3 551.6L67.1 535.3L62.0 529.6L60.2 528.8L58.1 528.5L48.6 528.1L39.0 528.3L32.3 529.6L32.3 527.1L37.5 526.4Z" fill="#4745e5" fill-rule="evenodd" stroke="#4745e5" stroke-width="0.3"/>
<path d="M36.1 528.8L40.9 528.2L52.4 528.1L59.1 528.6L62.0 529.6L67.1 535.3L77.3 551.6L80.2 553.9L82.1 554.3L85.0 554.0L89.3 552.4L93.6 551.6L110.8 551.5L129.9 549.1L145.3 545.3L149.1 544.9L166.3 541.5L186.4 542.1L206.5 543.8L242.9 548.4L260.1 545.7L267.8 545.0L279.3 546.3L294.6 547.3L311.8 547.4L314.7 546.8L319.5 544.4L319.5 548.4L313.8 551.4L310.9 551.7L281.2 551.7L270.7 550.0L266.9 549.8L260.1 550.2L244.8 552.5L242.0 552.6L187.4 546.8L165.4 546.7L149.1 550.7L145.3 551.1L129.9 554.6L125.2 555.0L120.4 556.1L112.7 560.4L107.9 564.9L106.0 566.2L102.2 567.2L93.5 571.1L90.5 571.9L86.9 572.1L84.0 571.6L80.2 569.9L73.9 565.4L71.7 563.0L70.4 559.7L69.5 552.4L68.2 548.3L62.0 536.6L59.1 533.3L57.2 532.2L54.3 531.4L47.6 530.6L39.0 530.6L32.3 532.0L32.3 529.6L35.9 528.8Z" fill="#4260f6" fill-rule="evenodd" stroke="#4260f6" stroke-width="0.3"/>
<path d="M42.8 530.5L53.9 531.3L57.2 532.2L60.1 534.2L62.9 538.3L68.5 549.1L69.5 552.4L70.4 559.7L71.7 563.0L73.9 565.4L80.2 569.9L84.0 571.6L86.9 572.1L90.5 571.9L93.5 571.1L102.2 567.2L106.0 566.2L107.9 564.9L112.7 560.4L120.4 556.1L125.2 555.0L129.9 554.6L145.3 551.1L149.1 550.7L165.4 546.7L187.4 546.8L242.9 552.6L260.1 550.2L266.9 549.8L270.7 550.0L280.3 551.7L311.8 551.7L314.7 551.0L319.5 548.4L319.5 552.3L313.8 555.3L294.6 555.6L282.2 556.6L279.3 556.4L270.7 554.1L267.8 553.8L260.1 554.1L242.0 556.3L221.9 555.5L206.5 554.2L187.4 553.1L165.4 552.6L149.1 556.3L145.3 556.7L129.9 561.3L125.2 562.1L108.0 571.9L105.0 574.3L95.5 579.6L89.7 581.9L85.0 582.7L80.2 581.8L75.4 579.0L71.7 575.1L65.8 567.6L61.3 563.0L59.5 559.7L57.9 551.6L55.8 546.7L54.8 545.9L49.5 544.2L46.7 542.7L40.9 537.3L39.0 536.1L37.1 535.5L32.3 535.3L32.3 532.0L38.0 530.7L42.7 530.5Z" fill="#2f84f3" fill-rule="evenodd" stroke="#2f84f3" stroke-width="0.3"/>
<path d="M33.3 535.3L37.1 535.5L39.0 536.1L40.9 537.3L46.7 542.7L49.5 544.2L54.8 545.9L55.8 546.7L57.9 551.6L59.5 559.7L61.3 563.0L65.8 567.6L71.7 575.1L75.4 579.0L79.2 581.4L84.0 582.7L88.8 582.2L94.5 580.1L105.0 574.3L108.0 571.9L125.2 562.1L129.9 561.3L145.3 556.7L149.1 556.3L165.4 552.6L187.4 553.1L206.5 554.2L221.9 555.5L242.0 556.3L260.1 554.1L267.8 553.8L281.2 556.6L295.6 555.6L312.8 555.5L314.7 554.9L319.5 552.3L319.5 556.3L314.7 558.6L295.6 558.9L282.2 561.4L279.3 561.2L270.7 558.2L266.9 557.7L260.1 558.1L242.9 560.2L204.6 560.5L186.4 559.6L164.4 559.7L146.2 563.2L129.9 574.0L125.2 575.7L107.0 583.8L103.1 585.8L97.4 590.3L92.6 593.0L88.8 594.2L85.9 594.4L82.1 594.0L79.2 593.1L74.4 590.2L69.6 585.0L59.8 571.9L57.2 569.6L49.5 564.6L47.6 563.0L46.0 560.5L42.4 553.2L38.0 548.0L36.1 547.0L32.3 546.5L32.3 535.3Z" fill="#2a97e8" fill-rule="evenodd" stroke="#2a97e8" stroke-width="0.3"/>
<path d="M33.3 546.6L36.1 547.0L38.4 548.3L42.4 553.2L46.0 560.5L47.6 563.0L49.5 564.6L57.2 569.6L59.8 571.9L69.6 585.0L74.4 590.2L79.2 593.1L82.1 594.0L85.9 594.4L88.8 594.2L92.6 593.0L97.4 590.3L103.1 585.8L107.0 583.8L125.2 575.7L129.9 574.0L146.2 563.2L164.4 559.7L186.4 559.6L204.6 560.5L242.9 560.2L260.1 558.1L266.9 557.7L270.7 558.2L279.3 561.2L281.2 561.4L295.6 558.9L313.8 558.8L315.7 558.3L319.5 556.3L319.5 560.3L315.7 561.9L295.6 562.1L282.2 566.0L279.3 565.8L270.7 562.8L266.9 562.1L260.1 562.5L244.8 564.3L207.5 566.4L184.5 566.2L165.4 567.1L145.3 574.7L129.9 582.9L125.2 584.1L119.7 586.5L117.5 587.9L111.8 593.0L107.8 595.5L97.4 604.1L91.7 606.9L88.8 607.5L86.9 607.5L84.0 606.7L80.2 604.7L75.4 601.2L71.6 597.6L68.1 593.0L61.0 580.2L56.3 575.1L49.3 570.3L40.9 566.6L39.8 565.4L38.0 560.8L37.1 559.6L36.1 559.4L32.3 560.3L32.3 546.5Z" fill="#1aa9dc" fill-rule="evenodd" stroke="#1aa9dc" stroke-width="0.3"/>
<path d="M35.2 559.5L37.1 559.6L37.9 560.5L39.4 564.6L40.9 566.6L50.7 571.1L54.3 573.5L58.1 576.8L62.0 581.7L69.2 594.6L73.5 599.5L77.3 602.7L82.1 605.8L85.0 607.1L87.8 607.6L91.7 606.9L97.4 604.1L107.8 595.5L111.8 593.0L117.5 587.9L119.7 586.5L125.2 584.1L129.9 582.9L145.3 574.7L165.4 567.1L184.5 566.2L207.5 566.4L244.8 564.3L260.1 562.5L266.9 562.1L269.7 562.5L279.3 565.8L281.2 566.0L283.1 565.8L295.6 562.1L314.7 562.0L316.6 561.6L319.5 560.3L319.5 564.3L317.6 564.9L295.6 564.8L283.1 570.0L281.2 570.4L269.7 568.6L265.9 568.5L222.8 572.0L214.2 573.7L184.5 573.9L164.4 576.2L145.3 582.9L129.9 591.0L125.2 592.2L121.0 594.6L117.9 597.1L111.8 605.5L108.0 608.5L104.0 614.1L95.5 621.0L91.7 622.7L87.8 623.2L85.0 622.6L82.1 621.2L77.8 618.2L74.0 615.0L68.5 609.3L64.8 603.6L62.0 600.3L60.1 598.6L55.3 595.8L53.4 594.0L48.1 586.5L41.3 579.2L38.9 576.0L38.0 575.4L37.1 575.5L32.3 578.4L32.3 560.3L34.6 559.7Z" fill="#0bb4c8" fill-rule="evenodd" stroke="#0bb4c8" stroke-width="0.3"/>
<path d="M319.5 564.3L319.5 568.1L317.6 568.2L311.8 567.0L295.6 567.1L282.2 573.5L244.8 577.6L222.8 578.5L215.2 580.1L206.5 580.9L183.6 581.8L170.2 583.6L165.4 584.7L148.1 596.3L144.7 597.1L132.8 598.5L129.0 600.3L128.0 601.5L125.5 611.7L123.2 617.1L116.5 624.2L114.6 625.5L113.7 625.5L110.8 628.0L110.5 628.8L109.8 628.9L109.7 629.6L108.9 629.9L107.0 632.1L104.1 637.0L103.1 637.7L101.2 637.7L89.7 634.9L77.5 628.0L73.5 626.3L69.6 626.1L65.8 627.3L63.6 628.8L58.1 634.9L56.2 635.8L52.4 635.8L51.4 636.3L50.5 637.6L38.2 684.0L35.2 694.1L32.3 701.9L32.3 578.4L37.1 575.5L38.0 575.4L39.0 576.0L41.3 579.2L45.7 583.7L54.0 594.6L60.1 598.6L62.9 601.3L68.5 609.3L74.9 615.8L78.9 619.0L83.0 621.7L85.9 622.9L88.8 623.2L91.7 622.7L95.5 621.0L104.0 614.1L108.0 608.5L111.8 605.5L117.9 597.1L121.0 594.6L125.2 592.2L129.9 591.0L145.3 582.9L164.4 576.2L184.5 573.9L214.2 573.7L222.8 572.0L265.9 568.5L269.7 568.6L281.2 570.4L283.1 570.0L295.6 564.8L311.8 564.7L316.6 565.1L318.6 564.6Z" fill="#1bbfaa" fill-rule="evenodd" stroke="#1bbfaa" stroke-width="0.3"/>
<path d="M299.4 567.0L312.8 567.1L317.6 568.2L319.5 568.1L319.5 571.9L312.8 569.5L295.6 569.5L283.1 576.4L279.3 577.1L268.8 580.6L260.1 581.7L243.9 584.6L219.0 585.0L202.7 587.4L194.5 589.8L175.9 596.5L173.0 597.9L167.3 601.5L163.5 603.3L151.0 606.5L147.7 607.6L145.3 609.1L141.4 613.1L137.6 620.6L134.4 628.8L131.9 632.7L128.8 636.1L124.6 639.3L121.3 641.3L117.5 642.8L111.8 644.3L107.0 646.3L100.3 647.4L97.4 647.4L88.8 645.0L80.2 640.7L76.3 640.7L73.5 641.9L70.6 644.4L68.2 649.1L62.3 654.0L60.9 656.4L51.5 682.4L47.7 705.1L32.3 705.1L32.3 701.9L35.2 694.1L38.2 684.0L50.5 637.6L51.4 636.3L52.4 635.8L56.2 635.8L58.1 634.9L62.7 629.6L64.8 627.8L69.6 626.1L73.5 626.3L77.5 628.0L89.7 634.9L101.2 637.7L103.1 637.7L104.1 637.0L107.0 632.1L108.9 629.9L109.7 629.6L109.8 628.9L110.5 628.8L110.8 628.0L113.7 625.5L114.6 625.5L116.5 624.2L123.2 617.1L125.5 611.7L128.0 601.5L129.0 600.3L132.8 598.5L144.7 597.1L148.1 596.3L165.4 584.7L170.2 583.6L183.6 581.8L206.5 580.9L215.2 580.1L222.8 578.5L244.8 577.6L282.2 573.5L294.6 567.4L299.4 567.0Z" fill="#3fca88" fill-rule="evenodd" stroke="#3fca88" stroke-width="0.3"/>
<path d="M296.5 569.4L312.8 569.5L319.5 571.9L319.5 579.3L314.7 574.0L312.8 573.0L297.5 573.0L295.4 573.5L287.0 578.2L283.1 580.8L279.3 581.6L269.7 585.4L244.8 589.6L222.8 591.2L204.6 595.8L202.7 596.7L193.1 603.8L185.0 608.5L180.7 612.5L178.4 614.1L166.3 620.6L156.8 626.3L147.2 630.6L133.2 642.6L129.4 645.0L121.2 649.1L111.8 652.7L107.9 654.6L103.1 655.7L99.3 656.1L94.5 655.8L83.0 653.6L81.1 653.8L79.2 654.6L76.1 658.0L73.5 663.4L69.6 664.6L68.7 665.3L68.2 666.1L66.8 681.2L63.0 705.1L47.7 705.1L50.4 688.1L52.5 679.1L61.3 655.6L62.9 653.4L68.2 649.1L70.6 644.4L73.5 641.9L76.3 640.7L80.2 640.7L88.8 645.0L97.4 647.4L100.3 647.4L107.0 646.3L111.8 644.3L117.5 642.8L121.3 641.3L124.6 639.3L128.8 636.1L131.9 632.7L134.4 628.8L137.6 620.6L141.8 612.5L146.2 608.5L149.1 607.1L163.5 603.3L167.3 601.5L173.0 597.9L175.9 596.5L199.8 588.1L219.0 585.0L243.9 584.6L260.1 581.7L268.8 580.6L279.3 577.1L283.1 576.4L294.6 569.8L296.1 569.5Z" fill="#7ccb5c" fill-rule="evenodd" stroke="#7ccb5c" stroke-width="0.3"/>
<path d="M295.6 573.4L299.4 572.9L310.9 572.9L314.1 573.5L319.5 579.3L319.5 588.5L312.8 589.2L296.5 589.1L283.9 590.6L280.3 591.2L271.6 593.8L264.9 595.4L242.0 598.6L222.8 601.9L201.8 615.1L188.6 625.5L185.7 627.1L177.8 630.5L169.2 636.5L164.1 639.3L154.8 643.9L146.2 645.5L132.9 652.3L127.1 654.0L118.6 657.2L111.2 661.3L105.1 666.2L99.3 665.1L93.6 662.4L91.7 661.9L88.8 661.9L86.9 662.4L84.0 664.7L80.2 671.0L79.2 671.8L76.3 672.2L75.2 673.5L74.5 693.8L75.3 705.1L63.0 705.1L66.8 681.2L68.2 666.1L68.7 665.3L69.6 664.6L73.5 663.4L76.1 658.0L79.2 654.6L81.1 653.8L83.0 653.6L94.5 655.8L99.3 656.1L103.1 655.7L107.9 654.6L111.8 652.7L121.2 649.1L129.4 645.0L133.2 642.6L147.2 630.6L156.8 626.3L166.3 620.6L172.9 617.4L178.8 613.9L185.0 608.5L193.1 603.8L203.7 596.2L222.8 591.2L244.8 589.6L269.7 585.4L279.3 581.6L283.1 580.8L287.0 578.2L295.4 573.5Z" fill="#b8be35" fill-rule="evenodd" stroke="#b8be35" stroke-width="0.3"/>
<path d="M315.7 588.9L319.5 588.5L319.5 604.7L314.7 607.5L311.8 608.0L300.4 608.5L293.7 611.7L292.7 611.7L286.4 607.6L283.1 606.1L276.4 605.0L263.0 605.7L245.8 605.8L239.2 606.8L230.1 609.3L223.4 611.7L218.0 617.4L205.1 629.6L196.7 635.3L186.4 641.2L179.7 643.4L174.0 646.9L168.2 649.5L157.7 652.7L146.2 653.6L137.6 658.2L129.9 660.8L123.2 662.3L120.4 663.4L117.5 665.3L115.6 667.3L109.8 675.5L107.9 679.2L107.0 682.4L107.1 684.0L107.5 684.8L111.3 688.1L112.0 689.7L111.4 691.3L108.9 694.6L106.0 697.1L99.3 698.6L98.3 698.6L97.4 698.0L97.7 696.2L100.4 690.5L100.6 688.9L98.2 687.3L96.4 678.5L94.5 672.6L93.6 671.3L91.7 669.9L89.7 669.6L88.8 669.9L85.9 672.3L83.2 677.5L82.5 680.0L84.9 705.1L75.3 705.1L74.5 694.6L74.9 675.9L75.2 673.5L75.7 672.6L79.2 671.8L80.2 671.0L84.0 664.7L86.9 662.4L88.8 661.9L91.7 661.9L93.6 662.4L99.3 665.1L105.1 666.2L111.2 661.3L118.6 657.2L127.1 654.0L132.9 652.3L146.2 645.5L154.8 643.9L164.1 639.3L169.2 636.5L177.8 630.5L185.7 627.1L188.6 625.5L201.8 615.1L222.8 601.9L242.0 598.6L264.9 595.4L271.6 593.8L280.3 591.2L283.9 590.6L296.5 589.1L314.9 589.0Z" fill="#e8b838" fill-rule="evenodd" stroke="#e8b838" stroke-width="0.3"/>
<path d="M270.7 605.2L277.4 605.0L282.9 606.0L286.4 607.6L292.7 611.7L293.7 611.7L300.4 608.5L313.8 607.8L319.5 604.7L319.5 634.9L309.9 634.0L297.5 637.8L290.8 638.2L288.9 637.2L281.2 630.5L270.7 624.6L262.1 621.5L257.3 620.8L250.5 621.5L245.8 622.6L242.0 624.8L238.3 628.0L232.8 634.5L228.9 640.1L228.6 642.6L227.6 643.4L227.6 645.0L226.6 645.8L226.7 650.7L228.4 657.2L228.5 660.5L224.7 674.2L222.8 677.0L219.2 680.8L219.0 681.6L219.2 684.0L219.9 684.3L220.1 684.8L221.9 686.8L222.8 688.8L223.1 691.3L222.8 695.2L219.8 702.7L219.6 705.1L214.5 705.1L208.8 695.4L208.8 693.0L211.3 685.5L212.3 683.2L213.2 683.2L212.3 683.2L211.3 682.6L207.4 679.1L200.8 675.4L198.9 673.7L196.9 671.0L195.0 665.5L194.1 663.9L186.4 663.9L174.0 664.7L172.3 665.3L166.3 669.3L165.4 669.5L159.6 668.5L151.0 664.4L149.1 665.1L140.5 670.4L131.9 672.5L128.8 674.3L127.1 675.8L121.8 685.6L120.2 692.1L110.0 705.1L84.9 705.1L82.5 680.8L82.8 678.3L85.0 673.9L86.9 671.2L89.7 669.6L91.7 669.9L93.6 671.3L95.5 675.1L98.2 687.3L100.6 688.9L100.4 690.5L97.7 696.2L97.4 698.0L98.3 698.6L99.3 698.6L106.0 697.1L108.9 694.6L111.4 691.3L112.0 689.7L111.3 688.1L107.5 684.8L107.1 684.0L107.0 682.4L107.9 679.2L109.6 675.9L114.6 668.6L117.5 665.3L119.8 663.7L123.2 662.3L129.0 661.1L137.6 658.2L146.2 653.6L157.7 652.7L168.2 649.5L174.0 646.9L179.7 643.4L186.4 641.2L196.7 635.3L205.1 629.6L218.0 617.4L222.8 612.3L225.1 610.9L236.2 607.6L243.5 606.0L249.6 605.6L263.0 605.7L270.1 605.2Z" fill="#fdbf30" fill-rule="evenodd" stroke="#fdbf30" stroke-width="0.3"/>
<path d="M250.6 621.5L256.3 620.8L259.2 620.9L264.5 622.3L269.7 624.2L282.2 631.0L288.9 637.2L290.8 638.2L297.5 637.8L309.9 634.0L319.5 634.9L319.5 705.1L277.4 705.1L255.3 701.1L253.5 700.3L250.6 696.9L248.7 695.7L245.8 694.9L242.0 694.6L235.3 696.3L233.3 697.3L232.2 698.6L233.0 700.3L238.4 705.1L219.6 705.1L219.8 702.7L222.8 695.2L223.1 691.3L222.8 688.8L221.9 686.8L220.1 684.8L219.9 684.3L219.2 684.0L219.0 681.6L219.2 680.8L222.8 677.0L224.7 674.2L228.5 660.5L228.4 657.2L226.7 650.7L226.6 645.8L227.6 645.0L227.6 643.4L228.6 642.6L228.6 641.0L229.9 638.5L234.7 632.0L239.1 627.1L242.0 624.8L244.8 623.1L250.5 621.5ZM151.0 664.4L159.6 668.5L165.4 669.5L166.3 669.3L172.3 665.3L174.0 664.7L186.4 663.9L194.1 663.9L195.0 665.5L196.9 671.0L198.9 673.7L200.8 675.4L207.4 679.1L211.3 682.6L212.3 683.2L213.2 683.2L212.3 683.2L211.3 685.5L209.0 692.1L208.6 694.6L209.4 696.8L214.5 705.1L110.0 705.1L120.2 692.1L121.8 685.6L127.7 675.1L132.8 672.1L140.5 670.4L149.1 665.1L150.6 664.5Z" fill="#f5dc28" fill-rule="evenodd" stroke="#f5dc28" stroke-width="0.3"/>
<path d="M242.0 694.6L245.8 694.9L248.7 695.7L250.6 696.9L253.5 700.3L255.3 701.1L277.4 705.1L238.4 705.1L233.0 700.3L232.2 698.6L233.3 697.3L235.3 696.3L241.8 694.6Z" fill="#fafa14" fill-rule="evenodd" stroke="#fafa14" stroke-width="0.3"/>
<path d="M32.3 524.3L38.0 523.7L61.0 523.2L69.0 524.0L73.5 526.0L81.1 533.0L86.9 537.0L94.5 539.5L99.3 540.4L106.0 540.9L112.7 540.9L120.1 540.2L129.3 538.6L145.3 533.8L165.4 531.0L202.7 533.9L224.7 534.7L239.1 536.7L242.9 536.8L245.8 536.1L260.1 530.1L265.9 528.1L267.8 527.8L270.7 528.3L280.3 532.6L294.6 535.4L319.5 535.5M32.3 527.1L41.9 526.2L59.1 526.0L63.9 526.5L67.5 528.0L70.6 530.1L78.3 538.6L84.0 542.9L87.8 544.4L91.7 545.5L102.2 546.9L113.7 546.8L129.0 545.0L145.3 540.2L166.3 537.2L187.4 537.8L225.7 541.3L242.0 543.2L244.8 543.0L260.1 538.2L267.8 536.5L270.7 536.8L279.3 539.3L283.1 539.6L295.6 541.9L313.8 541.9L315.7 541.7L319.5 540.4M32.3 529.6L38.0 528.4L44.7 528.1L54.3 528.2L61.0 529.1L63.0 530.5L67.1 535.3L77.3 551.6L80.2 553.9L82.1 554.3L85.0 554.0L89.3 552.4L93.6 551.6L110.8 551.5L129.9 549.1L145.3 545.3L149.1 544.9L166.3 541.5L186.4 542.1L206.5 543.8L242.9 548.4L260.1 545.7L267.8 545.0L279.3 546.3L294.6 547.3L311.8 547.4L314.7 546.8L319.5 544.4M32.3 532.0L39.0 530.6L47.6 530.6L54.3 531.4L57.2 532.2L59.1 533.3L62.0 536.6L68.2 548.3L69.5 552.4L70.4 559.7L71.7 563.0L73.9 565.4L80.2 569.9L84.0 571.6L86.9 572.1L90.5 571.9L93.5 571.1L102.2 567.2L106.0 566.2L107.9 564.9L112.7 560.4L120.4 556.1L125.2 555.0L129.9 554.6L145.3 551.1L149.1 550.7L165.4 546.7L187.4 546.8L242.9 552.6L260.1 550.2L266.9 549.8L270.7 550.0L280.3 551.7L311.8 551.7L314.7 551.0L319.5 548.4M32.3 535.3L37.1 535.5L39.0 536.1L40.9 537.3L46.7 542.7L49.5 544.2L54.8 545.9L55.8 546.7L57.9 551.6L59.5 559.7L61.3 563.0L65.8 567.6L71.7 575.1L75.4 579.0L79.2 581.4L84.0 582.7L88.8 582.2L94.5 580.1L105.0 574.3L108.0 571.9L125.2 562.1L129.9 561.3L145.3 556.7L149.1 556.3L165.4 552.6L187.4 553.1L206.5 554.2L221.9 555.5L242.0 556.3L260.1 554.1L267.8 553.8L281.2 556.6L295.6 555.6L312.8 555.5L314.7 554.9L319.5 552.3M32.3 546.5L36.1 547.0L38.0 548.0L42.4 553.2L46.0 560.5L47.6 563.0L49.5 564.6L57.2 569.6L59.8 571.9L69.6 585.0L74.4 590.2L79.2 593.1L82.1 594.0L85.9 594.4L88.8 594.2L92.6 593.0L97.4 590.3L103.1 585.8L107.0 583.8L125.2 575.7L129.9 574.0L146.2 563.2L164.4 559.7L186.4 559.6L204.6 560.5L242.9 560.2L260.1 558.1L266.9 557.7L270.7 558.2L279.3 561.2L281.2 561.4L295.6 558.9L313.8 558.8L315.7 558.3L319.5 556.3M32.3 560.3L36.1 559.4L37.1 559.6L38.0 560.8L39.8 565.4L40.9 566.6L49.3 570.3L56.2 575.1L61.0 580.2L68.1 593.0L72.5 598.6L76.3 602.0L81.1 605.3L85.0 607.1L87.8 607.6L91.7 606.9L97.4 604.1L107.8 595.5L111.8 593.0L117.5 587.9L119.7 586.5L125.2 584.1L129.9 582.9L145.3 574.7L165.4 567.1L184.5 566.2L207.5 566.4L244.8 564.3L260.1 562.5L266.9 562.1L269.7 562.5L279.3 565.8L281.2 566.0L283.1 565.8L295.6 562.1L314.7 562.0L316.6 561.6L319.5 560.3M32.3 578.4L37.1 575.5L38.0 575.4L38.9 576.0L41.3 579.2L48.1 586.5L53.4 594.0L55.3 595.8L60.1 598.6L62.0 600.3L64.8 603.6L68.5 609.3L74.0 615.0L78.9 619.0L83.0 621.7L85.9 622.9L88.8 623.2L91.7 622.7L95.5 621.0L104.0 614.1L108.0 608.5L111.8 605.5L117.9 597.1L121.0 594.6L125.2 592.2L129.9 591.0L145.3 582.9L164.4 576.2L184.5 573.9L214.2 573.7L222.8 572.0L265.9 568.5L269.7 568.6L281.2 570.4L283.1 570.0L295.6 564.8L311.8 564.7L316.6 565.1L319.5 564.3M32.3 701.9L35.2 694.1L38.2 684.0L50.5 637.6L51.4 636.3L52.4 635.8L56.2 635.8L58.1 634.9L63.6 628.8L65.8 627.3L69.6 626.1L73.5 626.3L77.5 628.0L89.7 634.9L101.2 637.7L103.1 637.7L104.1 637.0L107.0 632.1L108.9 629.9L109.7 629.6L109.8 628.9L110.5 628.8L110.8 628.0L113.7 625.5L114.6 625.5L116.5 624.2L123.2 617.1L125.5 611.7L128.0 601.5L129.0 600.3L132.8 598.5L144.7 597.1L148.1 596.3L164.4 585.1L167.4 584.1L183.6 581.8L206.5 580.9L215.2 580.1L222.8 578.5L244.8 577.6L282.2 573.5L295.6 567.1L311.8 567.0L317.6 568.2L319.5 568.1M47.7 705.1L51.5 682.4L60.9 656.4L62.3 654.0L68.2 649.1L70.6 644.4L72.5 642.5L74.4 641.3L77.3 640.6L80.2 640.7L89.7 645.4L98.4 647.5L106.0 646.5L111.8 644.3L120.4 641.7L123.5 640.1L127.8 636.9L131.9 632.7L134.7 628.1L137.6 620.6L141.4 613.1L142.5 611.7L146.2 608.5L150.1 606.7L163.5 603.3L167.3 601.5L173.0 597.9L175.9 596.5L198.9 588.4L203.7 587.3L219.0 585.0L243.9 584.6L260.1 581.7L268.8 580.6L279.3 577.1L283.1 576.4L295.6 569.5L312.8 569.5L319.5 571.9M63.0 705.1L66.8 681.2L68.2 666.1L68.7 665.3L69.6 664.6L73.5 663.4L75.0 659.6L76.6 657.2L78.3 655.3L80.2 654.1L84.0 653.7L92.7 655.6L98.4 656.1L101.2 655.9L107.5 654.8L111.8 652.7L121.2 649.1L129.4 645.0L133.2 642.6L147.2 630.6L156.8 626.3L166.3 620.6L178.4 614.1L180.7 612.5L185.0 608.5L193.1 603.8L202.7 596.7L204.6 595.8L222.8 591.2L244.8 589.6L269.7 585.4L279.3 581.6L283.1 580.8L287.0 578.2L295.4 573.5L297.5 573.0L312.8 573.0L314.7 574.0L319.5 579.3M75.3 705.1L74.5 693.8L75.2 673.5L76.3 672.2L79.2 671.8L80.2 671.0L84.0 664.7L86.9 662.4L88.8 661.9L91.7 661.9L93.6 662.4L99.3 665.1L105.1 666.2L111.2 661.3L118.6 657.2L127.1 654.0L132.9 652.3L146.2 645.5L154.8 643.9L164.1 639.3L169.2 636.5L177.8 630.5L185.7 627.1L188.6 625.5L201.8 615.1L222.8 601.9L242.0 598.6L264.9 595.4L271.6 593.8L280.3 591.2L283.9 590.6L296.5 589.1L312.8 589.2L319.5 588.5M84.9 705.1L82.5 680.0L82.8 678.3L85.0 673.9L85.9 672.3L87.8 670.5L89.7 669.6L90.7 669.6L92.6 670.5L94.0 671.8L95.2 674.3L96.4 678.3L98.2 687.3L100.6 688.9L100.4 690.5L97.7 696.2L97.4 698.0L98.3 698.6L99.3 698.6L106.0 697.1L108.9 694.6L111.4 691.3L112.0 689.7L111.3 688.1L107.5 684.8L107.1 684.0L107.0 682.4L107.9 679.2L109.6 675.9L114.6 668.6L118.5 664.6L122.3 662.6L129.0 661.1L137.6 658.2L146.2 653.6L157.7 652.7L168.2 649.5L174.0 646.9L179.7 643.4L186.4 641.2L196.7 635.3L205.1 629.6L218.0 617.4L222.8 612.3L224.7 611.1L236.2 607.6L243.5 606.0L249.6 605.6L263.0 605.7L275.5 605.0L279.2 605.2L282.9 606.0L286.4 607.6L292.7 611.7L293.7 611.7L300.4 608.5L313.8 607.8L319.5 604.7M110.0 705.1L120.2 692.1L121.8 685.6L127.1 675.8L131.5 672.6L133.8 671.8L140.5 670.4L149.1 665.1L151.0 664.4L159.6 668.5L165.4 669.5L166.3 669.3L172.3 665.3L174.0 664.7L192.2 663.8L194.1 663.9L194.6 664.5L196.9 671.0L199.8 674.6L207.4 679.1L211.3 682.6L212.3 683.2L213.2 683.2L212.3 683.2L211.3 685.5L209.0 692.1L208.6 694.6L209.4 696.8L214.5 705.1M219.6 705.1L219.8 702.7L222.8 695.2L223.1 691.3L222.8 688.8L221.9 686.8L220.1 684.8L219.9 684.3L219.2 684.0L219.0 681.6L219.2 680.8L222.8 677.0L224.7 674.2L228.5 660.5L228.4 657.2L226.7 650.7L226.6 645.8L227.6 645.0L227.6 643.4L228.6 642.6L228.9 640.1L232.8 634.5L238.3 628.0L242.0 624.8L245.8 622.6L250.5 621.5L257.3 620.8L262.1 621.5L270.7 624.6L281.2 630.5L288.9 637.2L290.8 638.2L297.5 637.8L309.9 634.0L319.5 634.9M238.4 705.1L233.0 700.3L232.2 698.6L233.3 697.3L235.3 696.3L242.0 694.6L245.8 694.9L248.7 695.7L250.6 696.9L253.5 700.3L255.3 701.1L277.4 705.1" fill="none" stroke="#0a0a0a" stroke-width="0.5" stroke-linejoin="round"/>
</g>
<path d="M31.3 518.3 L37.5 518.3 L37.5 568.0 L41.9 571.8 L41.9 609.9 L45.7 615.7 L45.7 634.7 L48.9 644.2 L48.8 641.8 L53.8 652.9 L57.8 653.9 L60.8 662.9 L60.8 670.9 L79.9 670.9 L82.9 680.6 L103.0 680.6 L107.0 691.0 L113.0 680.6 L117.0 680.6 L121.1 691.0 L144.1 691.0 L149.2 681.0 L155.2 680.6 L158.6 671.9 L163.2 680.6 L170.2 681.0 L175.3 690.6 L185.7 691.0 L187.7 691.0 L226.9 691.0 L230.9 702.1 L231.5 713.1 L253.6 713.1 L254.0 702.1 L258.0 691.0 L262.0 691.0 L265.0 702.1 L265.4 713.1 L268.6 713.1 L269.1 702.1 L274.1 693.0 L278.1 687.0 L281.1 673.0 L284.1 652.9 L288.1 640.8 L290.9 634.7 L296.3 619.5 L296.3 606.1 L300.5 600.4 L301.4 577.6 L303.3 573.8 L303.3 531.8 L310.9 526.1 L310.9 518.3 L320.5 518.3 L320.5 711.6 L31.3 711.6Z" fill="#cbcbcb" clip-path="url(#cpe)"/>
<path d="M302.8 570.7H186.0Q183.8 570.7 183.8 572.9V690.8M183.8 613.5Q183.8 616.7 187.0 616.7H296.3" fill="none" stroke="#000" stroke-width="1.5"/>
<path d="M68.6 519.8 L68.8 520.4 L69.2 521.2 L69.7 522.2 L70.5 523.3 L71.4 524.5 L72.6 525.8 L73.9 527.3 L75.2 529.0 L76.6 531.0 L78.0 533.2 L79.5 535.4 L80.9 537.6 L82.4 539.6 L83.9 541.6 L85.3 543.5 L86.7 545.2 L88.0 546.6 L89.2 547.9 L90.4 549.0 L91.4 549.9 L92.3 550.6 L93.1 551.0 L93.8 551.3 L94.3 551.5M114.3 553.8 L116.4 553.6 L119.5 553.4 L122.8 553.2 L125.7 552.8 L127.7 552.2 L129.4 551.5 L131.1 550.8 L133.3 550.1 L136.3 549.4 L139.8 548.9 L143.5 548.3 L147.1 547.9 L150.6 547.5 L154.0 547.1 L157.5 546.9 L160.9 546.8 L164.4 546.8 L167.8 547.0 L171.3 547.2 L174.7 547.3 L178.2 547.4 L181.6 547.4 L185.1 547.4 L188.5 547.3 L192.0 547.1 L195.4 546.9 L198.9 546.6 L202.3 546.5 L205.8 546.4 L209.2 546.3 L212.7 546.4 L216.1 546.5 L219.6 546.7 L223.2 547.1 L226.7 547.5 L229.9 547.9 L232.9 548.3 L235.8 548.9 L238.5 549.3 L241.0 549.5 L243.2 549.4 L245.3 549.1 L247.2 548.6 L249.2 548.1 L251.3 547.5 L253.4 546.8 L255.4 546.1 L257.5 545.4 L259.5 544.6 L261.5 543.9 L263.5 543.2 L265.8 542.6 L268.3 542.1 L271.0 541.7 L273.8 541.4 L276.8 541.2 L280.1 541.1 L283.7 541.1 L287.2 541.2 L290.6 541.2 L294.1 541.3 L297.7 541.5 L300.9 541.7 L303.1 541.8M38.1 525.8 L39.3 525.6 L40.9 525.4 L42.9 525.2 L44.7 525.0 L46.7 524.8 L48.9 524.6 L50.8 524.3 L52.4 523.8 L53.3 523.0 L53.8 521.8 L54.1 520.6 L54.3 519.8M54.3 519.8 L54.3 521.0 L54.3 522.7 L54.4 524.5 L54.5 526.1 L54.6 527.5 L54.7 528.9 L54.8 530.1 L55.0 531.1 L55.3 531.7 L55.5 532.2 L55.9 532.4 L56.2 532.6 L56.5 532.8 L56.9 532.8 L57.4 532.8 L57.7 532.6 L58.0 532.3 L58.2 531.8 L58.4 531.1 L58.7 530.3 L58.9 529.2 L59.1 527.9 L59.2 526.5 L59.4 525.2 L59.6 523.7 L59.7 522.2 L59.9 520.8 L60.0 519.8M52.4 524.2 L54.0 524.3 L56.4 524.3 L58.9 524.5 L60.9 525.2 L62.4 526.3 L63.5 527.7 L64.5 529.6 L65.7 531.8 L67.1 534.7 L68.5 538.2 L70.0 541.8 L71.4 545.2 L72.8 548.4 L74.3 551.6 L75.7 554.7 L77.1 557.6 L78.6 560.3 L80.2 563.0 L81.7 565.3 L82.8 567.1 L83.6 568.1 L84.2 568.4 L84.5 568.5 L84.7 568.6M102.8 573.0 L105.7 572.8 L109.8 572.5 L114.1 572.1 L117.1 571.8 L118.3 571.6 L118.3 571.3 L118.4 571.1 L119.5 570.8 L121.8 570.6 L124.8 570.3 L128.6 570.1 L133.3 570.0 L139.3 569.9 L146.5 569.9 L154.0 569.9 L160.9 570.0 L167.2 570.1 L173.2 570.3 L179.0 570.4 L184.4 570.5 L189.3 570.6 L193.9 570.6 L198.2 570.6 L202.3 570.5 L206.1 570.4 L209.5 570.3 L212.8 570.1 L216.1 570.0 L219.6 570.0 L223.2 570.0 L226.7 570.0 L229.9 570.0 L232.9 569.8 L235.6 569.6 L238.3 569.5 L241.0 569.4 L243.7 569.6 L246.5 570.0 L249.2 570.3 L252.0 570.5 L254.7 570.5 L257.3 570.4 L260.1 570.2 L263.0 570.0 L266.2 569.9 L269.6 569.7 L273.1 569.6 L276.8 569.4 L280.9 569.2 L285.4 569.0 L289.7 568.8 L293.4 568.6 L296.5 568.5 L299.3 568.6 L301.5 568.6 L303.1 568.6M38.1 526.5 L38.8 526.7 L39.8 527.0 L40.9 527.4 L41.9 528.0 L42.6 529.0 L43.3 530.1 L43.9 531.4 L44.7 532.8 L45.7 534.4 L46.8 536.1 L48.1 537.8 L49.5 539.5 L51.2 540.7 L53.2 541.7 L55.2 543.0 L57.1 545.2 L58.8 548.7 L60.5 553.0 L62.1 557.8 L63.8 562.3 L65.6 566.7 L67.5 571.0 L69.5 575.3 L71.4 579.5 L73.4 583.6 L75.3 587.7 L77.3 591.5 L79.0 594.7 L80.7 597.1 L82.4 599.0 L83.8 600.4 L84.7 601.4M105.7 616.6 L107.7 617.4 L110.5 618.6 L113.4 619.7 L115.2 620.4 L115.4 620.3 L114.7 619.8 L113.9 619.2 L114.0 619.1 L115.4 619.5 L117.5 620.3 L120.0 621.1 L122.3 621.8 L124.3 622.2 L126.4 622.4 L128.5 622.7 L130.5 623.2 L132.5 624.1 L134.5 625.3 L136.6 626.4 L138.8 627.4 L141.4 628.0 L144.2 628.5 L147.0 628.7 L149.9 628.7 L152.6 628.4 L155.4 627.8 L158.1 626.9 L160.9 626.0 L163.7 624.8 L166.6 623.4 L169.4 622.1 L171.9 621.0 L174.3 620.3 L176.5 619.8 L178.5 619.4 L180.2 619.1 L181.5 618.7 L182.4 618.3 L183.2 618.1 L184.4 618.2 L185.8 618.9 L187.4 619.9 L189.2 621.0 L191.3 621.8 L193.7 622.5 L196.5 623.0 L199.5 623.3 L202.3 623.2 L205.1 622.6 L208.0 621.5 L210.8 620.3 L213.4 619.1 L215.7 617.9 L217.8 616.6 L219.7 615.4 L221.6 614.4 L223.5 613.5 L225.2 612.8 L226.8 612.3 L228.5 612.2 L230.2 612.5 L231.9 613.2 L233.6 614.1 L235.4 614.9 L237.3 615.8 L239.3 616.7 L241.4 617.5 L243.7 618.2 L246.3 618.8 L249.1 619.3 L251.9 619.7 L254.8 619.9 L257.5 619.9 L260.3 619.6 L263.0 619.3 L265.8 619.1 L268.6 618.9 L271.5 618.7 L274.3 618.5 L276.8 618.2 L279.2 617.9 L281.3 617.5 L283.3 617.0 L285.1 616.3 L286.7 615.3 L288.1 614.1 L289.4 613.0 L290.6 612.2 L291.9 611.9 L293.1 611.9 L294.1 612.1 L294.8 612.2M38.1 527.1 L39.0 527.3 L40.3 527.5 L41.7 528.0 L42.8 529.0 L43.5 530.6 L44.0 532.7 L44.4 535.1 L44.7 537.6 L44.8 540.1 L44.7 542.8 L44.8 545.5 L45.7 548.0 L47.7 550.1 L50.5 551.9 L53.5 553.9 L56.2 556.6 L58.3 560.2 L60.2 564.5 L62.0 569.1 L63.8 573.8 L65.7 578.4 L67.6 583.3 L69.5 588.1 L71.4 592.8 L73.3 597.3 L75.2 601.8 L77.1 606.0 L79.0 609.9 L81.1 613.8 L83.3 617.5 L85.3 620.7 L86.7 622.9M106.7 633.2 L108.8 634.5 L111.9 636.4 L115.0 638.3 L117.1 639.5 L117.5 639.6 L116.9 639.0 L116.3 638.4 L116.7 638.4 L118.8 639.4 L121.7 640.9 L124.9 642.6 L127.8 643.9 L130.0 644.7 L131.9 645.2 L133.9 645.8 L136.1 646.7 L138.6 648.2 L141.2 650.2 L144.1 652.0 L147.1 653.0 L150.4 653.1 L154.0 652.5 L157.6 651.6 L160.9 650.8 L163.8 650.0 L166.5 649.0 L169.2 648.1 L171.9 647.5 L175.0 647.2 L178.1 647.1 L181.2 647.2 L184.4 647.5 L187.4 648.1 L190.5 648.9 L193.6 649.9 L196.8 650.8 L200.3 651.9 L204.0 653.0 L207.5 654.1 L210.6 655.0 L213.1 655.5 L215.1 655.8 L216.9 655.9 L218.9 655.8 L221.0 655.3 L223.2 654.5 L225.3 653.7 L227.2 653.0 L228.6 652.5 L229.8 652.0 L230.9 651.8 L232.1 652.2 L233.5 653.3 L235.0 655.1 L236.5 657.1 L238.2 659.1 L240.1 661.1 L242.2 663.2 L244.4 665.3 L246.5 667.4 L248.6 669.6 L250.8 671.8 L252.9 673.9 L254.8 675.7 L256.3 676.9 L257.7 677.9 L259.0 678.6 L260.3 679.0 L261.6 678.9 L262.9 678.4 L264.1 677.9 L265.2 677.9 L266.2 678.5 L267.1 679.4 L267.9 680.6 L268.6 681.7 L268.9 683.0 L269.1 684.4 L269.4 685.7 L269.9 686.7 L271.1 687.2 L272.6 687.5 L274.2 687.5 L275.5 687.3 L276.4 686.7 L277.1 685.9 L277.7 684.9 L278.2 683.9 L278.8 682.9 L279.4 681.7 L279.8 680.6 L280.2 679.8M263.0 695.5 L264.1 694.7 L265.6 693.5 L267.2 692.3 L268.6 691.7 L269.5 691.8 L270.3 692.4 L270.9 693.1 L271.3 693.6" fill="none" stroke="#ff00ff" stroke-width="1.5" stroke-linejoin="round" stroke-linecap="round" clip-path="url(#cpe)"/>
<text transform="translate(103.8 553.2) rotate(8)" text-anchor="middle" font-size="8.3" fill="#fff" dy="3">27.4</text>
<text transform="translate(92.7 572.2) rotate(14)" text-anchor="middle" font-size="8.3" fill="#fff" dy="3">27.8</text>
<text transform="translate(93.7 610.3) rotate(30)" text-anchor="middle" font-size="8.3" fill="#fff" dy="3">28.04</text>
<text transform="translate(95.8 629.0) rotate(22)" text-anchor="middle" font-size="8.3" fill="#fff" dy="3">28.1</text>
<rect x="32.3" y="519.9" width="287.3" height="182.2" fill="none" stroke="#555" stroke-width="0.6"/>
<text x="31.7" y="717.6" text-anchor="middle" font-size="11">-80</text>
<text x="70.0" y="717.6" text-anchor="middle" font-size="11">-60</text>
<text x="108.3" y="717.6" text-anchor="middle" font-size="11">-40</text>
<text x="146.6" y="717.6" text-anchor="middle" font-size="11">-20</text>
<text x="184.9" y="717.6" text-anchor="middle" font-size="11">0</text>
<text x="223.2" y="717.6" text-anchor="middle" font-size="11">20</text>
<text x="261.5" y="717.6" text-anchor="middle" font-size="11">40</text>
<text x="299.8" y="717.6" text-anchor="middle" font-size="11">60</text>
<text x="27.5" y="524.3" text-anchor="end" font-size="11">0</text>
<text x="27.5" y="556.8" text-anchor="end" font-size="11">1</text>
<text x="27.5" y="589.3" text-anchor="end" font-size="11">2</text>
<text x="27.5" y="621.8" text-anchor="end" font-size="11">3</text>
<text x="27.5" y="654.3" text-anchor="end" font-size="11">4</text>
<text x="27.5" y="686.8" text-anchor="end" font-size="11">5</text>
<path d="M32.3 702.1v-2.9M32.3 519.9v2.9M70.6 702.1v-2.9M70.6 519.9v2.9M108.9 702.1v-2.9M108.9 519.9v2.9M147.2 702.1v-2.9M147.2 519.9v2.9M185.5 702.1v-2.9M185.5 519.9v2.9M223.8 702.1v-2.9M223.8 519.9v2.9M262.1 702.1v-2.9M262.1 519.9v2.9M300.4 702.1v-2.9M300.4 519.9v2.9M32.3 519.9h2.9M319.6 519.9h-2.9M32.3 536.1h2.9M319.6 536.1h-2.9M32.3 552.4h2.9M319.6 552.4h-2.9M32.3 568.6h2.9M319.6 568.6h-2.9M32.3 584.9h2.9M319.6 584.9h-2.9M32.3 601.1h2.9M319.6 601.1h-2.9M32.3 617.4h2.9M319.6 617.4h-2.9M32.3 633.6h2.9M319.6 633.6h-2.9M32.3 649.9h2.9M319.6 649.9h-2.9M32.3 666.1h2.9M319.6 666.1h-2.9M32.3 682.4h2.9M319.6 682.4h-2.9M32.3 698.6h2.9M319.6 698.6h-2.9" stroke="#555" stroke-width="0.6" fill="none"/>
<text x="175.9" y="732.5" text-anchor="middle" font-size="12.5">latitude [deg. N]</text>
<text transform="translate(16.7 611.0) rotate(-90)" text-anchor="middle" font-size="12.5">depth [km]</text>
</g>
<g id="panel-f">
<rect x="456.6" y="519.9" width="287.3" height="182.2" fill="#f6f6f6"/>
<g clip-path="url(#cpf)">
<path d="M457.6 519.9L484.0 519.9L483.9 537.0L484.9 541.0L485.1 550.0L492.0 566.2L500.1 579.2L504.9 589.0L511.7 597.9L513.1 598.9L517.1 600.3L521.7 604.3L524.6 605.9L528.4 609.0L536.1 610.8L542.8 610.3L545.6 610.6L558.1 618.2L560.0 618.8L566.7 617.6L575.3 613.0L586.8 610.8L588.0 611.7L588.2 616.6L588.7 617.5L589.7 617.9L600.2 617.6L602.7 616.6L606.9 614.4L608.2 612.5L608.1 606.0L608.6 597.9L608.4 595.5L607.9 594.6L605.9 594.0L603.1 594.0L600.2 593.5L592.5 593.8L588.7 595.7L586.5 597.9L585.8 598.7L584.1 602.8L583.0 604.1L579.1 605.6L578.2 605.5L577.2 604.6L571.0 594.6L563.8 590.6L559.0 590.9L551.4 592.5L541.8 592.8L527.4 591.1L524.6 590.3L517.9 590.7L516.9 589.9L516.0 587.3L512.1 580.8L511.2 578.6L511.3 577.6L516.0 572.8L522.7 571.5L524.0 570.3L523.4 569.5L517.7 566.2L513.9 558.9L513.5 550.0L515.0 546.1L516.9 543.6L517.9 543.8L518.3 548.3L518.8 549.2L520.7 549.7L531.3 548.8L538.9 547.2L542.8 547.0L543.7 546.7L544.3 545.9L541.8 544.9L536.1 543.8L529.4 543.7L518.1 541.8L516.3 538.6L516.0 537.0L516.9 535.8L518.7 534.5L527.4 534.0L544.7 537.3L548.5 537.3L551.4 538.0L557.1 538.1L560.0 538.9L565.7 539.2L566.9 540.2L566.4 541.0L564.8 541.9L559.0 543.8L552.3 544.8L550.4 545.9L552.3 546.5L560.0 546.5L562.9 547.3L588.7 546.9L592.5 546.2L605.9 546.5L607.9 546.0L609.8 544.1L611.7 544.1L616.5 545.1L624.1 544.4L624.3 543.5L622.2 542.3L614.6 541.3L607.9 539.8L592.5 539.8L585.8 541.4L583.9 541.2L581.3 540.2L581.3 539.4L583.4 537.8L587.8 535.9L597.3 533.7L600.2 533.5L603.1 532.7L606.9 532.5L611.7 531.1L615.5 531.2L618.4 531.8L631.8 532.2L635.6 533.5L644.2 537.5L654.8 540.1L667.2 543.8L670.1 544.0L684.4 539.0L700.7 532.8L703.6 532.4L712.2 532.5L733.3 538.1L736.1 538.3L739.0 539.2L740.9 539.2L742.1 538.6L742.5 537.0L742.3 519.9L743.8 519.9L743.8 705.1L688.9 705.1L689.8 701.9L692.0 690.5L694.4 687.3L698.8 683.1L705.0 671.8L707.8 659.6L707.9 657.2L708.7 654.8L708.7 652.3L707.9 649.1L708.1 643.4L707.3 641.0L705.9 631.2L704.9 629.6L703.6 629.0L695.9 630.4L689.7 628.8L686.4 627.4L684.4 627.2L680.6 627.5L669.1 630.0L667.2 630.8L660.2 635.3L659.3 636.9L659.1 641.0L659.2 643.4L660.0 645.8L660.0 648.3L658.1 651.5L656.5 655.6L656.8 660.5L656.0 664.5L655.7 672.2L657.3 677.5L658.2 679.1L661.8 683.2L665.4 686.5L669.0 690.5L672.1 697.0L675.3 705.1L456.6 705.1L456.6 519.9ZM462.5 532.1L461.7 533.7L461.5 538.6L462.1 567.0L461.4 579.2L462.1 589.0L461.6 601.1L461.9 628.0L461.5 641.0L462.3 662.1L461.7 670.2L462.3 671.2L464.3 671.7L475.7 671.3L496.8 671.5L497.9 671.0L498.2 670.2L497.9 668.6L493.0 657.2L487.9 647.5L486.2 642.6L482.3 631.2L480.2 622.3L480.1 619.8L479.3 617.4L479.1 615.0L478.2 612.5L478.1 590.6L477.3 587.3L477.4 574.3L476.6 566.2L477.1 564.6L479.1 561.3L478.9 535.3L477.7 533.7L476.7 533.4L473.8 533.3L469.0 534.2L463.3 531.9ZM613.1 534.5L608.8 535.2L607.6 536.1L607.7 537.0L609.8 538.6L617.4 539.8L625.1 539.8L628.0 540.6L629.9 540.5L634.7 538.8L636.0 537.8L635.6 536.8L633.7 535.8L631.8 535.2L628.0 535.0L624.1 534.1L613.6 534.4ZM710.0 537.8L704.6 539.1L697.9 540.0L686.0 545.1L678.7 547.3L673.0 549.8L669.1 551.9L666.2 554.8L665.7 556.5L666.6 558.1L669.1 560.1L673.0 561.2L677.7 561.3L680.6 561.9L687.3 561.9L690.2 562.7L696.9 562.8L699.8 563.4L713.2 563.7L716.0 564.6L719.9 564.7L730.4 567.5L731.4 567.0L732.2 565.4L733.1 558.1L732.7 544.3L731.5 539.4L730.4 538.7L725.6 538.1L715.1 538.1L712.2 537.5L710.3 537.6ZM527.5 553.2L523.6 553.8L518.8 558.1L518.6 559.7L519.3 562.1L520.7 564.8L529.4 568.7L534.1 569.0L537.0 569.7L540.8 569.8L544.7 570.6L547.5 570.8L550.4 570.1L556.2 569.7L565.7 569.8L568.6 570.0L571.5 570.8L578.2 570.8L581.1 571.3L588.6 571.9L588.0 573.5L587.2 574.3L583.9 574.8L580.1 576.1L572.4 580.6L571.7 581.6L571.7 582.5L574.4 585.1L583.0 589.5L586.8 590.3L588.7 591.1L607.3 591.4L608.8 592.7L613.1 598.7L619.3 604.1L621.3 604.9L630.8 604.6L633.7 605.0L636.0 606.8L638.5 610.0L643.3 614.3L645.2 615.4L647.1 615.2L652.9 613.2L657.6 612.3L659.6 612.7L662.4 614.0L674.9 617.2L695.0 617.0L705.5 614.5L711.3 611.4L725.6 604.9L729.2 602.8L729.8 602.0L730.2 585.7L730.0 575.1L729.4 573.2L728.5 573.2L722.7 577.1L718.0 579.9L707.4 583.6L702.6 584.7L698.8 584.6L691.2 586.0L687.3 586.1L676.8 588.5L668.2 586.6L660.5 585.8L650.9 580.7L643.3 579.0L631.8 582.0L625.1 580.5L621.3 580.1L620.1 579.2L619.0 577.6L617.1 573.5L615.5 572.4L591.4 571.9L592.2 571.1L595.4 570.4L595.5 569.5L591.6 565.4L587.8 563.5L584.9 562.7L576.3 562.7L569.6 557.7L560.0 553.4L553.3 552.8L543.7 552.6L528.4 552.9ZM629.6 553.2L626.1 553.8L622.6 556.5L617.4 559.1L614.6 559.3L611.7 558.6L605.9 558.6L600.2 559.6L598.9 560.5L598.9 561.3L599.6 562.1L607.9 562.6L612.6 563.7L618.4 568.4L620.3 569.1L630.8 569.1L633.7 568.4L638.5 568.1L641.4 567.4L647.1 567.4L650.0 567.0L656.7 569.8L661.5 570.0L664.3 570.6L665.3 570.3L667.5 568.6L668.0 567.8L667.6 567.0L662.4 566.6L657.6 565.4L653.8 563.9L651.4 562.1L647.7 557.3L646.2 556.1L636.6 553.0L631.8 552.7L629.9 553.1ZM659.5 571.9L659.5 572.7L660.2 573.5L664.3 577.1L667.2 578.3L668.2 578.4L669.1 577.9L669.5 574.3L668.9 572.7L661.5 571.4L659.6 571.8ZM702.3 571.9L700.7 572.3L695.0 572.5L686.4 575.4L685.5 576.0L685.3 576.8L686.6 578.4L688.3 579.6L691.2 579.9L699.8 577.8L706.5 575.7L709.1 574.3L709.6 573.5L709.1 572.7L707.4 571.6L706.5 571.4L702.6 571.8ZM544.4 576.0L536.1 577.5L536.1 578.5L538.9 579.4L551.4 579.5L556.2 578.4L557.4 577.6L557.6 576.8L556.2 575.7L544.7 575.9ZM624.6 606.8L622.2 607.5L621.1 608.5L620.7 610.1L620.6 619.0L620.3 620.6L614.9 628.8L613.4 632.0L613.4 632.8L616.0 636.1L618.3 637.7L619.3 638.0L627.0 637.3L630.8 636.3L635.7 633.6L637.0 632.0L637.8 623.1L637.6 621.5L636.4 618.2L636.1 613.3L634.8 608.5L633.7 607.4L628.9 606.4L625.1 606.7ZM541.3 611.7L537.0 612.5L535.3 613.3L528.1 621.5L522.5 630.4L521.9 635.3L522.1 637.7L526.5 641.3L530.3 643.5L537.0 645.1L540.8 647.8L545.6 650.2L551.4 650.7L560.0 650.2L570.5 653.3L573.4 652.4L579.1 647.8L583.9 645.7L585.9 644.2L587.0 642.6L589.1 636.9L588.9 635.3L587.9 632.8L579.2 624.7L574.4 618.3L573.4 617.6L571.5 617.2L570.5 617.4L562.9 622.0L557.1 621.2L555.2 620.4L551.4 616.6L546.6 612.8L543.7 611.7L541.8 611.7ZM513.2 614.1L512.9 615.0L513.2 615.8L514.5 618.2L516.9 620.6L518.0 620.6L518.8 619.9L519.1 619.0L518.1 616.6L516.0 613.7L515.0 613.4L514.0 613.6ZM644.1 617.4L643.7 618.2L644.5 622.3L648.1 624.7L650.0 624.8L655.7 623.1L657.2 619.8L657.4 618.2L656.7 617.1L646.2 616.9L644.2 617.3ZM665.5 618.2L665.3 619.0L666.3 620.2L668.2 620.9L669.1 620.6L670.2 619.0L669.9 618.2L669.1 617.8L666.3 617.8ZM498.3 622.3L494.3 624.7L491.7 629.6L491.4 633.6L492.2 636.1L492.6 641.0L494.7 647.5L498.3 656.4L505.0 666.1L509.3 669.8L510.2 669.9L511.2 669.5L518.8 663.5L524.6 662.3L535.1 663.5L544.7 662.1L548.5 662.5L554.2 663.8L559.7 662.1L560.3 660.5L559.5 658.8L557.1 657.1L552.3 654.9L551.4 654.7L543.7 655.8L538.9 656.0L532.2 655.0L528.4 653.8L517.9 648.4L514.8 645.0L511.2 642.0L510.0 640.1L508.0 632.8L507.7 630.4L506.4 627.3L501.6 621.9L500.6 621.6L498.7 622.0ZM598.8 630.4L596.4 631.0L595.8 632.0L595.5 634.5L596.6 636.1L599.2 636.7L606.9 636.4L608.0 636.1L609.2 634.5L609.5 633.6L608.8 632.4L604.0 630.2L601.2 629.9L599.2 630.3ZM596.1 638.5L591.6 641.4L585.8 646.4L581.1 648.2L579.1 649.6L578.7 652.3L579.8 658.0L582.0 659.2L585.8 659.8L595.4 655.6L596.7 656.4L596.9 658.8L597.9 660.5L603.8 662.9L609.8 663.3L615.5 662.3L616.2 661.3L616.1 659.6L611.7 649.0L611.6 647.5L612.4 644.2L612.1 643.4L608.8 641.3L608.3 638.5L605.9 637.8L597.3 638.0L596.4 638.4ZM635.4 640.1L631.8 640.5L626.1 642.3L623.2 643.7L621.7 645.0L621.4 646.6L621.7 654.8L624.5 662.1L625.5 666.1L625.3 670.2L624.3 673.5L623.2 674.1L617.4 671.4L609.3 669.4L608.7 668.6L608.4 665.3L606.9 664.5L603.1 664.3L600.2 664.9L595.4 664.9L592.5 665.5L587.8 665.6L584.9 666.5L581.1 666.6L578.2 667.2L570.5 667.0L564.8 667.4L561.9 666.6L556.2 666.3L546.6 664.6L537.0 665.1L534.1 665.7L528.4 665.8L522.7 667.2L516.0 668.2L511.2 671.2L506.4 673.6L505.4 674.6L505.0 675.9L506.3 679.1L508.2 681.6L514.0 685.6L519.8 690.9L522.7 692.7L527.6 697.0L530.3 698.1L542.8 698.3L545.6 697.8L552.3 697.7L561.0 697.8L564.8 698.3L569.6 698.1L574.4 697.2L585.8 697.2L594.5 698.2L605.0 698.3L618.4 697.9L629.9 698.6L636.6 698.4L640.4 697.4L647.1 697.3L648.4 696.2L649.4 692.1L649.5 684.8L650.4 682.4L650.7 679.1L654.2 672.6L654.8 663.7L655.6 660.5L655.4 657.2L654.8 655.9L652.9 653.5L651.8 650.7L651.3 646.6L650.1 643.4L649.2 642.6L643.3 639.8L638.5 639.4L635.6 640.1ZM526.5 671.0L528.4 670.4L537.0 670.6L539.9 671.4L544.7 671.6L551.4 673.2L553.3 674.3L552.7 675.1L548.5 676.9L545.6 677.0L542.8 676.2L535.1 676.2L531.3 676.3L528.4 677.0L525.5 676.8L519.8 674.5L519.0 673.5L520.1 672.6L526.3 671.0Z" fill="#fddbc7" fill-rule="evenodd" stroke="#fddbc7" stroke-width="0.3"/>
<path d="M463.3 531.9L469.0 534.2L473.8 533.3L476.7 533.4L477.7 533.7L478.9 535.3L479.1 561.3L477.1 564.6L476.6 566.2L477.4 574.3L477.3 587.3L478.1 590.6L478.2 612.5L479.1 615.0L479.3 617.4L480.1 619.8L480.2 622.3L482.3 631.2L486.2 642.6L487.9 647.5L493.0 657.2L497.9 668.6L498.2 670.2L497.9 671.0L496.8 671.5L475.7 671.3L464.3 671.7L462.3 671.2L461.7 670.2L462.3 662.1L461.5 641.0L461.9 628.0L461.6 601.1L462.1 589.0L461.4 579.2L462.1 567.0L461.5 538.6L461.7 533.7L462.5 532.1ZM613.6 534.4L624.1 534.1L628.0 535.0L631.8 535.2L633.7 535.8L635.6 536.8L636.0 537.8L634.7 538.8L629.9 540.5L628.0 540.6L625.1 539.8L617.4 539.8L609.8 538.6L607.7 537.0L607.6 536.1L608.8 535.2L613.1 534.5ZM710.3 537.6L712.2 537.5L715.1 538.1L725.6 538.1L730.4 538.7L731.5 539.4L732.7 544.3L733.1 558.1L732.2 565.4L731.4 567.0L730.4 567.5L719.9 564.7L716.0 564.6L713.2 563.7L699.8 563.4L696.9 562.8L690.2 562.7L687.3 561.9L680.6 561.9L677.7 561.3L673.0 561.2L669.1 560.1L666.6 558.1L665.7 556.5L666.2 554.8L669.1 551.9L673.0 549.8L678.7 547.3L686.0 545.1L697.9 540.0L704.6 539.1L710.0 537.8ZM709.2 541.0L700.7 542.5L678.7 549.9L672.7 554.0L672.3 554.8L673.2 556.5L674.9 557.8L675.8 558.0L680.6 558.1L694.0 560.4L697.9 560.4L700.7 561.0L711.3 561.1L716.0 560.4L730.4 564.5L731.4 562.7L732.1 558.1L732.1 549.1L731.2 542.6L730.4 541.8L729.4 541.5L725.6 541.2L721.8 540.4L709.3 541.0ZM528.4 552.9L543.7 552.6L553.3 552.8L560.0 553.4L569.6 557.7L576.3 562.7L584.9 562.7L587.8 563.5L591.6 565.4L595.5 569.5L595.4 570.4L592.2 571.1L591.4 571.9L615.5 572.4L617.1 573.5L619.0 577.6L620.1 579.2L621.3 580.1L625.1 580.5L631.8 582.0L643.3 579.0L650.9 580.7L660.5 585.8L668.2 586.6L676.8 588.5L687.3 586.1L691.2 586.0L698.8 584.6L702.6 584.7L707.4 583.6L718.0 579.9L722.7 577.1L728.5 573.2L729.4 573.2L730.0 575.1L730.2 585.7L729.8 602.0L729.2 602.8L725.6 604.9L711.3 611.4L705.5 614.5L695.0 617.0L674.9 617.2L662.4 614.0L659.6 612.7L657.6 612.3L652.9 613.2L647.1 615.2L645.2 615.4L643.3 614.3L638.5 610.0L636.0 606.8L633.7 605.0L630.8 604.6L621.3 604.9L619.3 604.1L613.1 598.7L608.8 592.7L607.3 591.4L588.7 591.1L586.8 590.3L583.0 589.5L574.4 585.1L571.7 582.5L571.7 581.6L572.4 580.6L580.1 576.1L583.9 574.8L587.2 574.3L588.0 573.5L588.6 571.9L581.1 571.3L578.2 570.8L571.5 570.8L568.6 570.0L565.7 569.8L556.2 569.7L550.4 570.1L547.5 570.8L544.7 570.6L540.8 569.8L537.0 569.7L534.1 569.0L529.4 568.7L520.7 564.8L519.3 562.1L518.6 559.7L518.8 558.1L523.6 553.8L527.5 553.2ZM534.0 554.8L529.4 555.6L526.5 558.4L525.7 559.7L525.9 561.3L527.4 563.3L529.4 564.6L538.0 566.6L551.4 566.9L554.2 566.7L557.1 565.9L561.0 565.6L564.8 564.8L565.7 564.2L567.7 562.1L568.3 560.5L567.5 558.9L561.9 555.6L559.0 554.9L553.3 554.5L537.0 554.3L534.1 554.8ZM578.0 564.6L577.0 565.4L577.0 566.2L578.9 568.6L580.1 569.7L585.8 570.1L589.7 569.8L591.0 568.6L591.3 567.8L590.6 566.6L588.6 565.4L583.9 564.0L578.2 564.5ZM583.9 578.4L580.4 580.8L579.2 582.5L580.4 584.9L583.9 588.1L588.7 588.8L590.6 588.7L591.6 588.3L593.5 586.5L596.8 585.7L597.6 584.9L597.7 584.1L596.4 579.8L593.5 579.7L590.6 578.8L585.8 578.1L583.9 578.4ZM614.6 584.9L610.7 586.8L610.1 588.1L610.2 589.0L611.1 590.6L612.6 591.9L616.5 591.9L618.7 589.8L618.7 588.1L617.9 586.5L616.5 585.0L615.5 584.7L614.6 584.9ZM643.0 587.3L640.4 587.9L636.0 589.8L631.8 593.0L631.7 594.6L632.8 597.4L633.7 598.7L636.1 600.3L649.0 605.9L650.9 606.3L658.6 604.8L663.1 597.9L664.3 597.3L665.3 597.5L667.2 598.4L668.2 599.3L670.8 606.0L672.0 606.4L674.2 605.2L675.2 603.6L675.5 595.5L674.4 593.8L666.3 591.8L661.5 589.6L654.8 587.7L649.0 586.9L645.2 586.8L643.3 587.3ZM541.8 611.7L543.7 611.7L546.6 612.8L551.4 616.6L555.2 620.4L557.1 621.2L562.9 622.0L570.5 617.4L571.5 617.2L573.4 617.6L574.4 618.3L579.2 624.7L587.9 632.8L588.9 635.3L589.1 636.9L587.0 642.6L585.9 644.2L583.9 645.7L579.1 647.8L573.4 652.4L570.5 653.3L560.0 650.2L551.4 650.7L545.6 650.2L540.8 647.8L537.0 645.1L530.3 643.5L526.5 641.3L522.1 637.7L521.9 635.3L522.5 630.4L528.1 621.5L535.3 613.3L537.0 612.5L541.3 611.7ZM570.4 620.6L567.7 621.3L566.7 621.9L561.9 626.9L561.0 627.3L549.5 623.4L544.7 622.7L542.8 622.8L541.2 623.9L538.3 627.1L537.8 628.8L538.3 630.4L538.4 634.5L539.8 640.1L540.8 641.3L544.7 643.9L548.5 646.0L560.0 645.5L567.7 648.6L569.6 648.7L578.6 645.0L584.3 639.3L585.1 637.7L583.5 633.6L579.1 629.6L576.4 628.0L572.4 621.5L571.5 620.6L570.5 620.6ZM514.0 613.6L515.0 613.4L516.0 613.7L518.1 616.6L519.1 619.0L518.8 619.9L518.0 620.6L516.9 620.6L514.5 618.2L513.2 615.8L512.9 615.0L513.2 614.1ZM644.2 617.3L646.2 616.9L656.7 617.1L657.4 618.2L657.2 619.8L655.7 623.1L650.0 624.8L648.1 624.7L644.5 622.3L643.7 618.2L644.1 617.4ZM666.3 617.8L669.1 617.8L669.9 618.2L670.2 619.0L669.1 620.6L668.2 620.9L666.3 620.2L665.3 619.0L665.5 618.2ZM599.2 630.3L601.2 629.9L604.0 630.2L608.8 632.4L609.5 633.6L609.2 634.5L608.0 636.1L606.9 636.4L599.2 636.7L596.6 636.1L595.5 634.5L595.8 632.0L596.4 631.0L598.8 630.4ZM635.6 640.1L638.5 639.4L643.3 639.8L649.2 642.6L650.1 643.4L651.3 646.6L651.8 650.7L652.9 653.5L654.8 655.9L655.4 657.2L655.6 660.5L654.8 663.7L654.2 672.6L650.7 679.1L650.4 682.4L649.5 684.8L649.4 692.1L648.4 696.2L647.1 697.3L640.4 697.4L636.6 698.4L629.9 698.6L618.4 697.9L605.0 698.3L594.5 698.2L585.8 697.2L574.4 697.2L569.6 698.1L564.8 698.3L561.0 697.8L552.3 697.7L545.6 697.8L542.8 698.3L530.3 698.1L527.6 697.0L522.7 692.7L519.8 690.9L514.0 685.6L508.2 681.6L506.3 679.1L505.0 675.9L505.4 674.6L506.4 673.6L511.2 671.2L516.0 668.2L522.7 667.2L528.4 665.8L534.1 665.7L537.0 665.1L546.6 664.6L556.2 666.3L561.9 666.6L564.8 667.4L570.5 667.0L578.2 667.2L581.1 666.6L584.9 666.5L587.8 665.6L592.5 665.5L595.4 664.9L600.2 664.9L603.1 664.3L606.9 664.5L608.4 665.3L608.7 668.6L609.3 669.4L617.4 671.4L623.2 674.1L624.3 673.5L625.3 670.2L625.5 666.1L624.5 662.1L621.7 654.8L621.4 646.6L621.7 645.0L623.2 643.7L626.1 642.3L631.8 640.5L635.4 640.1ZM601.0 670.2L599.2 670.5L593.5 670.2L589.7 671.1L588.3 671.8L587.7 673.5L586.4 675.1L586.4 675.9L587.9 679.1L588.6 694.6L588.7 695.4L589.4 696.2L605.0 696.8L616.5 696.5L625.1 696.6L628.0 697.5L636.6 697.3L637.5 697.0L638.1 696.2L638.0 695.4L635.5 687.3L633.7 685.2L629.9 683.6L628.5 684.0L626.1 691.7L625.1 691.2L624.6 688.1L622.3 684.0L616.4 675.1L613.8 672.6L612.2 671.8L608.8 671.0L605.9 669.5L603.1 669.5L601.2 670.2ZM526.3 671.0L520.1 672.6L519.0 673.5L519.8 674.5L525.5 676.8L528.4 677.0L531.3 676.3L535.1 676.2L542.8 676.2L545.6 677.0L548.5 676.9L552.7 675.1L553.3 674.3L551.4 673.2L544.7 671.6L539.9 671.4L537.0 670.6L528.4 670.4L526.5 671.0ZM533.6 678.3L528.4 679.1L527.9 680.0L527.8 687.3L528.8 690.5L528.9 694.6L529.3 696.2L531.3 696.7L542.8 696.8L544.1 696.2L544.5 694.6L543.9 681.6L542.8 680.3L539.9 679.1L536.1 678.1L534.1 678.2ZM563.3 680.0L561.8 680.8L561.3 682.4L561.2 691.3L562.1 695.4L562.5 696.2L563.8 696.8L569.6 696.4L570.0 695.4L569.8 693.0L567.9 686.5L567.8 684.0L566.8 680.0L565.7 679.5L563.8 679.8Z" fill="#f5a886" fill-rule="evenodd" stroke="#f5a886" stroke-width="0.3"/>
<path d="M709.3 541.0L721.8 540.4L725.6 541.2L729.4 541.5L730.4 541.8L731.2 542.6L732.1 549.1L732.1 558.1L731.4 562.7L730.4 564.5L716.0 560.4L711.3 561.1L700.7 561.0L697.9 560.4L694.0 560.4L680.6 558.1L675.8 558.0L674.9 557.8L673.2 556.5L672.3 554.8L672.7 554.0L678.7 549.9L700.7 542.5L709.2 541.0ZM712.8 542.6L704.7 543.5L696.9 545.9L695.9 546.4L693.0 549.1L691.9 550.8L692.3 553.2L693.7 555.6L698.1 558.1L699.8 558.6L719.9 558.7L729.4 561.4L730.4 561.2L731.4 558.9L731.5 555.6L731.4 549.1L730.4 544.0L729.4 543.4L722.7 542.9L719.9 542.3L713.2 542.5ZM534.1 554.8L537.0 554.3L553.3 554.5L559.0 554.9L561.9 555.6L567.5 558.9L568.3 560.5L567.7 562.1L565.7 564.2L564.8 564.8L561.0 565.6L557.1 565.9L554.2 566.7L551.4 566.9L538.0 566.6L529.4 564.6L527.4 563.3L525.9 561.3L525.7 559.7L526.5 558.4L529.4 555.6L534.0 554.8ZM536.4 556.5L534.4 558.9L534.0 560.5L535.1 562.6L537.0 564.0L543.7 564.9L550.4 565.0L553.3 564.9L560.0 563.6L563.0 561.3L563.5 559.7L562.2 558.1L559.6 556.5L537.0 556.2ZM578.2 564.5L583.9 564.0L588.6 565.4L590.6 566.6L591.3 567.8L591.0 568.6L589.7 569.8L585.8 570.1L580.1 569.7L578.9 568.6L577.0 566.2L577.0 565.4L578.0 564.6ZM583.9 578.4L585.8 578.1L590.6 578.8L593.5 579.7L596.4 579.8L597.7 584.1L597.6 584.9L596.8 585.7L593.5 586.5L591.6 588.3L590.6 588.7L588.7 588.8L583.9 588.1L580.4 584.9L579.2 582.5L580.4 580.8L583.9 578.4ZM584.9 580.8L582.6 583.3L583.7 585.7L584.9 586.7L588.7 586.8L589.9 585.7L590.9 582.5L589.7 581.3L585.8 580.4ZM614.6 584.9L615.5 584.7L616.5 585.0L617.9 586.5L618.7 588.1L618.7 589.8L616.5 591.9L612.6 591.9L611.1 590.6L610.2 589.0L610.1 588.1L610.7 586.8L614.6 584.9ZM643.3 587.3L645.2 586.8L649.0 586.9L654.8 587.7L661.5 589.6L666.3 591.8L674.4 593.8L675.5 595.5L675.2 603.6L674.2 605.2L672.0 606.4L670.8 606.0L668.2 599.3L667.2 598.4L665.3 597.5L664.3 597.3L663.1 597.9L658.6 604.8L650.9 606.3L649.0 605.9L636.1 600.3L633.7 598.7L632.8 597.4L631.7 594.6L631.8 593.0L636.0 589.8L640.4 587.9L643.0 587.3ZM646.6 592.2L644.2 593.3L643.5 593.8L643.3 594.6L646.2 599.8L648.1 600.9L653.8 601.0L656.7 599.3L658.3 597.9L658.7 596.3L657.9 594.6L655.7 592.8L649.0 591.5L647.1 592.0ZM570.5 620.6L571.5 620.6L572.4 621.5L576.4 628.0L579.1 629.6L583.5 633.6L585.1 637.7L584.3 639.3L578.6 645.0L569.6 648.7L567.7 648.6L560.0 645.5L548.5 646.0L544.7 643.9L540.8 641.3L539.8 640.1L538.4 634.5L538.3 630.4L537.8 628.8L538.3 627.1L541.2 623.9L542.8 622.8L544.7 622.7L549.5 623.4L561.0 627.3L561.9 626.9L566.7 621.9L567.7 621.3L570.4 620.6ZM548.0 630.4L544.6 633.6L545.0 636.9L546.1 640.1L546.6 641.0L548.5 642.0L552.3 642.9L554.2 642.9L559.1 637.7L559.3 636.1L556.4 632.8L548.5 630.2ZM570.0 632.8L567.8 634.5L567.3 635.3L567.2 637.7L567.7 638.9L568.6 639.7L570.5 640.0L573.4 640.0L575.3 639.3L578.0 636.9L578.5 636.1L578.4 635.3L573.4 632.6L571.5 632.1L570.5 632.5ZM601.2 670.2L603.1 669.5L605.9 669.5L608.8 671.0L612.2 671.8L613.8 672.6L616.4 675.1L622.3 684.0L624.6 688.1L625.1 691.2L626.1 691.7L628.5 684.0L629.9 683.6L633.7 685.2L635.5 687.3L638.0 695.4L638.1 696.2L637.5 697.0L636.6 697.3L628.0 697.5L625.1 696.6L616.5 696.5L605.0 696.8L589.4 696.2L588.7 695.4L588.6 694.6L587.9 679.1L586.4 675.9L586.4 675.1L587.7 673.5L588.3 671.8L589.7 671.1L593.5 670.2L599.2 670.5L601.0 670.2ZM629.5 685.6L627.0 693.8L627.0 695.6L627.4 696.2L628.9 696.6L636.1 696.2L636.5 695.4L636.1 693.8L633.9 687.3L632.8 686.3L629.9 685.4ZM534.1 678.2L536.1 678.1L539.9 679.1L542.8 680.3L543.9 681.6L544.5 694.6L544.1 696.2L542.8 696.8L531.3 696.7L529.3 696.2L528.9 694.6L528.8 690.5L527.8 687.3L527.9 680.0L528.4 679.1L533.6 678.3ZM563.8 679.8L565.7 679.5L566.8 680.0L567.8 684.0L567.9 686.5L569.8 693.0L570.0 695.4L569.6 696.4L563.8 696.8L562.5 696.2L562.1 695.4L561.2 691.3L561.3 682.4L561.8 680.8L563.3 680.0Z" fill="#ee8a60" fill-rule="evenodd" stroke="#ee8a60" stroke-width="0.3"/>
<path d="M713.2 542.5L719.9 542.3L722.7 542.9L729.4 543.4L730.4 544.0L731.4 549.1L731.5 555.6L731.4 558.9L730.4 561.2L729.4 561.4L719.9 558.7L699.8 558.6L698.1 558.1L693.7 555.6L692.3 553.2L691.9 550.8L693.0 549.1L695.9 546.4L696.9 545.9L704.7 543.5L712.8 542.6ZM707.8 545.1L704.6 545.8L702.9 546.7L699.7 550.0L699.3 550.8L699.8 552.4L701.6 554.8L702.6 555.6L705.5 556.3L723.7 557.1L729.4 558.5L730.4 558.1L730.6 554.8L730.5 549.1L729.4 547.7L725.6 545.7L721.8 544.8L715.1 544.5L708.4 544.9ZM537.0 556.2L559.6 556.5L562.2 558.1L563.5 559.7L563.0 561.3L560.0 563.6L553.3 564.9L550.4 565.0L543.7 564.9L537.0 564.0L535.1 562.6L534.0 560.5L534.4 558.9L536.4 556.5ZM544.4 558.9L543.4 560.5L543.6 561.3L544.7 562.3L551.4 562.4L553.3 562.0L554.2 560.5L554.0 559.7L553.3 559.0L546.6 558.5L544.7 558.7ZM585.8 580.4L589.7 581.3L590.9 582.5L589.9 585.7L588.7 586.8L584.9 586.7L583.7 585.7L582.6 583.3L584.9 580.8ZM647.1 592.0L649.0 591.5L655.7 592.8L657.9 594.6L658.7 596.3L658.3 597.9L656.7 599.3L653.8 601.0L648.1 600.9L646.2 599.8L643.3 594.6L643.5 593.8L644.2 593.3L646.6 592.2ZM548.5 630.2L556.4 632.8L559.3 636.1L559.1 637.7L554.2 642.9L552.3 642.9L548.5 642.0L546.6 641.0L546.1 640.1L545.0 636.9L544.6 633.6L548.0 630.4ZM570.5 632.5L571.5 632.1L573.4 632.6L578.4 635.3L578.5 636.1L578.0 636.9L575.3 639.3L573.4 640.0L570.5 640.0L568.6 639.7L567.7 638.9L567.2 637.7L567.3 635.3L567.8 634.5L570.0 632.8ZM629.9 685.4L632.8 686.3L633.9 687.3L636.1 693.8L636.5 695.4L636.1 696.2L628.9 696.6L627.4 696.2L627.0 695.6L627.0 693.8L629.5 685.6Z" fill="#d6604d" fill-rule="evenodd" stroke="#d6604d" stroke-width="0.3"/>
<path d="M708.4 544.9L715.1 544.5L721.8 544.8L725.6 545.7L729.4 547.7L730.5 549.1L730.6 554.8L730.4 558.1L729.4 558.5L723.7 557.1L705.5 556.3L702.6 555.6L701.6 554.8L699.8 552.4L699.3 550.8L699.7 550.0L702.9 546.7L704.6 545.8L707.8 545.1ZM713.6 545.9L708.4 546.7L705.0 549.1L704.1 550.8L704.6 552.4L705.5 553.6L707.4 554.5L709.3 554.9L720.8 555.1L726.6 555.7L728.1 554.8L728.2 554.0L727.1 550.0L725.6 547.6L723.7 546.8L719.9 546.0L714.1 545.8ZM544.7 558.7L546.6 558.5L553.3 559.0L554.0 559.7L554.2 560.5L553.3 562.0L551.4 562.4L544.7 562.3L543.6 561.3L543.4 560.5L544.4 558.9ZM545.4 560.5L546.6 561.0L551.6 560.5L545.6 560.3Z" fill="#ca0020" fill-rule="evenodd" stroke="#ca0020" stroke-width="0.3"/>
<path d="M714.1 545.8L719.9 546.0L723.7 546.8L725.6 547.6L727.1 550.0L728.2 554.0L728.1 554.8L726.6 555.7L720.8 555.1L709.3 554.9L707.4 554.5L705.5 553.6L704.6 552.4L704.1 550.8L705.0 549.1L708.4 546.7L713.6 545.9ZM711.7 547.5L708.4 548.1L706.2 550.0L705.7 550.8L705.8 551.6L706.5 552.6L707.6 553.2L712.2 554.1L725.6 554.4L726.4 554.0L726.5 553.2L725.7 550.0L724.7 548.3L722.7 547.6L717.0 546.8L714.1 546.9L712.2 547.4ZM545.6 560.3L551.6 560.5L546.6 561.0L545.4 560.5Z" fill="#b2182b" fill-rule="evenodd" stroke="#b2182b" stroke-width="0.3"/>
<path d="M712.2 547.4L714.1 546.9L717.0 546.8L722.7 547.6L724.7 548.3L725.7 550.0L726.5 553.2L726.4 554.0L725.6 554.4L712.2 554.1L707.6 553.2L706.5 552.6L705.8 551.6L705.7 550.8L706.2 550.0L708.4 548.1L711.7 547.5Z" fill="#67001f" fill-rule="evenodd" stroke="#67001f" stroke-width="0.3"/>
<path d="M484.0 519.9L483.9 537.0L484.9 541.0L485.1 550.0L491.6 565.4L500.1 579.2L504.9 589.0L509.1 594.6L512.1 598.2L517.1 600.3L521.7 604.3L524.6 605.9L528.4 609.0L536.1 610.8L542.8 610.3L545.6 610.6L558.1 618.2L560.0 618.8L566.7 617.6L575.3 613.0L586.8 610.8L588.0 611.7L588.2 616.6L588.7 617.5L589.7 617.9L600.2 617.6L602.7 616.6L606.9 614.4L608.2 612.5L608.1 606.0L608.6 597.9L608.4 595.5L607.9 594.6L605.9 594.0L603.1 594.0L600.2 593.5L592.5 593.8L588.7 595.7L586.5 597.9L585.8 598.7L584.1 602.8L583.0 604.1L579.1 605.6L578.2 605.5L577.2 604.6L571.0 594.6L563.8 590.6L559.0 590.9L551.4 592.5L541.8 592.8L527.4 591.1L524.6 590.3L517.9 590.7L516.9 589.9L516.0 587.3L512.1 580.8L511.2 578.6L511.3 577.6L516.0 572.8L522.7 571.5L524.0 570.3L523.4 569.5L517.7 566.2L513.9 558.9L513.5 550.0L515.0 546.1L516.9 543.6L517.9 543.8L518.3 548.3L518.8 549.2L520.7 549.7L531.3 548.8L538.9 547.2L542.8 547.0L543.7 546.7L544.3 545.9L541.8 544.9L536.1 543.8L529.4 543.7L518.1 541.8L516.3 538.6L516.0 537.0L516.9 535.8L518.7 534.5L527.4 534.0L544.7 537.3L548.5 537.3L551.4 538.0L557.1 538.1L560.0 538.9L565.7 539.2L566.9 540.2L566.4 541.0L564.8 541.9L559.0 543.8L552.3 544.8L550.4 545.9L552.3 546.5L560.0 546.5L562.9 547.3L588.7 546.9L592.5 546.2L605.9 546.5L607.9 546.0L609.8 544.1L611.7 544.1L616.5 545.1L624.1 544.4L624.3 543.5L622.2 542.3L614.6 541.3L607.9 539.8L592.5 539.8L585.8 541.4L583.9 541.2L581.3 540.2L581.3 539.4L583.4 537.8L587.8 535.9L597.3 533.7L600.2 533.5L603.1 532.7L606.9 532.5L611.7 531.1L615.5 531.2L618.4 531.8L631.8 532.2L635.6 533.5L644.2 537.5L654.8 540.1L667.2 543.8L670.1 544.0L684.4 539.0L700.7 532.8L703.6 532.4L712.2 532.5L733.3 538.1L736.1 538.3L739.0 539.2L740.9 539.2L742.1 538.6L742.5 537.0L742.3 519.9M688.9 705.1L689.8 701.9L692.0 690.5L694.4 687.3L698.8 683.1L705.0 671.8L707.8 659.6L707.9 657.2L708.7 654.8L708.7 652.3L707.9 649.1L708.1 643.4L707.3 641.0L705.9 631.2L704.9 629.6L703.6 629.0L695.9 630.4L689.7 628.8L686.4 627.4L684.4 627.2L680.6 627.5L669.1 630.0L667.2 630.8L660.2 635.3L659.3 636.9L659.1 641.0L659.2 643.4L660.0 645.8L660.0 648.3L658.1 651.5L656.5 655.6L656.8 660.5L656.0 664.5L655.7 672.2L657.3 677.5L658.2 679.1L661.8 683.2L665.4 686.5L669.0 690.5L672.1 697.0L675.3 705.1M629.9 553.1L626.1 553.8L622.6 556.5L617.4 559.1L614.6 559.3L611.7 558.6L605.9 558.6L600.2 559.6L598.9 560.5L598.9 561.3L599.6 562.1L607.9 562.6L612.6 563.7L618.4 568.4L620.3 569.1L630.8 569.1L633.7 568.4L638.5 568.1L641.4 567.4L647.1 567.4L650.0 567.0L657.6 570.0L661.5 570.0L664.3 570.6L665.3 570.3L667.5 568.6L668.0 567.8L667.6 567.0L662.4 566.6L657.6 565.4L653.8 563.9L651.4 562.1L647.7 557.3L646.2 556.1L636.6 553.0L630.8 552.8ZM659.6 571.8L659.5 572.7L660.2 573.5L664.3 577.1L666.3 578.0L668.2 578.4L669.3 577.6L669.5 574.3L668.9 572.7L660.5 571.4ZM702.6 571.8L700.7 572.3L695.0 572.5L686.4 575.4L685.5 576.0L685.3 576.8L687.3 579.0L689.2 579.8L691.2 579.9L699.8 577.8L707.4 575.3L709.1 574.3L709.6 573.5L709.1 572.7L707.4 571.6L702.6 571.8M544.7 575.9L537.0 577.2L536.0 577.6L536.1 578.5L539.9 579.6L552.3 579.4L556.2 578.4L557.1 577.8L557.6 576.8L556.8 576.0L555.2 575.5L545.6 575.7ZM625.1 606.7L622.2 607.5L621.1 608.5L620.7 610.1L620.6 619.0L620.3 620.6L614.9 628.8L613.4 632.0L613.4 632.8L615.5 635.6L618.4 637.8L621.3 638.1L624.1 637.4L627.0 637.3L631.8 636.0L636.7 632.8L637.7 627.1L637.8 623.1L637.3 620.6L636.5 619.0L636.1 613.3L634.7 608.3L632.8 607.1L628.9 606.4L626.1 606.5ZM498.7 622.0L494.3 624.7L491.7 629.6L491.4 633.6L492.2 636.1L492.6 641.0L494.7 647.5L498.3 656.4L505.0 666.1L509.3 669.8L510.2 669.9L511.2 669.5L518.8 663.5L524.6 662.3L535.1 663.5L544.7 662.1L548.5 662.5L554.2 663.8L559.0 662.4L560.0 661.8L560.3 660.5L559.0 658.5L557.1 657.1L552.3 654.9L551.4 654.7L543.7 655.8L538.9 656.0L532.2 655.0L528.4 653.8L518.8 649.1L511.2 642.0L510.2 640.6L508.0 632.8L507.7 630.4L506.4 627.3L501.6 621.9L500.6 621.6L498.7 622.0M596.4 638.4L591.6 641.4L585.8 646.4L581.1 648.2L579.1 649.6L578.7 652.3L579.8 658.0L582.0 659.2L585.8 659.8L595.4 655.6L596.7 656.4L596.9 658.8L597.9 660.5L603.8 662.9L609.8 663.3L615.5 662.3L616.2 661.3L616.1 659.6L611.7 649.0L611.6 647.5L612.4 644.2L612.1 643.4L609.2 641.8L608.7 641.0L608.3 638.5L607.9 638.2L605.9 637.8L597.3 638.0ZM463.3 531.9L469.0 534.2L473.8 533.3L476.7 533.4L477.7 533.7L478.9 535.3L479.1 561.3L477.1 564.6L476.6 566.2L477.4 574.3L477.3 587.3L478.1 590.6L478.2 612.5L479.1 615.0L479.3 617.4L480.1 619.8L480.2 622.3L482.3 631.2L486.2 642.6L487.9 647.5L493.0 657.2L497.9 668.6L498.2 670.2L497.9 671.0L496.8 671.5L475.7 671.3L464.3 671.7L462.3 671.2L461.7 670.2L462.3 662.1L461.5 641.0L461.9 628.0L461.6 601.1L462.1 589.0L461.4 579.2L462.1 567.0L461.5 538.6L461.7 533.7L462.5 532.1ZM613.6 534.4L624.1 534.1L628.0 535.0L631.8 535.2L633.7 535.8L635.6 536.8L636.0 537.8L634.7 538.8L629.9 540.5L628.0 540.6L625.1 539.8L617.4 539.8L609.8 538.6L607.7 537.0L607.6 536.1L608.8 535.2L613.1 534.5ZM710.3 537.6L712.2 537.5L715.1 538.1L725.6 538.1L730.4 538.7L731.5 539.4L732.7 544.3L733.1 558.1L732.2 565.4L731.4 567.0L730.4 567.5L719.9 564.7L716.0 564.6L713.2 563.7L699.8 563.4L696.9 562.8L690.2 562.7L687.3 561.9L680.6 561.9L677.7 561.3L673.0 561.2L669.1 560.1L666.6 558.1L665.7 556.5L666.2 554.8L669.1 551.9L673.0 549.8L678.7 547.3L686.0 545.1L697.9 540.0L704.6 539.1L710.0 537.8ZM528.4 552.9L543.7 552.6L553.3 552.8L560.0 553.4L569.6 557.7L576.3 562.7L584.9 562.7L587.8 563.5L591.6 565.4L595.5 569.5L595.4 570.4L592.2 571.1L591.4 571.9L615.5 572.4L617.1 573.5L619.0 577.6L620.1 579.2L621.3 580.1L625.1 580.5L631.8 582.0L643.3 579.0L650.9 580.7L660.5 585.8L668.2 586.6L676.8 588.5L687.3 586.1L691.2 586.0L698.8 584.6L702.6 584.7L707.4 583.6L718.0 579.9L722.7 577.1L728.5 573.2L729.4 573.2L730.0 575.1L730.2 585.7L729.8 602.0L729.2 602.8L725.6 604.9L711.3 611.4L705.5 614.5L695.0 617.0L674.9 617.2L662.4 614.0L659.6 612.7L657.6 612.3L652.9 613.2L647.1 615.2L645.2 615.4L643.3 614.3L638.5 610.0L636.0 606.8L633.7 605.0L630.8 604.6L621.3 604.9L619.3 604.1L613.1 598.7L608.8 592.7L607.3 591.4L588.7 591.1L586.8 590.3L583.0 589.5L574.4 585.1L571.7 582.5L571.7 581.6L572.4 580.6L580.1 576.1L583.9 574.8L587.2 574.3L588.0 573.5L588.6 571.9L581.1 571.3L578.2 570.8L571.5 570.8L568.6 570.0L565.7 569.8L556.2 569.7L550.4 570.1L547.5 570.8L544.7 570.6L540.8 569.8L537.0 569.7L534.1 569.0L529.4 568.7L520.7 564.8L519.3 562.1L518.6 559.7L518.8 558.1L523.6 553.8L527.5 553.2ZM541.8 611.7L543.7 611.7L546.6 612.8L551.4 616.6L555.2 620.4L557.1 621.2L562.9 622.0L570.5 617.4L571.5 617.2L573.4 617.6L574.4 618.3L579.2 624.7L587.9 632.8L588.9 635.3L589.1 636.9L587.0 642.6L585.9 644.2L583.9 645.7L579.1 647.8L573.4 652.4L570.5 653.3L560.0 650.2L551.4 650.7L545.6 650.2L540.8 647.8L537.0 645.1L530.3 643.5L526.5 641.3L522.1 637.7L521.9 635.3L522.5 630.4L528.1 621.5L535.3 613.3L537.0 612.5L541.3 611.7ZM514.0 613.6L515.0 613.4L516.0 613.7L518.1 616.6L519.1 619.0L518.8 619.9L518.0 620.6L516.9 620.6L514.5 618.2L513.2 615.8L512.9 615.0L513.2 614.1ZM644.2 617.3L646.2 616.9L656.7 617.1L657.4 618.2L657.2 619.8L655.7 623.1L650.0 624.8L648.1 624.7L644.5 622.3L643.7 618.2L644.1 617.4ZM666.3 617.8L669.1 617.8L669.9 618.2L670.2 619.0L669.1 620.6L668.2 620.9L666.3 620.2L665.3 619.0L665.5 618.2ZM599.2 630.3L601.2 629.9L604.0 630.2L608.8 632.4L609.5 633.6L609.2 634.5L608.0 636.1L606.9 636.4L599.2 636.7L596.6 636.1L595.5 634.5L595.8 632.0L596.4 631.0L598.8 630.4ZM635.6 640.1L638.5 639.4L643.3 639.8L649.2 642.6L650.1 643.4L651.3 646.6L651.8 650.7L652.9 653.5L654.8 655.9L655.4 657.2L655.6 660.5L654.8 663.7L654.2 672.6L650.7 679.1L650.4 682.4L649.5 684.8L649.4 692.1L648.4 696.2L647.1 697.3L640.4 697.4L636.6 698.4L629.9 698.6L618.4 697.9L605.0 698.3L594.5 698.2L585.8 697.2L574.4 697.2L569.6 698.1L564.8 698.3L561.0 697.8L552.3 697.7L545.6 697.8L542.8 698.3L530.3 698.1L527.6 697.0L522.7 692.7L519.8 690.9L514.0 685.6L508.2 681.6L506.3 679.1L505.0 675.9L505.4 674.6L506.4 673.6L511.2 671.2L516.0 668.2L522.7 667.2L528.4 665.8L534.1 665.7L537.0 665.1L546.6 664.6L556.2 666.3L561.9 666.6L564.8 667.4L570.5 667.0L578.2 667.2L581.1 666.6L584.9 666.5L587.8 665.6L592.5 665.5L595.4 664.9L600.2 664.9L603.1 664.3L606.9 664.5L608.4 665.3L608.7 668.6L609.3 669.4L617.4 671.4L623.2 674.1L624.3 673.5L625.3 670.2L625.5 666.1L624.5 662.1L621.7 654.8L621.4 646.6L621.7 645.0L623.2 643.7L626.1 642.3L631.8 640.5L635.4 640.1ZM526.5 671.0L520.1 672.6L519.0 673.5L519.8 674.5L525.5 676.8L528.4 677.0L531.3 676.3L535.1 676.2L542.8 676.2L545.6 677.0L548.5 676.9L552.7 675.1L553.3 674.3L552.3 673.5L544.7 671.6L539.9 671.4L537.0 670.6L527.4 670.6ZM709.3 541.0L721.8 540.4L725.6 541.2L729.4 541.5L730.4 541.8L731.2 542.6L732.1 549.1L732.1 558.1L731.4 562.7L730.4 564.5L716.0 560.4L711.3 561.1L700.7 561.0L697.9 560.4L694.0 560.4L680.6 558.1L675.8 558.0L674.9 557.8L673.2 556.5L672.3 554.8L672.7 554.0L678.7 549.9L700.7 542.5L709.2 541.0ZM534.1 554.8L537.0 554.3L553.3 554.5L559.0 554.9L561.9 555.6L567.5 558.9L568.3 560.5L567.7 562.1L565.7 564.2L564.8 564.8L561.0 565.6L557.1 565.9L554.2 566.7L551.4 566.9L538.0 566.6L529.4 564.6L527.4 563.3L525.9 561.3L525.7 559.7L526.5 558.4L529.4 555.6L534.0 554.8ZM578.2 564.5L583.9 564.0L588.6 565.4L590.6 566.6L591.3 567.8L591.0 568.6L589.7 569.8L585.8 570.1L580.1 569.7L578.9 568.6L577.0 566.2L577.0 565.4L578.0 564.6ZM583.9 578.4L585.8 578.1L590.6 578.8L593.5 579.7L596.4 579.8L597.7 584.1L597.6 584.9L596.8 585.7L593.5 586.5L591.6 588.3L590.6 588.7L588.7 588.8L583.9 588.1L580.4 584.9L579.2 582.5L580.4 580.8L583.9 578.4ZM614.6 584.9L615.5 584.7L616.5 585.0L617.9 586.5L618.7 588.1L618.7 589.8L616.5 591.9L612.6 591.9L611.1 590.6L610.2 589.0L610.1 588.1L610.7 586.8L614.6 584.9ZM643.3 587.3L645.2 586.8L649.0 586.9L654.8 587.7L661.5 589.6L666.3 591.8L674.4 593.8L675.5 595.5L675.2 603.6L674.2 605.2L672.0 606.4L670.8 606.0L668.2 599.3L667.2 598.4L665.3 597.5L664.3 597.3L663.1 597.9L658.6 604.8L650.9 606.3L649.0 605.9L636.1 600.3L633.7 598.7L632.8 597.4L631.7 594.6L631.8 593.0L636.0 589.8L640.4 587.9L643.0 587.3ZM570.5 620.6L571.5 620.6L572.4 621.5L576.4 628.0L579.1 629.6L583.5 633.6L585.1 637.7L584.3 639.3L578.6 645.0L569.6 648.7L567.7 648.6L560.0 645.5L548.5 646.0L544.7 643.9L540.8 641.3L539.8 640.1L538.4 634.5L538.3 630.4L537.8 628.8L538.3 627.1L541.2 623.9L542.8 622.8L544.7 622.7L549.5 623.4L561.0 627.3L561.9 626.9L566.7 621.9L567.7 621.3L570.4 620.6ZM601.2 670.2L603.1 669.5L605.9 669.5L608.8 671.0L612.2 671.8L613.8 672.6L616.4 675.1L622.3 684.0L624.6 688.1L625.1 691.2L626.1 691.7L628.5 684.0L629.9 683.6L633.7 685.2L635.5 687.3L638.0 695.4L638.1 696.2L637.5 697.0L636.6 697.3L628.0 697.5L625.1 696.6L616.5 696.5L605.0 696.8L589.4 696.2L588.7 695.4L588.6 694.6L587.9 679.1L586.4 675.9L586.4 675.1L587.7 673.5L588.3 671.8L589.7 671.1L593.5 670.2L599.2 670.5L601.0 670.2ZM534.1 678.2L536.1 678.1L539.9 679.1L542.8 680.3L543.9 681.6L544.5 694.6L544.1 696.2L542.8 696.8L531.3 696.7L529.3 696.2L528.9 694.6L528.8 690.5L527.8 687.3L527.9 680.0L528.4 679.1L533.6 678.3ZM563.8 679.8L565.7 679.5L566.8 680.0L567.8 684.0L567.9 686.5L569.8 693.0L570.0 695.4L569.6 696.4L563.8 696.8L562.5 696.2L562.1 695.4L561.2 691.3L561.3 682.4L561.8 680.8L563.3 680.0ZM713.2 542.5L719.9 542.3L722.7 542.9L729.4 543.4L730.4 544.0L731.4 549.1L731.5 555.6L731.4 558.9L730.4 561.2L729.4 561.4L719.9 558.7L699.8 558.6L698.1 558.1L693.7 555.6L692.3 553.2L691.9 550.8L693.0 549.1L695.9 546.4L696.9 545.9L704.7 543.5L712.8 542.6ZM537.0 556.2L559.6 556.5L562.2 558.1L563.5 559.7L563.0 561.3L560.0 563.6L553.3 564.9L550.4 565.0L543.7 564.9L537.0 564.0L535.1 562.6L534.0 560.5L534.4 558.9L536.4 556.5ZM585.8 580.4L589.7 581.3L590.9 582.5L589.9 585.7L588.7 586.8L584.9 586.7L583.7 585.7L582.6 583.3L584.9 580.8ZM647.1 592.0L649.0 591.5L655.7 592.8L657.9 594.6L658.7 596.3L658.3 597.9L656.7 599.3L653.8 601.0L648.1 600.9L646.2 599.8L643.3 594.6L643.5 593.8L644.2 593.3L646.6 592.2ZM548.5 630.2L556.4 632.8L559.3 636.1L559.1 637.7L554.2 642.9L552.3 642.9L548.5 642.0L546.6 641.0L546.1 640.1L545.0 636.9L544.6 633.6L548.0 630.4ZM570.5 632.5L571.5 632.1L573.4 632.6L578.4 635.3L578.5 636.1L578.0 636.9L575.3 639.3L573.4 640.0L570.5 640.0L568.6 639.7L567.7 638.9L567.2 637.7L567.3 635.3L567.8 634.5L570.0 632.8ZM629.9 685.4L632.8 686.3L633.9 687.3L636.1 693.8L636.5 695.4L636.1 696.2L628.9 696.6L627.4 696.2L627.0 695.6L627.0 693.8L629.5 685.6ZM708.4 544.9L715.1 544.5L721.8 544.8L725.6 545.7L729.4 547.7L730.5 549.1L730.6 554.8L730.4 558.1L729.4 558.5L723.7 557.1L705.5 556.3L702.6 555.6L701.6 554.8L699.8 552.4L699.3 550.8L699.7 550.0L702.9 546.7L704.6 545.8L707.8 545.1ZM544.7 558.7L546.6 558.5L553.3 559.0L554.0 559.7L554.2 560.5L553.3 562.0L551.4 562.4L544.7 562.3L543.6 561.3L543.4 560.5L544.4 558.9ZM714.1 545.8L719.9 546.0L723.7 546.8L725.6 547.6L727.1 550.0L728.2 554.0L728.1 554.8L726.6 555.7L720.8 555.1L709.3 554.9L707.4 554.5L705.5 553.6L704.6 552.4L704.1 550.8L705.0 549.1L708.4 546.7L713.6 545.9ZM545.6 560.3L551.6 560.5L546.6 561.0L545.4 560.5ZM712.2 547.4L714.1 546.9L717.0 546.8L722.7 547.6L724.7 548.3L725.7 550.0L726.5 553.2L726.4 554.0L725.6 554.4L712.2 554.1L707.6 553.2L706.5 552.6L705.8 551.6L705.7 550.8L706.2 550.0L708.4 548.1L711.7 547.5Z" fill="none" stroke="#0a0a0a" stroke-width="0.45" stroke-linejoin="round"/>
</g>
<path d="M455.6 518.3 L461.8 518.3 L461.8 568.0 L466.2 571.8 L466.2 609.9 L470.0 615.7 L470.0 634.7 L473.2 644.2 L473.1 641.8 L478.1 652.9 L482.1 653.9 L485.1 662.9 L485.1 670.9 L504.2 670.9 L507.2 680.6 L527.3 680.6 L531.3 691.0 L537.3 680.6 L541.3 680.6 L545.4 691.0 L568.4 691.0 L573.5 681.0 L579.5 680.6 L582.9 671.9 L587.5 680.6 L594.5 681.0 L599.6 690.6 L610.0 691.0 L612.0 691.0 L651.2 691.0 L655.2 702.1 L655.8 713.1 L677.9 713.1 L678.3 702.1 L682.3 691.0 L686.3 691.0 L689.3 702.1 L689.7 713.1 L692.9 713.1 L693.4 702.1 L698.4 693.0 L702.4 687.0 L705.4 673.0 L708.4 652.9 L712.4 640.8 L715.2 634.7 L720.6 619.5 L720.6 606.1 L724.8 600.4 L725.7 577.6 L727.6 573.8 L727.6 531.8 L735.2 526.1 L735.2 518.3 L744.8 518.3 L744.8 711.6 L455.6 711.6Z" fill="#cbcbcb" clip-path="url(#cpf)"/>
<path d="M727.1 570.7H610.3Q608.1 570.7 608.1 572.9V690.8M608.1 613.5Q608.1 616.7 611.3 616.7H720.6" fill="none" stroke="#000" stroke-width="1.5"/>
<path d="M492.9 519.8 L493.1 520.4 L493.5 521.2 L494.0 522.2 L494.8 523.3 L495.7 524.5 L496.9 525.8 L498.2 527.3 L499.5 529.0 L500.9 531.0 L502.3 533.2 L503.8 535.4 L505.2 537.6 L506.7 539.6 L508.2 541.6 L509.6 543.5 L511.0 545.2 L512.3 546.6 L513.5 547.9 L514.7 549.0 L515.7 549.9 L516.6 550.6 L517.4 551.0 L518.1 551.3 L518.6 551.5M538.6 553.8 L540.7 553.6 L543.8 553.4 L547.1 553.2 L550.0 552.8 L552.0 552.2 L553.7 551.5 L555.4 550.8 L557.6 550.1 L560.6 549.4 L564.1 548.9 L567.8 548.3 L571.4 547.9 L574.9 547.5 L578.3 547.1 L581.8 546.9 L585.2 546.8 L588.7 546.8 L592.1 547.0 L595.6 547.2 L599.0 547.3 L602.5 547.4 L605.9 547.4 L609.4 547.4 L612.8 547.3 L616.3 547.1 L619.7 546.9 L623.2 546.6 L626.6 546.5 L630.1 546.4 L633.5 546.3 L637.0 546.4 L640.4 546.5 L643.9 546.7 L647.5 547.1 L651.0 547.5 L654.2 547.9 L657.2 548.3 L660.1 548.9 L662.8 549.3 L665.3 549.5 L667.5 549.4 L669.6 549.1 L671.5 548.6 L673.5 548.1 L675.6 547.5 L677.7 546.8 L679.7 546.1 L681.8 545.4 L683.8 544.6 L685.8 543.9 L687.8 543.2 L690.1 542.6 L692.6 542.1 L695.3 541.7 L698.1 541.4 L701.1 541.2 L704.4 541.1 L708.0 541.1 L711.5 541.2 L714.9 541.2 L718.4 541.3 L722.0 541.5 L725.2 541.7 L727.4 541.8M462.4 525.8 L463.6 525.6 L465.2 525.4 L467.2 525.2 L469.0 525.0 L471.0 524.8 L473.2 524.6 L475.1 524.3 L476.7 523.8 L477.6 523.0 L478.1 521.8 L478.4 520.6 L478.6 519.8M478.6 519.8 L478.6 521.0 L478.6 522.7 L478.7 524.5 L478.8 526.1 L478.9 527.5 L479.0 528.9 L479.1 530.1 L479.3 531.1 L479.6 531.7 L479.8 532.2 L480.2 532.4 L480.5 532.6 L480.8 532.8 L481.2 532.8 L481.7 532.8 L482.0 532.6 L482.3 532.3 L482.5 531.8 L482.7 531.1 L483.0 530.3 L483.2 529.2 L483.4 527.9 L483.5 526.5 L483.7 525.2 L483.9 523.7 L484.0 522.2 L484.2 520.8 L484.3 519.8M476.7 524.2 L478.3 524.3 L480.7 524.3 L483.2 524.5 L485.2 525.2 L486.7 526.3 L487.8 527.7 L488.8 529.6 L490.0 531.8 L491.4 534.7 L492.8 538.2 L494.3 541.8 L495.7 545.2 L497.1 548.4 L498.6 551.6 L500.0 554.7 L501.4 557.6 L502.9 560.3 L504.5 563.0 L506.0 565.3 L507.1 567.1 L507.9 568.1 L508.5 568.4 L508.8 568.5 L509.0 568.6M527.1 573.0 L530.0 572.8 L534.1 572.5 L538.4 572.1 L541.4 571.8 L542.6 571.6 L542.6 571.3 L542.7 571.1 L543.8 570.8 L546.1 570.6 L549.1 570.3 L552.9 570.1 L557.6 570.0 L563.6 569.9 L570.8 569.9 L578.3 569.9 L585.2 570.0 L591.5 570.1 L597.5 570.3 L603.3 570.4 L608.7 570.5 L613.6 570.6 L618.2 570.6 L622.5 570.6 L626.6 570.5 L630.4 570.4 L633.8 570.3 L637.1 570.1 L640.4 570.0 L643.9 570.0 L647.5 570.0 L651.0 570.0 L654.2 570.0 L657.2 569.8 L659.9 569.6 L662.6 569.5 L665.3 569.4 L668.0 569.6 L670.8 570.0 L673.5 570.3 L676.3 570.5 L679.0 570.5 L681.6 570.4 L684.4 570.2 L687.3 570.0 L690.5 569.9 L693.9 569.7 L697.4 569.6 L701.1 569.4 L705.2 569.2 L709.7 569.0 L714.0 568.8 L717.7 568.6 L720.8 568.5 L723.6 568.6 L725.8 568.6 L727.4 568.6M462.4 526.5 L463.1 526.7 L464.1 527.0 L465.2 527.4 L466.2 528.0 L466.9 529.0 L467.6 530.1 L468.2 531.4 L469.0 532.8 L470.0 534.4 L471.1 536.1 L472.4 537.8 L473.8 539.5 L475.5 540.7 L477.5 541.7 L479.5 543.0 L481.4 545.2 L483.1 548.7 L484.8 553.0 L486.4 557.8 L488.1 562.3 L489.9 566.7 L491.8 571.0 L493.8 575.3 L495.7 579.5 L497.7 583.6 L499.6 587.7 L501.6 591.5 L503.3 594.7 L505.0 597.1 L506.7 599.0 L508.1 600.4 L509.0 601.4M530.0 616.6 L532.0 617.4 L534.8 618.6 L537.7 619.7 L539.5 620.4 L539.7 620.3 L539.0 619.8 L538.2 619.2 L538.3 619.1 L539.7 619.5 L541.8 620.3 L544.3 621.1 L546.6 621.8 L548.6 622.2 L550.7 622.4 L552.8 622.7 L554.8 623.2 L556.8 624.1 L558.8 625.3 L560.9 626.4 L563.1 627.4 L565.7 628.0 L568.5 628.5 L571.3 628.7 L574.2 628.7 L576.9 628.4 L579.7 627.8 L582.4 626.9 L585.2 626.0 L588.0 624.8 L590.9 623.4 L593.7 622.1 L596.2 621.0 L598.6 620.3 L600.8 619.8 L602.8 619.4 L604.5 619.1 L605.8 618.7 L606.7 618.3 L607.5 618.1 L608.7 618.2 L610.1 618.9 L611.7 619.9 L613.5 621.0 L615.6 621.8 L618.0 622.5 L620.8 623.0 L623.8 623.3 L626.6 623.2 L629.4 622.6 L632.3 621.5 L635.1 620.3 L637.7 619.1 L640.0 617.9 L642.1 616.6 L644.0 615.4 L645.9 614.4 L647.8 613.5 L649.5 612.8 L651.1 612.3 L652.8 612.2 L654.5 612.5 L656.2 613.2 L657.9 614.1 L659.7 614.9 L661.6 615.8 L663.6 616.7 L665.7 617.5 L668.0 618.2 L670.6 618.8 L673.4 619.3 L676.2 619.7 L679.1 619.9 L681.8 619.9 L684.6 619.6 L687.3 619.3 L690.1 619.1 L692.9 618.9 L695.8 618.7 L698.6 618.5 L701.1 618.2 L703.5 617.9 L705.6 617.5 L707.6 617.0 L709.4 616.3 L711.0 615.3 L712.4 614.1 L713.7 613.0 L714.9 612.2 L716.2 611.9 L717.4 611.9 L718.4 612.1 L719.1 612.2M462.4 527.1 L463.3 527.3 L464.6 527.5 L466.0 528.0 L467.1 529.0 L467.8 530.6 L468.3 532.7 L468.7 535.1 L469.0 537.6 L469.1 540.1 L469.0 542.8 L469.1 545.5 L470.0 548.0 L472.0 550.1 L474.8 551.9 L477.8 553.9 L480.5 556.6 L482.6 560.2 L484.5 564.5 L486.3 569.1 L488.1 573.8 L490.0 578.4 L491.9 583.3 L493.8 588.1 L495.7 592.8 L497.6 597.3 L499.5 601.8 L501.4 606.0 L503.3 609.9 L505.4 613.8 L507.6 617.5 L509.6 620.7 L511.0 622.9M531.0 633.2 L533.1 634.5 L536.2 636.4 L539.3 638.3 L541.4 639.5 L541.8 639.6 L541.2 639.0 L540.6 638.4 L541.0 638.4 L543.1 639.4 L546.0 640.9 L549.2 642.6 L552.1 643.9 L554.3 644.7 L556.2 645.2 L558.2 645.8 L560.4 646.7 L562.9 648.2 L565.5 650.2 L568.4 652.0 L571.4 653.0 L574.7 653.1 L578.3 652.5 L581.9 651.6 L585.2 650.8 L588.1 650.0 L590.8 649.0 L593.5 648.1 L596.2 647.5 L599.3 647.2 L602.4 647.1 L605.5 647.2 L608.7 647.5 L611.7 648.1 L614.8 648.9 L617.9 649.9 L621.1 650.8 L624.6 651.9 L628.3 653.0 L631.8 654.1 L634.9 655.0 L637.4 655.5 L639.4 655.8 L641.2 655.9 L643.2 655.8 L645.3 655.3 L647.5 654.5 L649.6 653.7 L651.5 653.0 L652.9 652.5 L654.1 652.0 L655.2 651.8 L656.4 652.2 L657.8 653.3 L659.3 655.1 L660.8 657.1 L662.5 659.1 L664.4 661.1 L666.5 663.2 L668.7 665.3 L670.8 667.4 L672.9 669.6 L675.1 671.8 L677.2 673.9 L679.1 675.7 L680.6 676.9 L682.0 677.9 L683.3 678.6 L684.6 679.0 L685.9 678.9 L687.2 678.4 L688.4 677.9 L689.5 677.9 L690.5 678.5 L691.4 679.4 L692.2 680.6 L692.9 681.7 L693.2 683.0 L693.4 684.4 L693.7 685.7 L694.2 686.7 L695.4 687.2 L696.9 687.5 L698.5 687.5 L699.8 687.3 L700.7 686.7 L701.4 685.9 L702.0 684.9 L702.5 683.9 L703.1 682.9 L703.7 681.7 L704.1 680.6 L704.5 679.8M687.3 695.5 L688.4 694.7 L689.9 693.5 L691.5 692.3 L692.9 691.7 L693.8 691.8 L694.6 692.4 L695.2 693.1 L695.6 693.6" fill="none" stroke="#ff00ff" stroke-width="1.5" stroke-linejoin="round" stroke-linecap="round" clip-path="url(#cpf)"/>
<text transform="translate(528.1 553.2) rotate(8)" text-anchor="middle" font-size="8.3" fill="#111" dy="3">27.4</text>
<text transform="translate(517.0 572.2) rotate(14)" text-anchor="middle" font-size="8.3" fill="#111" dy="3">27.8</text>
<text transform="translate(518.0 610.3) rotate(30)" text-anchor="middle" font-size="8.3" fill="#111" dy="3">28.04</text>
<text transform="translate(520.1 629.0) rotate(22)" text-anchor="middle" font-size="8.3" fill="#111" dy="3">28.1</text>
<rect x="456.6" y="519.9" width="287.3" height="182.2" fill="none" stroke="#555" stroke-width="0.6"/>
<text x="456.0" y="717.6" text-anchor="middle" font-size="11">-80</text>
<text x="494.3" y="717.6" text-anchor="middle" font-size="11">-60</text>
<text x="532.6" y="717.6" text-anchor="middle" font-size="11">-40</text>
<text x="570.9" y="717.6" text-anchor="middle" font-size="11">-20</text>
<text x="609.2" y="717.6" text-anchor="middle" font-size="11">0</text>
<text x="647.5" y="717.6" text-anchor="middle" font-size="11">20</text>
<text x="685.8" y="717.6" text-anchor="middle" font-size="11">40</text>
<text x="724.1" y="717.6" text-anchor="middle" font-size="11">60</text>
<text x="451.8" y="524.3" text-anchor="end" font-size="11">0</text>
<text x="451.8" y="556.8" text-anchor="end" font-size="11">1</text>
<text x="451.8" y="589.3" text-anchor="end" font-size="11">2</text>
<text x="451.8" y="621.8" text-anchor="end" font-size="11">3</text>
<text x="451.8" y="654.3" text-anchor="end" font-size="11">4</text>
<text x="451.8" y="686.8" text-anchor="end" font-size="11">5</text>
<path d="M456.6 702.1v-2.9M456.6 519.9v2.9M494.9 702.1v-2.9M494.9 519.9v2.9M533.2 702.1v-2.9M533.2 519.9v2.9M571.5 702.1v-2.9M571.5 519.9v2.9M609.8 702.1v-2.9M609.8 519.9v2.9M648.1 702.1v-2.9M648.1 519.9v2.9M686.4 702.1v-2.9M686.4 519.9v2.9M724.7 702.1v-2.9M724.7 519.9v2.9M456.6 519.9h2.9M743.9 519.9h-2.9M456.6 536.1h2.9M743.9 536.1h-2.9M456.6 552.4h2.9M743.9 552.4h-2.9M456.6 568.6h2.9M743.9 568.6h-2.9M456.6 584.9h2.9M743.9 584.9h-2.9M456.6 601.1h2.9M743.9 601.1h-2.9M456.6 617.4h2.9M743.9 617.4h-2.9M456.6 633.6h2.9M743.9 633.6h-2.9M456.6 649.9h2.9M743.9 649.9h-2.9M456.6 666.1h2.9M743.9 666.1h-2.9M456.6 682.4h2.9M743.9 682.4h-2.9M456.6 698.6h2.9M743.9 698.6h-2.9" stroke="#555" stroke-width="0.6" fill="none"/>
<text x="600.2" y="732.5" text-anchor="middle" font-size="12.5">latitude [deg. N]</text>
</g>
<text x="243.5" y="91.9" font-size="16" fill="#1a1a1a">PSZ</text>
<text x="243.5" y="143.9" font-size="16" fill="#1a1a1a">PAZ</text>
<text x="667.8" y="91.8" font-size="16" fill="#1a1a1a">PSZ</text>
<text x="667.8" y="143.8" font-size="16" fill="#1a1a1a">PAZ</text>
<rect x="325.8" y="184.45" width="13.3" height="12.45" fill="#08306b"/>
<rect x="325.8" y="172.31" width="13.3" height="12.45" fill="#2262ab"/>
<rect x="325.8" y="160.16" width="13.3" height="12.45" fill="#1571b5"/>
<rect x="325.8" y="148.01" width="13.3" height="12.45" fill="#4292c6"/>
<rect x="325.8" y="135.87" width="13.3" height="12.45" fill="#6eacd1"/>
<rect x="325.8" y="123.72" width="13.3" height="12.45" fill="#a3cde3"/>
<rect x="325.8" y="111.57" width="13.3" height="12.45" fill="#d1e5f0"/>
<rect x="325.8" y="99.43" width="13.3" height="12.45" fill="#f6f6f6"/>
<rect x="325.8" y="87.28" width="13.3" height="12.45" fill="#fddbc7"/>
<rect x="325.8" y="75.13" width="13.3" height="12.45" fill="#f5ad8c"/>
<rect x="325.8" y="62.99" width="13.3" height="12.45" fill="#f09068"/>
<rect x="325.8" y="50.84" width="13.3" height="12.45" fill="#d6604d"/>
<rect x="325.8" y="38.69" width="13.3" height="12.45" fill="#ca0020"/>
<rect x="325.8" y="26.55" width="13.3" height="12.45" fill="#b2182b"/>
<rect x="325.8" y="14.40" width="13.3" height="12.45" fill="#67001f"/>
<rect x="325.8" y="14.4" width="13.3" height="182.2" fill="none" stroke="#262626" stroke-width="0.6"/>
<text x="342.7" y="200.7" font-size="10">-15</text>
<text x="342.7" y="170.3" font-size="10">-10</text>
<text x="342.7" y="140.0" font-size="10">-5</text>
<text x="342.7" y="109.6" font-size="10">0</text>
<text x="342.7" y="79.2" font-size="10">5</text>
<text x="342.7" y="48.9" font-size="10">10</text>
<text x="342.7" y="18.5" font-size="10">15</text>
<path d="M339.1 196.6h-1.8M339.1 166.2h-1.8M339.1 135.9h-1.8M339.1 105.5h-1.8M339.1 75.1h-1.8M339.1 44.8h-1.8M339.1 14.4h-1.8" stroke="#262626" stroke-width="0.6" fill="none"/>
<text transform="translate(373.0 105.5) rotate(-90)" text-anchor="middle" font-size="12.5">Sv</text>
<rect x="750.1" y="173.72" width="13.3" height="23.07" fill="#f6f6f6"/>
<rect x="750.1" y="150.95" width="13.3" height="23.07" fill="#fddbc7"/>
<rect x="750.1" y="128.18" width="13.3" height="23.07" fill="#f5a886"/>
<rect x="750.1" y="105.40" width="13.3" height="23.07" fill="#ee8a60"/>
<rect x="750.1" y="82.62" width="13.3" height="23.07" fill="#d6604d"/>
<rect x="750.1" y="59.85" width="13.3" height="23.07" fill="#ca0020"/>
<rect x="750.1" y="37.08" width="13.3" height="23.07" fill="#b2182b"/>
<rect x="750.1" y="14.30" width="13.3" height="23.07" fill="#67001f"/>
<rect x="750.1" y="14.3" width="13.3" height="182.2" fill="none" stroke="#262626" stroke-width="0.6"/>
<text x="767.0" y="200.6" font-size="10">0</text>
<text x="767.0" y="177.8" font-size="10">0.4</text>
<text x="767.0" y="155.0" font-size="10">0.8</text>
<text x="767.0" y="132.3" font-size="10">1.2</text>
<text x="767.0" y="109.5" font-size="10">1.6</text>
<text x="767.0" y="86.7" font-size="10">2</text>
<text x="767.0" y="64.0" font-size="10">2.4</text>
<text x="767.0" y="41.2" font-size="10">2.8</text>
<text x="767.0" y="18.4" font-size="10">3.2</text>
<path d="M763.4 196.5h-1.8M763.4 173.7h-1.8M763.4 150.9h-1.8M763.4 128.2h-1.8M763.4 105.4h-1.8M763.4 82.6h-1.8M763.4 59.9h-1.8M763.4 37.1h-1.8M763.4 14.3h-1.8" stroke="#262626" stroke-width="0.6" fill="none"/>
<text transform="translate(794.5 105.4) rotate(-90)" text-anchor="middle" font-size="12.5">Sv</text>
<rect x="325.8" y="437.91" width="13.3" height="11.69" fill="#3e27a8"/>
<rect x="325.8" y="426.53" width="13.3" height="11.69" fill="#4433c8"/>
<rect x="325.8" y="415.14" width="13.3" height="11.69" fill="#4745e5"/>
<rect x="325.8" y="403.75" width="13.3" height="11.69" fill="#4260f6"/>
<rect x="325.8" y="392.36" width="13.3" height="11.69" fill="#2f84f3"/>
<rect x="325.8" y="380.98" width="13.3" height="11.69" fill="#2a97e8"/>
<rect x="325.8" y="369.59" width="13.3" height="11.69" fill="#1aa9dc"/>
<rect x="325.8" y="358.20" width="13.3" height="11.69" fill="#0bb4c8"/>
<rect x="325.8" y="346.81" width="13.3" height="11.69" fill="#1bbfaa"/>
<rect x="325.8" y="335.43" width="13.3" height="11.69" fill="#3fca88"/>
<rect x="325.8" y="324.04" width="13.3" height="11.69" fill="#7ccb5c"/>
<rect x="325.8" y="312.65" width="13.3" height="11.69" fill="#b8be35"/>
<rect x="325.8" y="301.26" width="13.3" height="11.69" fill="#e8b838"/>
<rect x="325.8" y="289.88" width="13.3" height="11.69" fill="#fdbf30"/>
<rect x="325.8" y="278.49" width="13.3" height="11.69" fill="#f5dc28"/>
<rect x="325.8" y="267.10" width="13.3" height="11.69" fill="#fafa14"/>
<rect x="325.8" y="267.1" width="13.3" height="182.2" fill="none" stroke="#262626" stroke-width="0.6"/>
<text x="342.7" y="453.4" font-size="10">0</text>
<text x="342.7" y="430.6" font-size="10">200</text>
<text x="342.7" y="407.9" font-size="10">400</text>
<text x="342.7" y="385.1" font-size="10">600</text>
<text x="342.7" y="362.3" font-size="10">800</text>
<text x="342.7" y="339.5" font-size="10">1000</text>
<text x="342.7" y="316.8" font-size="10">1200</text>
<text x="342.7" y="294.0" font-size="10">1400</text>
<text x="342.7" y="271.2" font-size="10">1600</text>
<path d="M339.1 449.3h-1.8M339.1 426.5h-1.8M339.1 403.8h-1.8M339.1 381.0h-1.8M339.1 358.2h-1.8M339.1 335.4h-1.8M339.1 312.7h-1.8M339.1 289.9h-1.8M339.1 267.1h-1.8" stroke="#262626" stroke-width="0.6" fill="none"/>
<text transform="translate(380.4 358.2) rotate(-90)" text-anchor="middle" font-size="12.5">years</text>
<rect x="325.8" y="690.71" width="13.3" height="11.69" fill="#3e27a8"/>
<rect x="325.8" y="679.32" width="13.3" height="11.69" fill="#4433c8"/>
<rect x="325.8" y="667.94" width="13.3" height="11.69" fill="#4745e5"/>
<rect x="325.8" y="656.55" width="13.3" height="11.69" fill="#4260f6"/>
<rect x="325.8" y="645.16" width="13.3" height="11.69" fill="#2f84f3"/>
<rect x="325.8" y="633.77" width="13.3" height="11.69" fill="#2a97e8"/>
<rect x="325.8" y="622.39" width="13.3" height="11.69" fill="#1aa9dc"/>
<rect x="325.8" y="611.00" width="13.3" height="11.69" fill="#0bb4c8"/>
<rect x="325.8" y="599.61" width="13.3" height="11.69" fill="#1bbfaa"/>
<rect x="325.8" y="588.22" width="13.3" height="11.69" fill="#3fca88"/>
<rect x="325.8" y="576.84" width="13.3" height="11.69" fill="#7ccb5c"/>
<rect x="325.8" y="565.45" width="13.3" height="11.69" fill="#b8be35"/>
<rect x="325.8" y="554.06" width="13.3" height="11.69" fill="#e8b838"/>
<rect x="325.8" y="542.67" width="13.3" height="11.69" fill="#fdbf30"/>
<rect x="325.8" y="531.29" width="13.3" height="11.69" fill="#f5dc28"/>
<rect x="325.8" y="519.90" width="13.3" height="11.69" fill="#fafa14"/>
<rect x="325.8" y="519.9" width="13.3" height="182.2" fill="none" stroke="#262626" stroke-width="0.6"/>
<text x="342.7" y="706.2" font-size="10">0</text>
<text x="342.7" y="683.4" font-size="10">200</text>
<text x="342.7" y="660.6" font-size="10">400</text>
<text x="342.7" y="637.9" font-size="10">600</text>
<text x="342.7" y="615.1" font-size="10">800</text>
<text x="342.7" y="592.3" font-size="10">1000</text>
<text x="342.7" y="569.5" font-size="10">1200</text>
<text x="342.7" y="546.8" font-size="10">1400</text>
<text x="342.7" y="524.0" font-size="10">1600</text>
<path d="M339.1 702.1h-1.8M339.1 679.3h-1.8M339.1 656.5h-1.8M339.1 633.8h-1.8M339.1 611.0h-1.8M339.1 588.2h-1.8M339.1 565.4h-1.8M339.1 542.7h-1.8M339.1 519.9h-1.8" stroke="#262626" stroke-width="0.6" fill="none"/>
<text transform="translate(380.4 611.0) rotate(-90)" text-anchor="middle" font-size="12.5">years</text>
<rect x="750.1" y="426.53" width="13.3" height="23.07" fill="#f6f6f6"/>
<rect x="750.1" y="403.75" width="13.3" height="23.07" fill="#fddbc7"/>
<rect x="750.1" y="380.98" width="13.3" height="23.07" fill="#f5a886"/>
<rect x="750.1" y="358.20" width="13.3" height="23.07" fill="#ee8a60"/>
<rect x="750.1" y="335.43" width="13.3" height="23.07" fill="#d6604d"/>
<rect x="750.1" y="312.65" width="13.3" height="23.07" fill="#ca0020"/>
<rect x="750.1" y="289.88" width="13.3" height="23.07" fill="#b2182b"/>
<rect x="750.1" y="267.10" width="13.3" height="23.07" fill="#67001f"/>
<rect x="750.1" y="267.1" width="13.3" height="182.2" fill="none" stroke="#262626" stroke-width="0.6"/>
<text x="767.0" y="453.4" font-size="10">0</text>
<text x="767.0" y="407.9" font-size="10">15</text>
<text x="767.0" y="362.3" font-size="10">30</text>
<text x="767.0" y="316.8" font-size="10">45</text>
<text x="767.0" y="271.2" font-size="10">60</text>
<path d="M763.4 449.3h-1.8M763.4 403.8h-1.8M763.4 358.2h-1.8M763.4 312.7h-1.8M763.4 267.1h-1.8" stroke="#262626" stroke-width="0.6" fill="none"/>
<text transform="translate(793.9 358.2) rotate(-90)" text-anchor="middle" font-size="12.5">years</text>
<rect x="750.1" y="679.32" width="13.3" height="23.07" fill="#f6f6f6"/>
<rect x="750.1" y="656.55" width="13.3" height="23.07" fill="#fddbc7"/>
<rect x="750.1" y="633.77" width="13.3" height="23.07" fill="#f5a886"/>
<rect x="750.1" y="611.00" width="13.3" height="23.07" fill="#ee8a60"/>
<rect x="750.1" y="588.22" width="13.3" height="23.07" fill="#d6604d"/>
<rect x="750.1" y="565.45" width="13.3" height="23.07" fill="#ca0020"/>
<rect x="750.1" y="542.67" width="13.3" height="23.07" fill="#b2182b"/>
<rect x="750.1" y="519.90" width="13.3" height="23.07" fill="#67001f"/>
<rect x="750.1" y="519.9" width="13.3" height="182.2" fill="none" stroke="#262626" stroke-width="0.6"/>
<text x="767.0" y="706.2" font-size="10">0</text>
<text x="767.0" y="660.6" font-size="10">15</text>
<text x="767.0" y="615.1" font-size="10">30</text>
<text x="767.0" y="569.5" font-size="10">45</text>
<text x="767.0" y="524.0" font-size="10">60</text>
<path d="M763.4 702.1h-1.8M763.4 656.5h-1.8M763.4 611.0h-1.8M763.4 565.4h-1.8M763.4 519.9h-1.8" stroke="#262626" stroke-width="0.6" fill="none"/>
<text transform="translate(793.9 611.0) rotate(-90)" text-anchor="middle" font-size="12.5">years</text>
<text x="175.9" y="9.8" text-anchor="middle" font-size="12.4" font-weight="bold" fill="#111">Pacific MOC</text>
<text x="600.2" y="9.8" text-anchor="middle" font-size="12.4" font-weight="bold" fill="#111">Δ(Pacific MOC)</text>
<text x="175.9" y="261.7" text-anchor="middle" font-size="12.6" letter-spacing="0.22" word-spacing="0.6" font-family='"Liberation Serif", "Times New Roman", serif' fill="#111">Ideal Mean Age, Γ<tspan dy="-2.6" font-size="12.5" letter-spacing="0">↓</tspan><tspan dy="2.6"> </tspan>[Pacific zonal avg.]</text>
<text x="600.2" y="261.7" text-anchor="middle" font-size="12.6" letter-spacing="0.22" word-spacing="0.6" font-family='"Liberation Serif", "Times New Roman", serif' fill="#111">ΔΓ<tspan dy="-2.6" font-size="12.5" letter-spacing="0">↓</tspan><tspan dy="2.6"> </tspan>[Pacific zonal avg.]</text>
<text x="175.9" y="514.5" text-anchor="middle" font-size="12.6" letter-spacing="0.22" word-spacing="0.6" font-family='"Liberation Serif", "Times New Roman", serif' fill="#111">Mean Re-Exposure Time, Γ<tspan dy="-2.6" font-size="12.5" letter-spacing="0">↑</tspan><tspan dy="2.6"> </tspan>[Pacific zonal avg.]</text>
<text x="600.2" y="514.5" text-anchor="middle" font-size="12.6" letter-spacing="0.22" word-spacing="0.6" font-family='"Liberation Serif", "Times New Roman", serif' fill="#111">ΔΓ<tspan dy="-2.6" font-size="12.5" letter-spacing="0">↑</tspan><tspan dy="2.6"> </tspan>[Pacific zonal avg.]</text>
<text x="0" y="11" font-size="14" font-weight="bold" font-family='"Liberation Serif", "Times New Roman", serif' fill="#111">a</text>
<text x="424.5" y="11" font-size="14" font-weight="bold" font-family='"Liberation Serif", "Times New Roman", serif' fill="#111">b</text>
<text x="0" y="264.3" font-size="14" font-weight="bold" font-family='"Liberation Serif", "Times New Roman", serif' fill="#111">c</text>
<text x="424.5" y="264.3" font-size="14" font-weight="bold" font-family='"Liberation Serif", "Times New Roman", serif' fill="#111">d</text>
<text x="0" y="517" font-size="14" font-weight="bold" font-family='"Liberation Serif", "Times New Roman", serif' fill="#111">e</text>
<text x="424.5" y="517" font-size="14" font-weight="bold" font-family='"Liberation Serif", "Times New Roman", serif' fill="#111">f</text>
</svg>
</body></html>
